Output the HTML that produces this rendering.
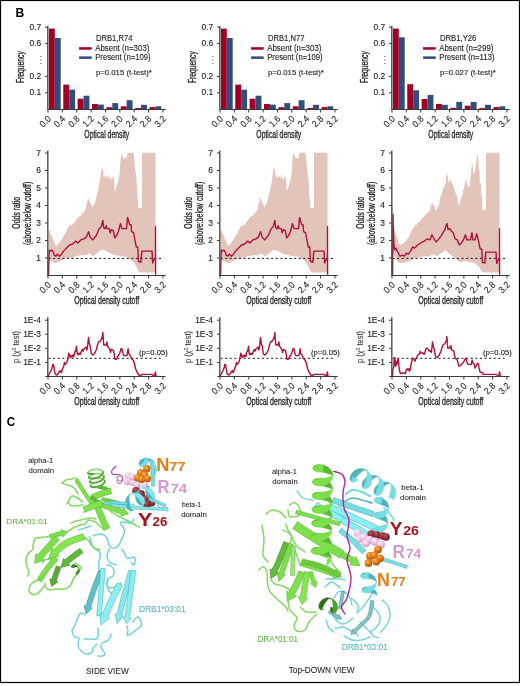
<!DOCTYPE html>
<html><head><meta charset="utf-8"><style>
html,body{margin:0;padding:0;background:#fff;}
svg{display:block;font-family:"Liberation Sans",sans-serif;will-change:transform;}
</style></head><body>
<svg width="520" height="686" viewBox="0 0 520 686">
<rect x="0.5" y="0.5" width="519" height="682" fill="#fff" stroke="#000" stroke-width="1.2"/>
<text transform="translate(15.60,16.60) scale(0.97,1)" font-size="12.5" fill="#000" font-weight="bold">B</text>
<rect x="48.90" y="28.6" width="5.9" height="80.90" fill="#a30026"/>
<rect x="54.80" y="38.0" width="5.9" height="71.50" fill="#304d7d"/>
<rect x="63.27" y="84.6" width="5.9" height="24.90" fill="#a30026"/>
<rect x="69.17" y="89.7" width="5.9" height="19.80" fill="#304d7d"/>
<rect x="77.64" y="98.7" width="5.9" height="10.80" fill="#a30026"/>
<rect x="83.54" y="95.7" width="5.9" height="13.80" fill="#304d7d"/>
<rect x="92.01" y="104.0" width="5.9" height="5.50" fill="#a30026"/>
<rect x="97.91" y="104.6" width="5.9" height="4.90" fill="#304d7d"/>
<rect x="106.38" y="107.2" width="5.9" height="2.30" fill="#a30026"/>
<rect x="112.28" y="103.1" width="5.9" height="6.40" fill="#304d7d"/>
<rect x="120.75" y="106.3" width="5.9" height="3.20" fill="#a30026"/>
<rect x="126.65" y="100.2" width="5.9" height="9.30" fill="#304d7d"/>
<rect x="135.12" y="108.0" width="5.9" height="1.50" fill="#a30026"/>
<rect x="141.02" y="104.8" width="5.9" height="4.70" fill="#304d7d"/>
<rect x="149.49" y="107.1" width="5.9" height="2.40" fill="#a30026"/>
<rect x="155.39" y="106.3" width="5.9" height="3.20" fill="#304d7d"/>
<line x1="47.80" y1="25.8" x2="47.80" y2="109.5" stroke="#4a524e" stroke-width="1.4"/>
<line x1="45.00" y1="27.20" x2="47.80" y2="27.20" stroke="#3a3a3a" stroke-width="1"/>
<text transform="translate(41.20,29.80) scale(0.92,1)" font-size="9.2" fill="#222" stroke="#222" stroke-width="0.12" text-anchor="end">0.7</text>
<line x1="45.00" y1="43.60" x2="47.80" y2="43.60" stroke="#3a3a3a" stroke-width="1"/>
<text transform="translate(41.20,46.20) scale(0.92,1)" font-size="9.2" fill="#222" stroke="#222" stroke-width="0.12" text-anchor="end">0.6</text>
<line x1="45.00" y1="76.40" x2="47.80" y2="76.40" stroke="#3a3a3a" stroke-width="1"/>
<text transform="translate(41.20,79.00) scale(0.92,1)" font-size="9.2" fill="#222" stroke="#222" stroke-width="0.12" text-anchor="end">0.2</text>
<line x1="45.00" y1="92.80" x2="47.80" y2="92.80" stroke="#3a3a3a" stroke-width="1"/>
<text transform="translate(41.20,95.40) scale(0.92,1)" font-size="9.2" fill="#222" stroke="#222" stroke-width="0.12" text-anchor="end">0.1</text>
<circle cx="40.90" cy="56.5" r="0.55" fill="#222"/>
<circle cx="40.90" cy="60.0" r="0.55" fill="#222"/>
<circle cx="40.90" cy="63.5" r="0.55" fill="#222"/>
<line x1="47.10" y1="109.5" x2="165.70" y2="109.5" stroke="#3a3a3a" stroke-width="1.1"/>
<line x1="48.00" y1="109.5" x2="48.00" y2="112.5" stroke="#3a3a3a" stroke-width="1"/>
<text transform="translate(51.50,119.50) rotate(-45) scale(0.92,1)" font-size="9.2" fill="#222" stroke="#222" stroke-width="0.12" text-anchor="end">0.0</text>
<line x1="62.37" y1="109.5" x2="62.37" y2="112.5" stroke="#3a3a3a" stroke-width="1"/>
<text transform="translate(65.87,119.50) rotate(-45) scale(0.92,1)" font-size="9.2" fill="#222" stroke="#222" stroke-width="0.12" text-anchor="end">0.4</text>
<line x1="76.74" y1="109.5" x2="76.74" y2="112.5" stroke="#3a3a3a" stroke-width="1"/>
<text transform="translate(80.24,119.50) rotate(-45) scale(0.92,1)" font-size="9.2" fill="#222" stroke="#222" stroke-width="0.12" text-anchor="end">0.8</text>
<line x1="91.11" y1="109.5" x2="91.11" y2="112.5" stroke="#3a3a3a" stroke-width="1"/>
<text transform="translate(94.61,119.50) rotate(-45) scale(0.92,1)" font-size="9.2" fill="#222" stroke="#222" stroke-width="0.12" text-anchor="end">1.2</text>
<line x1="105.48" y1="109.5" x2="105.48" y2="112.5" stroke="#3a3a3a" stroke-width="1"/>
<text transform="translate(108.98,119.50) rotate(-45) scale(0.92,1)" font-size="9.2" fill="#222" stroke="#222" stroke-width="0.12" text-anchor="end">1.6</text>
<line x1="119.85" y1="109.5" x2="119.85" y2="112.5" stroke="#3a3a3a" stroke-width="1"/>
<text transform="translate(123.35,119.50) rotate(-45) scale(0.92,1)" font-size="9.2" fill="#222" stroke="#222" stroke-width="0.12" text-anchor="end">2.0</text>
<line x1="134.22" y1="109.5" x2="134.22" y2="112.5" stroke="#3a3a3a" stroke-width="1"/>
<text transform="translate(137.72,119.50) rotate(-45) scale(0.92,1)" font-size="9.2" fill="#222" stroke="#222" stroke-width="0.12" text-anchor="end">2.4</text>
<line x1="148.59" y1="109.5" x2="148.59" y2="112.5" stroke="#3a3a3a" stroke-width="1"/>
<text transform="translate(152.09,119.50) rotate(-45) scale(0.92,1)" font-size="9.2" fill="#222" stroke="#222" stroke-width="0.12" text-anchor="end">2.8</text>
<line x1="162.96" y1="109.5" x2="162.96" y2="112.5" stroke="#3a3a3a" stroke-width="1"/>
<text transform="translate(166.46,119.50) rotate(-45) scale(0.92,1)" font-size="9.2" fill="#222" stroke="#222" stroke-width="0.12" text-anchor="end">3.2</text>
<text transform="translate(106.80,137.90)" font-size="10.4" fill="#222" stroke="#222" stroke-width="0.3" text-anchor="middle" textLength="45" lengthAdjust="spacingAndGlyphs">Optical density</text>
<text transform="translate(23.60,67.10) rotate(-90)" font-size="10.4" fill="#222" stroke="#222" stroke-width="0.3" text-anchor="middle" textLength="31.8" lengthAdjust="spacingAndGlyphs">Frequency</text>
<text transform="translate(96.00,41.10)" font-size="8.5" fill="#222" stroke="#222" stroke-width="0.12" textLength="36.4" lengthAdjust="spacingAndGlyphs">DRB1,R74</text>
<rect x="79.10" y="47.2" width="12.6" height="2.5" fill="#a30026"/>
<rect x="79.10" y="56.4" width="12.6" height="2.5" fill="#304d7d"/>
<text transform="translate(95.20,50.60)" font-size="8.3" fill="#222" stroke="#222" stroke-width="0.12" textLength="54.2" lengthAdjust="spacingAndGlyphs">Absent (n=303)</text>
<text transform="translate(95.20,59.60)" font-size="8.3" fill="#222" stroke="#222" stroke-width="0.12" textLength="55.4" lengthAdjust="spacingAndGlyphs">Present (n=109)</text>
<text transform="translate(95.90,74.60)" font-size="8.1" fill="#222" stroke="#222" stroke-width="0.12" textLength="56.0" lengthAdjust="spacingAndGlyphs">p=0.015 (t-test)*</text>
<rect x="220.90" y="28.6" width="5.9" height="80.90" fill="#a30026"/>
<rect x="226.80" y="38.0" width="5.9" height="71.50" fill="#304d7d"/>
<rect x="235.27" y="84.6" width="5.9" height="24.90" fill="#a30026"/>
<rect x="241.17" y="89.7" width="5.9" height="19.80" fill="#304d7d"/>
<rect x="249.64" y="98.7" width="5.9" height="10.80" fill="#a30026"/>
<rect x="255.54" y="95.7" width="5.9" height="13.80" fill="#304d7d"/>
<rect x="264.01" y="104.0" width="5.9" height="5.50" fill="#a30026"/>
<rect x="269.91" y="104.6" width="5.9" height="4.90" fill="#304d7d"/>
<rect x="278.38" y="107.2" width="5.9" height="2.30" fill="#a30026"/>
<rect x="284.28" y="103.1" width="5.9" height="6.40" fill="#304d7d"/>
<rect x="292.75" y="106.3" width="5.9" height="3.20" fill="#a30026"/>
<rect x="298.65" y="100.2" width="5.9" height="9.30" fill="#304d7d"/>
<rect x="307.12" y="108.0" width="5.9" height="1.50" fill="#a30026"/>
<rect x="313.02" y="104.8" width="5.9" height="4.70" fill="#304d7d"/>
<rect x="321.49" y="107.1" width="5.9" height="2.40" fill="#a30026"/>
<rect x="327.39" y="106.3" width="5.9" height="3.20" fill="#304d7d"/>
<line x1="219.80" y1="25.8" x2="219.80" y2="109.5" stroke="#4a524e" stroke-width="1.4"/>
<line x1="217.00" y1="27.20" x2="219.80" y2="27.20" stroke="#3a3a3a" stroke-width="1"/>
<text transform="translate(213.20,29.80) scale(0.92,1)" font-size="9.2" fill="#222" stroke="#222" stroke-width="0.12" text-anchor="end">0.7</text>
<line x1="217.00" y1="43.60" x2="219.80" y2="43.60" stroke="#3a3a3a" stroke-width="1"/>
<text transform="translate(213.20,46.20) scale(0.92,1)" font-size="9.2" fill="#222" stroke="#222" stroke-width="0.12" text-anchor="end">0.6</text>
<line x1="217.00" y1="76.40" x2="219.80" y2="76.40" stroke="#3a3a3a" stroke-width="1"/>
<text transform="translate(213.20,79.00) scale(0.92,1)" font-size="9.2" fill="#222" stroke="#222" stroke-width="0.12" text-anchor="end">0.2</text>
<line x1="217.00" y1="92.80" x2="219.80" y2="92.80" stroke="#3a3a3a" stroke-width="1"/>
<text transform="translate(213.20,95.40) scale(0.92,1)" font-size="9.2" fill="#222" stroke="#222" stroke-width="0.12" text-anchor="end">0.1</text>
<circle cx="212.90" cy="56.5" r="0.55" fill="#222"/>
<circle cx="212.90" cy="60.0" r="0.55" fill="#222"/>
<circle cx="212.90" cy="63.5" r="0.55" fill="#222"/>
<line x1="219.10" y1="109.5" x2="337.70" y2="109.5" stroke="#3a3a3a" stroke-width="1.1"/>
<line x1="220.00" y1="109.5" x2="220.00" y2="112.5" stroke="#3a3a3a" stroke-width="1"/>
<text transform="translate(223.50,119.50) rotate(-45) scale(0.92,1)" font-size="9.2" fill="#222" stroke="#222" stroke-width="0.12" text-anchor="end">0.0</text>
<line x1="234.37" y1="109.5" x2="234.37" y2="112.5" stroke="#3a3a3a" stroke-width="1"/>
<text transform="translate(237.87,119.50) rotate(-45) scale(0.92,1)" font-size="9.2" fill="#222" stroke="#222" stroke-width="0.12" text-anchor="end">0.4</text>
<line x1="248.74" y1="109.5" x2="248.74" y2="112.5" stroke="#3a3a3a" stroke-width="1"/>
<text transform="translate(252.24,119.50) rotate(-45) scale(0.92,1)" font-size="9.2" fill="#222" stroke="#222" stroke-width="0.12" text-anchor="end">0.8</text>
<line x1="263.11" y1="109.5" x2="263.11" y2="112.5" stroke="#3a3a3a" stroke-width="1"/>
<text transform="translate(266.61,119.50) rotate(-45) scale(0.92,1)" font-size="9.2" fill="#222" stroke="#222" stroke-width="0.12" text-anchor="end">1.2</text>
<line x1="277.48" y1="109.5" x2="277.48" y2="112.5" stroke="#3a3a3a" stroke-width="1"/>
<text transform="translate(280.98,119.50) rotate(-45) scale(0.92,1)" font-size="9.2" fill="#222" stroke="#222" stroke-width="0.12" text-anchor="end">1.6</text>
<line x1="291.85" y1="109.5" x2="291.85" y2="112.5" stroke="#3a3a3a" stroke-width="1"/>
<text transform="translate(295.35,119.50) rotate(-45) scale(0.92,1)" font-size="9.2" fill="#222" stroke="#222" stroke-width="0.12" text-anchor="end">2.0</text>
<line x1="306.22" y1="109.5" x2="306.22" y2="112.5" stroke="#3a3a3a" stroke-width="1"/>
<text transform="translate(309.72,119.50) rotate(-45) scale(0.92,1)" font-size="9.2" fill="#222" stroke="#222" stroke-width="0.12" text-anchor="end">2.4</text>
<line x1="320.59" y1="109.5" x2="320.59" y2="112.5" stroke="#3a3a3a" stroke-width="1"/>
<text transform="translate(324.09,119.50) rotate(-45) scale(0.92,1)" font-size="9.2" fill="#222" stroke="#222" stroke-width="0.12" text-anchor="end">2.8</text>
<line x1="334.96" y1="109.5" x2="334.96" y2="112.5" stroke="#3a3a3a" stroke-width="1"/>
<text transform="translate(338.46,119.50) rotate(-45) scale(0.92,1)" font-size="9.2" fill="#222" stroke="#222" stroke-width="0.12" text-anchor="end">3.2</text>
<text transform="translate(278.80,137.90)" font-size="10.4" fill="#222" stroke="#222" stroke-width="0.3" text-anchor="middle" textLength="45" lengthAdjust="spacingAndGlyphs">Optical density</text>
<text transform="translate(195.60,67.10) rotate(-90)" font-size="10.4" fill="#222" stroke="#222" stroke-width="0.3" text-anchor="middle" textLength="31.8" lengthAdjust="spacingAndGlyphs">Frequency</text>
<text transform="translate(268.00,41.10)" font-size="8.5" fill="#222" stroke="#222" stroke-width="0.12" textLength="36.4" lengthAdjust="spacingAndGlyphs">DRB1,N77</text>
<rect x="251.10" y="47.2" width="12.6" height="2.5" fill="#a30026"/>
<rect x="251.10" y="56.4" width="12.6" height="2.5" fill="#304d7d"/>
<text transform="translate(267.20,50.60)" font-size="8.3" fill="#222" stroke="#222" stroke-width="0.12" textLength="54.2" lengthAdjust="spacingAndGlyphs">Absent (n=303)</text>
<text transform="translate(267.20,59.60)" font-size="8.3" fill="#222" stroke="#222" stroke-width="0.12" textLength="55.4" lengthAdjust="spacingAndGlyphs">Present (n=109)</text>
<text transform="translate(267.90,74.60)" font-size="8.1" fill="#222" stroke="#222" stroke-width="0.12" textLength="56.0" lengthAdjust="spacingAndGlyphs">p=0.015 (t-test)*</text>
<rect x="392.90" y="28.6" width="5.9" height="80.90" fill="#a30026"/>
<rect x="398.80" y="37.3" width="5.9" height="72.20" fill="#304d7d"/>
<rect x="407.27" y="84.2" width="5.9" height="25.30" fill="#a30026"/>
<rect x="413.17" y="90.3" width="5.9" height="19.20" fill="#304d7d"/>
<rect x="421.64" y="99.0" width="5.9" height="10.50" fill="#a30026"/>
<rect x="427.54" y="94.9" width="5.9" height="14.60" fill="#304d7d"/>
<rect x="436.01" y="103.9" width="5.9" height="5.60" fill="#a30026"/>
<rect x="441.91" y="104.8" width="5.9" height="4.70" fill="#304d7d"/>
<rect x="450.38" y="107.8" width="5.9" height="1.70" fill="#a30026"/>
<rect x="456.28" y="101.9" width="5.9" height="7.60" fill="#304d7d"/>
<rect x="464.75" y="105.7" width="5.9" height="3.80" fill="#a30026"/>
<rect x="470.65" y="101.9" width="5.9" height="7.60" fill="#304d7d"/>
<rect x="479.12" y="108.1" width="5.9" height="1.40" fill="#a30026"/>
<rect x="485.02" y="104.8" width="5.9" height="4.70" fill="#304d7d"/>
<rect x="493.49" y="107.1" width="5.9" height="2.40" fill="#a30026"/>
<rect x="499.39" y="106.3" width="5.9" height="3.20" fill="#304d7d"/>
<line x1="391.80" y1="25.8" x2="391.80" y2="109.5" stroke="#4a524e" stroke-width="1.4"/>
<line x1="389.00" y1="27.20" x2="391.80" y2="27.20" stroke="#3a3a3a" stroke-width="1"/>
<text transform="translate(385.20,29.80) scale(0.92,1)" font-size="9.2" fill="#222" stroke="#222" stroke-width="0.12" text-anchor="end">0.7</text>
<line x1="389.00" y1="43.60" x2="391.80" y2="43.60" stroke="#3a3a3a" stroke-width="1"/>
<text transform="translate(385.20,46.20) scale(0.92,1)" font-size="9.2" fill="#222" stroke="#222" stroke-width="0.12" text-anchor="end">0.6</text>
<line x1="389.00" y1="76.40" x2="391.80" y2="76.40" stroke="#3a3a3a" stroke-width="1"/>
<text transform="translate(385.20,79.00) scale(0.92,1)" font-size="9.2" fill="#222" stroke="#222" stroke-width="0.12" text-anchor="end">0.2</text>
<line x1="389.00" y1="92.80" x2="391.80" y2="92.80" stroke="#3a3a3a" stroke-width="1"/>
<text transform="translate(385.20,95.40) scale(0.92,1)" font-size="9.2" fill="#222" stroke="#222" stroke-width="0.12" text-anchor="end">0.1</text>
<circle cx="384.90" cy="56.5" r="0.55" fill="#222"/>
<circle cx="384.90" cy="60.0" r="0.55" fill="#222"/>
<circle cx="384.90" cy="63.5" r="0.55" fill="#222"/>
<line x1="391.10" y1="109.5" x2="509.70" y2="109.5" stroke="#3a3a3a" stroke-width="1.1"/>
<line x1="392.00" y1="109.5" x2="392.00" y2="112.5" stroke="#3a3a3a" stroke-width="1"/>
<text transform="translate(395.50,119.50) rotate(-45) scale(0.92,1)" font-size="9.2" fill="#222" stroke="#222" stroke-width="0.12" text-anchor="end">0.0</text>
<line x1="406.37" y1="109.5" x2="406.37" y2="112.5" stroke="#3a3a3a" stroke-width="1"/>
<text transform="translate(409.87,119.50) rotate(-45) scale(0.92,1)" font-size="9.2" fill="#222" stroke="#222" stroke-width="0.12" text-anchor="end">0.4</text>
<line x1="420.74" y1="109.5" x2="420.74" y2="112.5" stroke="#3a3a3a" stroke-width="1"/>
<text transform="translate(424.24,119.50) rotate(-45) scale(0.92,1)" font-size="9.2" fill="#222" stroke="#222" stroke-width="0.12" text-anchor="end">0.8</text>
<line x1="435.11" y1="109.5" x2="435.11" y2="112.5" stroke="#3a3a3a" stroke-width="1"/>
<text transform="translate(438.61,119.50) rotate(-45) scale(0.92,1)" font-size="9.2" fill="#222" stroke="#222" stroke-width="0.12" text-anchor="end">1.2</text>
<line x1="449.48" y1="109.5" x2="449.48" y2="112.5" stroke="#3a3a3a" stroke-width="1"/>
<text transform="translate(452.98,119.50) rotate(-45) scale(0.92,1)" font-size="9.2" fill="#222" stroke="#222" stroke-width="0.12" text-anchor="end">1.6</text>
<line x1="463.85" y1="109.5" x2="463.85" y2="112.5" stroke="#3a3a3a" stroke-width="1"/>
<text transform="translate(467.35,119.50) rotate(-45) scale(0.92,1)" font-size="9.2" fill="#222" stroke="#222" stroke-width="0.12" text-anchor="end">2.0</text>
<line x1="478.22" y1="109.5" x2="478.22" y2="112.5" stroke="#3a3a3a" stroke-width="1"/>
<text transform="translate(481.72,119.50) rotate(-45) scale(0.92,1)" font-size="9.2" fill="#222" stroke="#222" stroke-width="0.12" text-anchor="end">2.4</text>
<line x1="492.59" y1="109.5" x2="492.59" y2="112.5" stroke="#3a3a3a" stroke-width="1"/>
<text transform="translate(496.09,119.50) rotate(-45) scale(0.92,1)" font-size="9.2" fill="#222" stroke="#222" stroke-width="0.12" text-anchor="end">2.8</text>
<line x1="506.96" y1="109.5" x2="506.96" y2="112.5" stroke="#3a3a3a" stroke-width="1"/>
<text transform="translate(510.46,119.50) rotate(-45) scale(0.92,1)" font-size="9.2" fill="#222" stroke="#222" stroke-width="0.12" text-anchor="end">3.2</text>
<text transform="translate(450.80,137.90)" font-size="10.4" fill="#222" stroke="#222" stroke-width="0.3" text-anchor="middle" textLength="45" lengthAdjust="spacingAndGlyphs">Optical density</text>
<text transform="translate(367.60,67.10) rotate(-90)" font-size="10.4" fill="#222" stroke="#222" stroke-width="0.3" text-anchor="middle" textLength="31.8" lengthAdjust="spacingAndGlyphs">Frequency</text>
<text transform="translate(440.00,41.10)" font-size="8.5" fill="#222" stroke="#222" stroke-width="0.12" textLength="36.4" lengthAdjust="spacingAndGlyphs">DRB1,Y26</text>
<rect x="423.10" y="47.2" width="12.6" height="2.5" fill="#a30026"/>
<rect x="423.10" y="56.4" width="12.6" height="2.5" fill="#304d7d"/>
<text transform="translate(439.20,50.60)" font-size="8.3" fill="#222" stroke="#222" stroke-width="0.12" textLength="54.2" lengthAdjust="spacingAndGlyphs">Absent (n=299)</text>
<text transform="translate(439.20,59.60)" font-size="8.3" fill="#222" stroke="#222" stroke-width="0.12" textLength="55.4" lengthAdjust="spacingAndGlyphs">Present (n=113)</text>
<text transform="translate(439.90,74.60)" font-size="8.1" fill="#222" stroke="#222" stroke-width="0.12" textLength="56.0" lengthAdjust="spacingAndGlyphs">p=0.027 (t-test)*</text>
<path d="M48.57,232.76 L48.73,232.24 L48.98,230.29 L49.38,230.29 L49.63,232.24 L49.80,231.73 L49.55,232.24 L49.80,230.07 L50.20,230.07 L50.45,232.24 L50.20,232.76 L51.22,234.80 L52.24,236.84 L53.33,240.92 L53.58,240.87 L53.98,240.87 L54.23,240.92 L55.31,245.00 L55.82,245.51 L56.33,246.02 L56.90,245.00 L57.15,244.16 L57.55,244.16 L57.80,245.00 L58.37,243.98 L59.39,242.45 L60.41,240.92 L61.77,238.88 L63.13,236.84 L64.49,234.80 L65.85,232.07 L67.21,229.35 L68.57,226.63 L69.48,225.95 L69.73,223.67 L70.13,223.67 L70.38,225.95 L71.29,225.27 L72.65,224.59 L74.18,222.55 L75.71,220.51 L76.73,218.98 L77.76,217.45 L79.29,216.43 L80.82,215.41 L81.90,213.88 L82.15,211.15 L82.55,211.15 L82.80,213.88 L83.88,212.35 L84.90,210.31 L85.92,208.27 L86.49,202.65 L86.74,202.54 L87.14,202.54 L87.39,202.65 L87.96,197.04 L88.98,199.59 L90.00,202.14 L91.33,204.69 L92.65,207.24 L93.88,204.69 L95.10,202.14 L96.63,196.02 L98.16,189.90 L99.18,184.29 L100.20,178.67 L101.12,172.04 L102.04,165.41 L102.41,171.53 L102.66,168.65 L103.06,168.65 L103.31,171.53 L103.67,177.65 L103.94,178.16 L104.19,174.80 L104.59,174.80 L104.84,178.16 L105.10,178.67 L105.61,177.14 L106.12,175.61 L106.69,176.63 L106.94,176.14 L107.34,176.14 L107.59,176.63 L108.16,177.65 L108.73,177.65 L108.98,174.18 L109.38,174.18 L109.63,177.65 L110.20,177.65 L110.26,180.20 L110.51,177.95 L110.91,177.95 L111.16,180.20 L111.22,182.76 L111.28,180.20 L111.53,178.38 L111.93,178.38 L112.18,180.20 L112.24,177.65 L112.61,177.14 L112.86,175.88 L113.26,175.88 L113.51,177.14 L113.88,176.63 L114.29,183.78 L114.69,190.92 L115.31,189.90 L115.92,188.88 L116.63,186.33 L117.35,183.78 L118.37,179.69 L119.39,175.61 L119.90,168.47 L120.41,161.33 L121.43,152.76 L123.47,158.27 L125.00,158.27 L126.53,158.27 L127.55,152.76 L133.67,152.76 L134.69,165.41 L135.51,171.53 L136.33,177.65 L136.84,185.82 L137.35,193.98 L137.41,201.12 L137.66,198.02 L138.06,198.02 L138.31,201.12 L138.37,208.27 L139.52,208.27 L140.68,208.27 L141.84,208.27 L142.04,152.76 L155.51,152.76 L155.51,273.57 L155.10,272.55 L140.82,272.55 L138.37,271.53 L136.33,266.43 L133.67,262.35 L130.61,259.29 L126.53,256.84 L120.41,256.22 L116.33,255.20 L112.24,254.18 L108.16,252.14 L104.08,250.10 L101.22,250.10 L97.14,253.16 L93.06,256.22 L88.98,253.16 L85.92,255.20 L80.82,255.20 L75.71,256.22 L70.61,258.27 L66.53,258.27 L62.45,260.31 L58.37,262.35 L55.31,263.37 L52.24,261.33 L50.20,261.33 L48.57,259.29 Z" fill="#e2c4ba"/>
<line x1="48.50" y1="258.4" x2="161.20" y2="258.4" stroke="#1a1a1a" stroke-width="1" stroke-dasharray="2.1,2.5"/>
<path d="M48.57,275.20 L49.18,250.10 L50.20,251.12 L51.84,250.10 L53.27,252.14 L54.29,255.20 L55.92,256.22 L57.35,254.18 L59.39,256.22 L61.43,254.18 L63.47,251.12 L66.53,248.06 L69.59,245.00 L72.65,243.98 L75.71,240.92 L77.76,242.96 L80.82,239.90 L83.88,238.88 L86.53,236.84 L88.57,231.73 L90.00,236.84 L92.65,239.90 L96.12,235.82 L99.18,228.67 L101.22,226.63 L102.86,220.51 L103.67,227.65 L105.10,228.67 L106.12,225.61 L107.14,228.67 L109.18,228.67 L110.20,232.76 L111.22,229.69 L113.27,230.71 L114.69,237.86 L116.33,235.82 L118.37,231.73 L120.41,223.57 L122.04,228.67 L126.53,228.67 L127.55,217.45 L129.59,224.59 L131.02,224.59 L131.63,231.73 L133.67,232.76 L134.69,238.88 L136.33,247.04 L137.76,247.04 L138.37,261.33 L140.82,262.35 L141.84,251.12 L152.04,251.12 L152.65,262.96 L154.08,259.29 L155.10,258.27 L155.51,258.27 L155.51,226.63 L155.59,274.80" fill="none" stroke="#b0113a" stroke-width="1.4" stroke-linejoin="round"/>
<line x1="47.80" y1="150.6" x2="47.80" y2="275.5" stroke="#4a524e" stroke-width="1.4"/>
<line x1="45.00" y1="258.00" x2="47.80" y2="258.00" stroke="#3a3a3a" stroke-width="1"/>
<text transform="translate(41.00,260.60) scale(0.92,1)" font-size="9.2" fill="#222" stroke="#222" stroke-width="0.12" text-anchor="end">1</text>
<line x1="45.00" y1="240.50" x2="47.80" y2="240.50" stroke="#3a3a3a" stroke-width="1"/>
<text transform="translate(41.00,243.10) scale(0.92,1)" font-size="9.2" fill="#222" stroke="#222" stroke-width="0.12" text-anchor="end">2</text>
<line x1="45.00" y1="223.00" x2="47.80" y2="223.00" stroke="#3a3a3a" stroke-width="1"/>
<text transform="translate(41.00,225.60) scale(0.92,1)" font-size="9.2" fill="#222" stroke="#222" stroke-width="0.12" text-anchor="end">3</text>
<line x1="45.00" y1="205.50" x2="47.80" y2="205.50" stroke="#3a3a3a" stroke-width="1"/>
<text transform="translate(41.00,208.10) scale(0.92,1)" font-size="9.2" fill="#222" stroke="#222" stroke-width="0.12" text-anchor="end">4</text>
<line x1="45.00" y1="188.00" x2="47.80" y2="188.00" stroke="#3a3a3a" stroke-width="1"/>
<text transform="translate(41.00,190.60) scale(0.92,1)" font-size="9.2" fill="#222" stroke="#222" stroke-width="0.12" text-anchor="end">5</text>
<line x1="45.00" y1="170.50" x2="47.80" y2="170.50" stroke="#3a3a3a" stroke-width="1"/>
<text transform="translate(41.00,173.10) scale(0.92,1)" font-size="9.2" fill="#222" stroke="#222" stroke-width="0.12" text-anchor="end">6</text>
<line x1="45.00" y1="153.00" x2="47.80" y2="153.00" stroke="#3a3a3a" stroke-width="1"/>
<text transform="translate(41.00,155.60) scale(0.92,1)" font-size="9.2" fill="#222" stroke="#222" stroke-width="0.12" text-anchor="end">7</text>
<line x1="47.10" y1="275.5" x2="165.70" y2="275.5" stroke="#3a3a3a" stroke-width="1.1"/>
<line x1="48.00" y1="275.5" x2="48.00" y2="278.5" stroke="#3a3a3a" stroke-width="1"/>
<text transform="translate(51.50,285.50) rotate(-45) scale(0.92,1)" font-size="9.2" fill="#222" stroke="#222" stroke-width="0.12" text-anchor="end">0.0</text>
<line x1="62.37" y1="275.5" x2="62.37" y2="278.5" stroke="#3a3a3a" stroke-width="1"/>
<text transform="translate(65.87,285.50) rotate(-45) scale(0.92,1)" font-size="9.2" fill="#222" stroke="#222" stroke-width="0.12" text-anchor="end">0.4</text>
<line x1="76.74" y1="275.5" x2="76.74" y2="278.5" stroke="#3a3a3a" stroke-width="1"/>
<text transform="translate(80.24,285.50) rotate(-45) scale(0.92,1)" font-size="9.2" fill="#222" stroke="#222" stroke-width="0.12" text-anchor="end">0.8</text>
<line x1="91.11" y1="275.5" x2="91.11" y2="278.5" stroke="#3a3a3a" stroke-width="1"/>
<text transform="translate(94.61,285.50) rotate(-45) scale(0.92,1)" font-size="9.2" fill="#222" stroke="#222" stroke-width="0.12" text-anchor="end">1.2</text>
<line x1="105.48" y1="275.5" x2="105.48" y2="278.5" stroke="#3a3a3a" stroke-width="1"/>
<text transform="translate(108.98,285.50) rotate(-45) scale(0.92,1)" font-size="9.2" fill="#222" stroke="#222" stroke-width="0.12" text-anchor="end">1.6</text>
<line x1="119.85" y1="275.5" x2="119.85" y2="278.5" stroke="#3a3a3a" stroke-width="1"/>
<text transform="translate(123.35,285.50) rotate(-45) scale(0.92,1)" font-size="9.2" fill="#222" stroke="#222" stroke-width="0.12" text-anchor="end">2.0</text>
<line x1="134.22" y1="275.5" x2="134.22" y2="278.5" stroke="#3a3a3a" stroke-width="1"/>
<text transform="translate(137.72,285.50) rotate(-45) scale(0.92,1)" font-size="9.2" fill="#222" stroke="#222" stroke-width="0.12" text-anchor="end">2.4</text>
<line x1="148.59" y1="275.5" x2="148.59" y2="278.5" stroke="#3a3a3a" stroke-width="1"/>
<text transform="translate(152.09,285.50) rotate(-45) scale(0.92,1)" font-size="9.2" fill="#222" stroke="#222" stroke-width="0.12" text-anchor="end">2.8</text>
<line x1="162.96" y1="275.5" x2="162.96" y2="278.5" stroke="#3a3a3a" stroke-width="1"/>
<text transform="translate(166.46,285.50) rotate(-45) scale(0.92,1)" font-size="9.2" fill="#222" stroke="#222" stroke-width="0.12" text-anchor="end">3.2</text>
<text transform="translate(106.80,304.40)" font-size="10.4" fill="#222" stroke="#222" stroke-width="0.3" text-anchor="middle" textLength="65" lengthAdjust="spacingAndGlyphs">Optical density cutoff</text>
<text transform="translate(20.00,212.80) rotate(-90)" font-size="10.6" fill="#222" stroke="#222" stroke-width="0.3" text-anchor="middle" textLength="31.8" lengthAdjust="spacingAndGlyphs">Odds ratio</text>
<text transform="translate(30.60,213.30) rotate(-90)" font-size="10.6" fill="#222" stroke="#222" stroke-width="0.3" text-anchor="middle" textLength="63.4" lengthAdjust="spacingAndGlyphs">(above:below cutoff)</text>
<path d="M220.57,232.76 L220.73,232.24 L220.98,230.29 L221.38,230.29 L221.63,232.24 L221.80,231.73 L221.55,232.24 L221.80,230.07 L222.20,230.07 L222.45,232.24 L222.20,232.76 L223.22,234.80 L224.24,236.84 L225.33,240.92 L225.58,240.87 L225.98,240.87 L226.23,240.92 L227.31,245.00 L227.82,245.51 L228.33,246.02 L228.90,245.00 L229.15,244.16 L229.55,244.16 L229.80,245.00 L230.37,243.98 L231.39,242.45 L232.41,240.92 L233.77,238.88 L235.13,236.84 L236.49,234.80 L237.85,232.07 L239.21,229.35 L240.57,226.63 L241.48,225.95 L241.73,223.67 L242.13,223.67 L242.38,225.95 L243.29,225.27 L244.65,224.59 L246.18,222.55 L247.71,220.51 L248.73,218.98 L249.76,217.45 L251.29,216.43 L252.82,215.41 L253.90,213.88 L254.15,211.15 L254.55,211.15 L254.80,213.88 L255.88,212.35 L256.90,210.31 L257.92,208.27 L258.49,202.65 L258.74,202.54 L259.14,202.54 L259.39,202.65 L259.96,197.04 L260.98,199.59 L262.00,202.14 L263.33,204.69 L264.65,207.24 L265.88,204.69 L267.10,202.14 L268.63,196.02 L270.16,189.90 L271.18,184.29 L272.20,178.67 L273.12,172.04 L274.04,165.41 L274.41,171.53 L274.66,168.65 L275.06,168.65 L275.31,171.53 L275.67,177.65 L275.94,178.16 L276.19,174.80 L276.59,174.80 L276.84,178.16 L277.10,178.67 L277.61,177.14 L278.12,175.61 L278.69,176.63 L278.94,176.14 L279.34,176.14 L279.59,176.63 L280.16,177.65 L280.73,177.65 L280.98,174.18 L281.38,174.18 L281.63,177.65 L282.20,177.65 L282.26,180.20 L282.51,177.95 L282.91,177.95 L283.16,180.20 L283.22,182.76 L283.28,180.20 L283.53,178.38 L283.93,178.38 L284.18,180.20 L284.24,177.65 L284.61,177.14 L284.86,175.88 L285.26,175.88 L285.51,177.14 L285.88,176.63 L286.29,183.78 L286.69,190.92 L287.31,189.90 L287.92,188.88 L288.63,186.33 L289.35,183.78 L290.37,179.69 L291.39,175.61 L291.90,168.47 L292.41,161.33 L293.43,152.76 L295.47,158.27 L297.00,158.27 L298.53,158.27 L299.55,152.76 L305.67,152.76 L306.69,165.41 L307.51,171.53 L308.33,177.65 L308.84,185.82 L309.35,193.98 L309.41,201.12 L309.66,198.02 L310.06,198.02 L310.31,201.12 L310.37,208.27 L311.52,208.27 L312.68,208.27 L313.84,208.27 L314.04,152.76 L327.51,152.76 L327.51,273.57 L327.10,272.55 L312.82,272.55 L310.37,271.53 L308.33,266.43 L305.67,262.35 L302.61,259.29 L298.53,256.84 L292.41,256.22 L288.33,255.20 L284.24,254.18 L280.16,252.14 L276.08,250.10 L273.22,250.10 L269.14,253.16 L265.06,256.22 L260.98,253.16 L257.92,255.20 L252.82,255.20 L247.71,256.22 L242.61,258.27 L238.53,258.27 L234.45,260.31 L230.37,262.35 L227.31,263.37 L224.24,261.33 L222.20,261.33 L220.57,259.29 Z" fill="#e2c4ba"/>
<line x1="220.50" y1="258.4" x2="333.20" y2="258.4" stroke="#1a1a1a" stroke-width="1" stroke-dasharray="2.1,2.5"/>
<path d="M220.57,275.20 L221.18,250.10 L222.20,251.12 L223.84,250.10 L225.27,252.14 L226.29,255.20 L227.92,256.22 L229.35,254.18 L231.39,256.22 L233.43,254.18 L235.47,251.12 L238.53,248.06 L241.59,245.00 L244.65,243.98 L247.71,240.92 L249.76,242.96 L252.82,239.90 L255.88,238.88 L258.53,236.84 L260.57,231.73 L262.00,236.84 L264.65,239.90 L268.12,235.82 L271.18,228.67 L273.22,226.63 L274.86,220.51 L275.67,227.65 L277.10,228.67 L278.12,225.61 L279.14,228.67 L281.18,228.67 L282.20,232.76 L283.22,229.69 L285.27,230.71 L286.69,237.86 L288.33,235.82 L290.37,231.73 L292.41,223.57 L294.04,228.67 L298.53,228.67 L299.55,217.45 L301.59,224.59 L303.02,224.59 L303.63,231.73 L305.67,232.76 L306.69,238.88 L308.33,247.04 L309.76,247.04 L310.37,261.33 L312.82,262.35 L313.84,251.12 L324.04,251.12 L324.65,262.96 L326.08,259.29 L327.10,258.27 L327.51,258.27 L327.51,226.63 L327.59,274.80" fill="none" stroke="#b0113a" stroke-width="1.4" stroke-linejoin="round"/>
<line x1="219.80" y1="150.6" x2="219.80" y2="275.5" stroke="#4a524e" stroke-width="1.4"/>
<line x1="217.00" y1="258.00" x2="219.80" y2="258.00" stroke="#3a3a3a" stroke-width="1"/>
<text transform="translate(213.00,260.60) scale(0.92,1)" font-size="9.2" fill="#222" stroke="#222" stroke-width="0.12" text-anchor="end">1</text>
<line x1="217.00" y1="240.50" x2="219.80" y2="240.50" stroke="#3a3a3a" stroke-width="1"/>
<text transform="translate(213.00,243.10) scale(0.92,1)" font-size="9.2" fill="#222" stroke="#222" stroke-width="0.12" text-anchor="end">2</text>
<line x1="217.00" y1="223.00" x2="219.80" y2="223.00" stroke="#3a3a3a" stroke-width="1"/>
<text transform="translate(213.00,225.60) scale(0.92,1)" font-size="9.2" fill="#222" stroke="#222" stroke-width="0.12" text-anchor="end">3</text>
<line x1="217.00" y1="205.50" x2="219.80" y2="205.50" stroke="#3a3a3a" stroke-width="1"/>
<text transform="translate(213.00,208.10) scale(0.92,1)" font-size="9.2" fill="#222" stroke="#222" stroke-width="0.12" text-anchor="end">4</text>
<line x1="217.00" y1="188.00" x2="219.80" y2="188.00" stroke="#3a3a3a" stroke-width="1"/>
<text transform="translate(213.00,190.60) scale(0.92,1)" font-size="9.2" fill="#222" stroke="#222" stroke-width="0.12" text-anchor="end">5</text>
<line x1="217.00" y1="170.50" x2="219.80" y2="170.50" stroke="#3a3a3a" stroke-width="1"/>
<text transform="translate(213.00,173.10) scale(0.92,1)" font-size="9.2" fill="#222" stroke="#222" stroke-width="0.12" text-anchor="end">6</text>
<line x1="217.00" y1="153.00" x2="219.80" y2="153.00" stroke="#3a3a3a" stroke-width="1"/>
<text transform="translate(213.00,155.60) scale(0.92,1)" font-size="9.2" fill="#222" stroke="#222" stroke-width="0.12" text-anchor="end">7</text>
<line x1="219.10" y1="275.5" x2="337.70" y2="275.5" stroke="#3a3a3a" stroke-width="1.1"/>
<line x1="220.00" y1="275.5" x2="220.00" y2="278.5" stroke="#3a3a3a" stroke-width="1"/>
<text transform="translate(223.50,285.50) rotate(-45) scale(0.92,1)" font-size="9.2" fill="#222" stroke="#222" stroke-width="0.12" text-anchor="end">0.0</text>
<line x1="234.37" y1="275.5" x2="234.37" y2="278.5" stroke="#3a3a3a" stroke-width="1"/>
<text transform="translate(237.87,285.50) rotate(-45) scale(0.92,1)" font-size="9.2" fill="#222" stroke="#222" stroke-width="0.12" text-anchor="end">0.4</text>
<line x1="248.74" y1="275.5" x2="248.74" y2="278.5" stroke="#3a3a3a" stroke-width="1"/>
<text transform="translate(252.24,285.50) rotate(-45) scale(0.92,1)" font-size="9.2" fill="#222" stroke="#222" stroke-width="0.12" text-anchor="end">0.8</text>
<line x1="263.11" y1="275.5" x2="263.11" y2="278.5" stroke="#3a3a3a" stroke-width="1"/>
<text transform="translate(266.61,285.50) rotate(-45) scale(0.92,1)" font-size="9.2" fill="#222" stroke="#222" stroke-width="0.12" text-anchor="end">1.2</text>
<line x1="277.48" y1="275.5" x2="277.48" y2="278.5" stroke="#3a3a3a" stroke-width="1"/>
<text transform="translate(280.98,285.50) rotate(-45) scale(0.92,1)" font-size="9.2" fill="#222" stroke="#222" stroke-width="0.12" text-anchor="end">1.6</text>
<line x1="291.85" y1="275.5" x2="291.85" y2="278.5" stroke="#3a3a3a" stroke-width="1"/>
<text transform="translate(295.35,285.50) rotate(-45) scale(0.92,1)" font-size="9.2" fill="#222" stroke="#222" stroke-width="0.12" text-anchor="end">2.0</text>
<line x1="306.22" y1="275.5" x2="306.22" y2="278.5" stroke="#3a3a3a" stroke-width="1"/>
<text transform="translate(309.72,285.50) rotate(-45) scale(0.92,1)" font-size="9.2" fill="#222" stroke="#222" stroke-width="0.12" text-anchor="end">2.4</text>
<line x1="320.59" y1="275.5" x2="320.59" y2="278.5" stroke="#3a3a3a" stroke-width="1"/>
<text transform="translate(324.09,285.50) rotate(-45) scale(0.92,1)" font-size="9.2" fill="#222" stroke="#222" stroke-width="0.12" text-anchor="end">2.8</text>
<line x1="334.96" y1="275.5" x2="334.96" y2="278.5" stroke="#3a3a3a" stroke-width="1"/>
<text transform="translate(338.46,285.50) rotate(-45) scale(0.92,1)" font-size="9.2" fill="#222" stroke="#222" stroke-width="0.12" text-anchor="end">3.2</text>
<text transform="translate(278.80,304.40)" font-size="10.4" fill="#222" stroke="#222" stroke-width="0.3" text-anchor="middle" textLength="65" lengthAdjust="spacingAndGlyphs">Optical density cutoff</text>
<text transform="translate(192.00,212.80) rotate(-90)" font-size="10.6" fill="#222" stroke="#222" stroke-width="0.3" text-anchor="middle" textLength="31.8" lengthAdjust="spacingAndGlyphs">Odds ratio</text>
<text transform="translate(202.60,213.30) rotate(-90)" font-size="10.6" fill="#222" stroke="#222" stroke-width="0.3" text-anchor="middle" textLength="63.4" lengthAdjust="spacingAndGlyphs">(above:below cutoff)</text>
<path d="M392.37,206.22 L392.33,206.22 L392.58,204.53 L392.98,204.53 L393.23,206.22 L393.18,206.22 L393.49,214.39 L393.80,222.55 L394.00,225.61 L394.20,228.67 L394.71,230.71 L395.22,232.76 L395.94,234.80 L396.65,236.84 L397.02,239.90 L397.27,238.34 L397.67,238.34 L397.92,239.90 L398.29,242.96 L398.86,243.98 L399.11,243.93 L399.51,243.93 L399.76,243.98 L400.33,245.00 L401.69,244.32 L403.05,243.64 L404.41,242.96 L405.32,241.26 L405.57,240.45 L405.97,240.45 L406.22,241.26 L406.68,239.56 L406.93,237.70 L407.33,237.70 L407.58,239.56 L408.49,237.86 L409.51,235.31 L410.53,232.76 L411.55,230.71 L412.57,228.67 L413.93,227.31 L414.84,225.95 L415.09,224.00 L415.49,224.00 L415.74,225.95 L416.65,224.59 L417.56,223.23 L417.81,220.57 L418.21,220.57 L418.46,223.23 L419.37,221.87 L420.73,220.51 L421.65,218.81 L421.90,217.09 L422.30,217.09 L422.55,218.81 L423.46,217.11 L424.82,215.41 L426.35,213.88 L427.88,212.35 L428.45,211.84 L428.70,210.97 L429.10,210.97 L429.35,211.84 L429.92,211.33 L430.49,206.73 L430.74,204.32 L431.14,204.32 L431.39,206.73 L431.96,202.14 L432.98,204.18 L434.00,206.22 L434.57,208.78 L434.82,205.27 L435.22,205.27 L435.47,208.78 L436.04,211.33 L437.57,207.76 L439.10,204.18 L440.18,198.06 L440.43,196.02 L440.83,196.02 L441.08,198.06 L442.16,191.94 L443.24,187.86 L443.49,187.22 L443.89,187.22 L444.14,187.86 L445.22,183.78 L445.63,182.76 L446.04,181.73 L446.10,176.63 L446.35,174.76 L446.75,174.76 L447.00,176.63 L447.06,171.53 L447.78,177.14 L448.49,182.76 L449.31,180.71 L450.12,178.67 L450.49,181.22 L450.74,178.54 L451.14,178.54 L451.39,181.22 L451.76,183.78 L452.02,184.80 L452.27,184.53 L452.67,184.53 L452.92,184.80 L453.18,185.82 L454.20,188.88 L455.22,191.94 L456.24,194.49 L457.27,197.04 L457.98,201.63 L458.69,206.22 L459.51,204.18 L460.33,202.14 L460.90,199.08 L461.15,196.11 L461.55,196.11 L461.80,199.08 L462.37,196.02 L462.94,190.92 L463.19,189.61 L463.59,189.61 L463.84,190.92 L464.41,185.82 L465.22,182.24 L466.04,178.67 L466.76,182.24 L467.47,185.82 L468.49,186.33 L469.51,186.84 L470.22,180.20 L470.94,173.57 L471.55,167.96 L472.16,162.35 L472.88,167.96 L473.59,173.57 L474.31,172.55 L475.02,171.53 L475.63,166.43 L476.24,161.33 L477.67,152.76 L478.69,163.37 L478.75,172.55 L479.00,169.72 L479.40,169.72 L479.65,172.55 L479.71,181.73 L480.43,182.76 L481.14,183.78 L481.31,197.04 L481.56,195.02 L481.96,195.02 L482.21,197.04 L482.37,210.31 L483.52,210.31 L484.68,210.31 L485.84,210.31 L486.04,152.76 L499.51,152.76 L499.51,273.57 L499.10,272.55 L484.82,272.55 L481.76,271.53 L478.69,266.43 L474.61,263.37 L470.53,262.35 L464.41,261.33 L459.31,262.35 L456.24,259.29 L450.12,254.18 L446.04,251.12 L445.22,250.10 L441.14,253.16 L437.06,256.22 L432.98,254.18 L428.90,256.22 L424.82,256.22 L419.71,257.24 L414.61,258.27 L410.53,260.31 L406.45,262.35 L402.37,262.96 L399.31,262.96 L396.24,260.31 L394.20,255.20 L392.37,251.12 Z" fill="#e2c4ba"/>
<line x1="392.50" y1="258.4" x2="505.20" y2="258.4" stroke="#1a1a1a" stroke-width="1" stroke-dasharray="2.1,2.5"/>
<path d="M392.57,275.20 L392.98,214.39 L393.39,230.71 L393.80,242.96 L394.61,250.10 L395.84,248.06 L397.27,251.12 L399.92,256.22 L402.37,255.20 L404.41,256.22 L406.45,253.16 L408.49,254.18 L410.53,251.12 L412.57,247.04 L414.61,248.06 L417.67,245.00 L420.73,242.96 L422.78,241.94 L424.82,240.92 L426.86,238.88 L429.92,239.90 L431.96,234.80 L434.00,238.88 L436.04,241.94 L438.08,239.90 L441.14,235.82 L444.20,230.71 L445.22,228.67 L446.04,225.61 L447.06,223.57 L448.08,229.69 L449.71,228.67 L451.14,230.71 L453.18,232.76 L455.22,238.88 L457.27,239.90 L459.31,245.00 L461.35,242.96 L463.39,239.90 L465.43,234.80 L466.86,239.90 L470.53,239.90 L471.96,232.76 L472.98,239.90 L475.02,239.90 L476.65,233.78 L478.29,239.90 L479.10,243.98 L480.33,249.08 L481.76,249.08 L482.37,262.35 L484.82,262.96 L485.84,252.14 L496.04,252.14 L496.65,263.37 L498.08,260.31 L499.10,259.29 L499.51,259.29 L499.51,228.67 L499.59,274.80" fill="none" stroke="#b0113a" stroke-width="1.4" stroke-linejoin="round"/>
<line x1="391.80" y1="150.6" x2="391.80" y2="275.5" stroke="#4a524e" stroke-width="1.4"/>
<line x1="389.00" y1="258.00" x2="391.80" y2="258.00" stroke="#3a3a3a" stroke-width="1"/>
<text transform="translate(385.00,260.60) scale(0.92,1)" font-size="9.2" fill="#222" stroke="#222" stroke-width="0.12" text-anchor="end">1</text>
<line x1="389.00" y1="240.50" x2="391.80" y2="240.50" stroke="#3a3a3a" stroke-width="1"/>
<text transform="translate(385.00,243.10) scale(0.92,1)" font-size="9.2" fill="#222" stroke="#222" stroke-width="0.12" text-anchor="end">2</text>
<line x1="389.00" y1="223.00" x2="391.80" y2="223.00" stroke="#3a3a3a" stroke-width="1"/>
<text transform="translate(385.00,225.60) scale(0.92,1)" font-size="9.2" fill="#222" stroke="#222" stroke-width="0.12" text-anchor="end">3</text>
<line x1="389.00" y1="205.50" x2="391.80" y2="205.50" stroke="#3a3a3a" stroke-width="1"/>
<text transform="translate(385.00,208.10) scale(0.92,1)" font-size="9.2" fill="#222" stroke="#222" stroke-width="0.12" text-anchor="end">4</text>
<line x1="389.00" y1="188.00" x2="391.80" y2="188.00" stroke="#3a3a3a" stroke-width="1"/>
<text transform="translate(385.00,190.60) scale(0.92,1)" font-size="9.2" fill="#222" stroke="#222" stroke-width="0.12" text-anchor="end">5</text>
<line x1="389.00" y1="170.50" x2="391.80" y2="170.50" stroke="#3a3a3a" stroke-width="1"/>
<text transform="translate(385.00,173.10) scale(0.92,1)" font-size="9.2" fill="#222" stroke="#222" stroke-width="0.12" text-anchor="end">6</text>
<line x1="389.00" y1="153.00" x2="391.80" y2="153.00" stroke="#3a3a3a" stroke-width="1"/>
<text transform="translate(385.00,155.60) scale(0.92,1)" font-size="9.2" fill="#222" stroke="#222" stroke-width="0.12" text-anchor="end">7</text>
<line x1="391.10" y1="275.5" x2="509.70" y2="275.5" stroke="#3a3a3a" stroke-width="1.1"/>
<line x1="392.00" y1="275.5" x2="392.00" y2="278.5" stroke="#3a3a3a" stroke-width="1"/>
<text transform="translate(395.50,285.50) rotate(-45) scale(0.92,1)" font-size="9.2" fill="#222" stroke="#222" stroke-width="0.12" text-anchor="end">0.0</text>
<line x1="406.37" y1="275.5" x2="406.37" y2="278.5" stroke="#3a3a3a" stroke-width="1"/>
<text transform="translate(409.87,285.50) rotate(-45) scale(0.92,1)" font-size="9.2" fill="#222" stroke="#222" stroke-width="0.12" text-anchor="end">0.4</text>
<line x1="420.74" y1="275.5" x2="420.74" y2="278.5" stroke="#3a3a3a" stroke-width="1"/>
<text transform="translate(424.24,285.50) rotate(-45) scale(0.92,1)" font-size="9.2" fill="#222" stroke="#222" stroke-width="0.12" text-anchor="end">0.8</text>
<line x1="435.11" y1="275.5" x2="435.11" y2="278.5" stroke="#3a3a3a" stroke-width="1"/>
<text transform="translate(438.61,285.50) rotate(-45) scale(0.92,1)" font-size="9.2" fill="#222" stroke="#222" stroke-width="0.12" text-anchor="end">1.2</text>
<line x1="449.48" y1="275.5" x2="449.48" y2="278.5" stroke="#3a3a3a" stroke-width="1"/>
<text transform="translate(452.98,285.50) rotate(-45) scale(0.92,1)" font-size="9.2" fill="#222" stroke="#222" stroke-width="0.12" text-anchor="end">1.6</text>
<line x1="463.85" y1="275.5" x2="463.85" y2="278.5" stroke="#3a3a3a" stroke-width="1"/>
<text transform="translate(467.35,285.50) rotate(-45) scale(0.92,1)" font-size="9.2" fill="#222" stroke="#222" stroke-width="0.12" text-anchor="end">2.0</text>
<line x1="478.22" y1="275.5" x2="478.22" y2="278.5" stroke="#3a3a3a" stroke-width="1"/>
<text transform="translate(481.72,285.50) rotate(-45) scale(0.92,1)" font-size="9.2" fill="#222" stroke="#222" stroke-width="0.12" text-anchor="end">2.4</text>
<line x1="492.59" y1="275.5" x2="492.59" y2="278.5" stroke="#3a3a3a" stroke-width="1"/>
<text transform="translate(496.09,285.50) rotate(-45) scale(0.92,1)" font-size="9.2" fill="#222" stroke="#222" stroke-width="0.12" text-anchor="end">2.8</text>
<line x1="506.96" y1="275.5" x2="506.96" y2="278.5" stroke="#3a3a3a" stroke-width="1"/>
<text transform="translate(510.46,285.50) rotate(-45) scale(0.92,1)" font-size="9.2" fill="#222" stroke="#222" stroke-width="0.12" text-anchor="end">3.2</text>
<text transform="translate(450.80,304.40)" font-size="10.4" fill="#222" stroke="#222" stroke-width="0.3" text-anchor="middle" textLength="65" lengthAdjust="spacingAndGlyphs">Optical density cutoff</text>
<text transform="translate(364.00,212.80) rotate(-90)" font-size="10.6" fill="#222" stroke="#222" stroke-width="0.3" text-anchor="middle" textLength="31.8" lengthAdjust="spacingAndGlyphs">Odds ratio</text>
<text transform="translate(374.60,213.30) rotate(-90)" font-size="10.6" fill="#222" stroke="#222" stroke-width="0.3" text-anchor="middle" textLength="63.4" lengthAdjust="spacingAndGlyphs">(above:below cutoff)</text>
<line x1="48.50" y1="358.3" x2="160.80" y2="358.3" stroke="#1a1a1a" stroke-width="1" stroke-dasharray="2.1,2.5"/>
<path d="M48.12,376.25 L50.00,372.50 L51.25,370.00 L52.25,367.50 L52.75,364.38 L53.50,365.00 L54.00,367.50 L54.75,372.50 L55.62,374.38 L56.88,375.00 L58.12,373.75 L59.38,371.88 L60.25,370.62 L61.00,372.50 L61.88,371.25 L62.50,368.75 L63.75,366.25 L64.38,362.50 L65.25,364.38 L66.25,363.12 L67.25,361.25 L68.12,357.50 L68.75,353.12 L69.50,354.75 L70.25,357.50 L71.00,355.62 L71.88,356.88 L72.75,355.00 L73.75,356.88 L74.75,351.88 L75.62,351.25 L76.50,346.25 L77.25,353.75 L78.12,354.75 L79.00,353.12 L80.00,354.75 L81.25,351.88 L82.12,349.38 L83.12,351.25 L84.00,348.75 L85.00,348.12 L86.00,346.88 L86.88,350.00 L87.50,346.88 L88.50,337.50 L89.38,343.75 L90.25,346.25 L91.25,353.12 L92.25,355.00 L93.75,354.38 L95.00,352.50 L96.25,350.00 L97.50,345.00 L98.50,341.88 L100.00,341.25 L101.25,339.38 L102.25,336.88 L102.88,332.50 L103.75,345.00 L104.75,345.00 L106.00,345.00 L106.88,341.88 L107.50,346.25 L108.75,347.50 L108.12,346.88 L109.38,348.75 L110.00,350.00 L110.62,352.50 L111.25,349.38 L112.50,350.00 L113.50,350.62 L114.38,355.00 L115.00,359.38 L116.25,359.38 L117.50,356.88 L118.75,355.00 L120.00,352.50 L121.00,348.75 L121.88,348.75 L122.75,352.50 L123.75,355.62 L125.00,355.62 L126.88,355.62 L127.50,352.50 L128.12,348.75 L128.75,353.75 L130.00,355.00 L131.00,357.50 L131.50,358.75 L132.50,359.38 L133.75,361.25 L134.75,365.00 L135.62,368.75 L136.88,371.88 L138.12,373.75 L139.38,375.62 L141.25,375.00 L142.50,374.38 L152.50,374.38 L153.12,375.62 L154.38,376.25 L155.38,371.88 L156.00,376.25" fill="none" stroke="#b0113a" stroke-width="1.4" stroke-linejoin="round"/>
<line x1="47.80" y1="317.2" x2="47.80" y2="376.5" stroke="#4a524e" stroke-width="1.4"/>
<line x1="45.00" y1="320.20" x2="47.80" y2="320.20" stroke="#3a3a3a" stroke-width="1"/>
<text transform="translate(41.00,322.80) scale(0.92,1)" font-size="9.2" fill="#222" stroke="#222" stroke-width="0.12" text-anchor="end">1E-4</text>
<line x1="45.00" y1="334.20" x2="47.80" y2="334.20" stroke="#3a3a3a" stroke-width="1"/>
<text transform="translate(41.00,336.80) scale(0.92,1)" font-size="9.2" fill="#222" stroke="#222" stroke-width="0.12" text-anchor="end">1E-3</text>
<line x1="45.00" y1="348.30" x2="47.80" y2="348.30" stroke="#3a3a3a" stroke-width="1"/>
<text transform="translate(41.00,350.90) scale(0.92,1)" font-size="9.2" fill="#222" stroke="#222" stroke-width="0.12" text-anchor="end">1E-2</text>
<line x1="45.00" y1="362.50" x2="47.80" y2="362.50" stroke="#3a3a3a" stroke-width="1"/>
<text transform="translate(41.00,365.10) scale(0.92,1)" font-size="9.2" fill="#222" stroke="#222" stroke-width="0.12" text-anchor="end">1E-1</text>
<line x1="45.20" y1="376.5" x2="165.70" y2="376.5" stroke="#3a3a3a" stroke-width="1.1"/>
<line x1="48.00" y1="376.5" x2="48.00" y2="379.5" stroke="#3a3a3a" stroke-width="1"/>
<text transform="translate(51.50,386.50) rotate(-45) scale(0.92,1)" font-size="9.2" fill="#222" stroke="#222" stroke-width="0.12" text-anchor="end">0.0</text>
<line x1="62.37" y1="376.5" x2="62.37" y2="379.5" stroke="#3a3a3a" stroke-width="1"/>
<text transform="translate(65.87,386.50) rotate(-45) scale(0.92,1)" font-size="9.2" fill="#222" stroke="#222" stroke-width="0.12" text-anchor="end">0.4</text>
<line x1="76.74" y1="376.5" x2="76.74" y2="379.5" stroke="#3a3a3a" stroke-width="1"/>
<text transform="translate(80.24,386.50) rotate(-45) scale(0.92,1)" font-size="9.2" fill="#222" stroke="#222" stroke-width="0.12" text-anchor="end">0.8</text>
<line x1="91.11" y1="376.5" x2="91.11" y2="379.5" stroke="#3a3a3a" stroke-width="1"/>
<text transform="translate(94.61,386.50) rotate(-45) scale(0.92,1)" font-size="9.2" fill="#222" stroke="#222" stroke-width="0.12" text-anchor="end">1.2</text>
<line x1="105.48" y1="376.5" x2="105.48" y2="379.5" stroke="#3a3a3a" stroke-width="1"/>
<text transform="translate(108.98,386.50) rotate(-45) scale(0.92,1)" font-size="9.2" fill="#222" stroke="#222" stroke-width="0.12" text-anchor="end">1.6</text>
<line x1="119.85" y1="376.5" x2="119.85" y2="379.5" stroke="#3a3a3a" stroke-width="1"/>
<text transform="translate(123.35,386.50) rotate(-45) scale(0.92,1)" font-size="9.2" fill="#222" stroke="#222" stroke-width="0.12" text-anchor="end">2.0</text>
<line x1="134.22" y1="376.5" x2="134.22" y2="379.5" stroke="#3a3a3a" stroke-width="1"/>
<text transform="translate(137.72,386.50) rotate(-45) scale(0.92,1)" font-size="9.2" fill="#222" stroke="#222" stroke-width="0.12" text-anchor="end">2.4</text>
<line x1="148.59" y1="376.5" x2="148.59" y2="379.5" stroke="#3a3a3a" stroke-width="1"/>
<text transform="translate(152.09,386.50) rotate(-45) scale(0.92,1)" font-size="9.2" fill="#222" stroke="#222" stroke-width="0.12" text-anchor="end">2.8</text>
<line x1="162.96" y1="376.5" x2="162.96" y2="379.5" stroke="#3a3a3a" stroke-width="1"/>
<text transform="translate(166.46,386.50) rotate(-45) scale(0.92,1)" font-size="9.2" fill="#222" stroke="#222" stroke-width="0.12" text-anchor="end">3.2</text>
<text transform="translate(106.80,405.00)" font-size="10.4" fill="#222" stroke="#222" stroke-width="0.3" text-anchor="middle" textLength="65" lengthAdjust="spacingAndGlyphs">Optical density cutoff</text>
<text transform="translate(19.40,347) rotate(-90)" font-size="8.6" text-anchor="middle" fill="#222" textLength="32" lengthAdjust="spacingAndGlyphs">p (χ<tspan font-size="5.5" dy="-3">2</tspan><tspan dy="3"> test)</tspan></text>
<text transform="translate(139.00,355.20)" font-size="7.6" fill="#222" stroke="#222" stroke-width="0.12" textLength="28.7" lengthAdjust="spacingAndGlyphs">(p=0.05)</text>
<line x1="220.50" y1="358.3" x2="332.80" y2="358.3" stroke="#1a1a1a" stroke-width="1" stroke-dasharray="2.1,2.5"/>
<path d="M220.12,376.25 L222.00,372.50 L223.25,370.00 L224.25,367.50 L224.75,364.38 L225.50,365.00 L226.00,367.50 L226.75,372.50 L227.62,374.38 L228.88,375.00 L230.12,373.75 L231.38,371.88 L232.25,370.62 L233.00,372.50 L233.88,371.25 L234.50,368.75 L235.75,366.25 L236.38,362.50 L237.25,364.38 L238.25,363.12 L239.25,361.25 L240.12,357.50 L240.75,353.12 L241.50,354.75 L242.25,357.50 L243.00,355.62 L243.88,356.88 L244.75,355.00 L245.75,356.88 L246.75,351.88 L247.62,351.25 L248.50,346.25 L249.25,353.75 L250.12,354.75 L251.00,353.12 L252.00,354.75 L253.25,351.88 L254.12,349.38 L255.12,351.25 L256.00,348.75 L257.00,348.12 L258.00,346.88 L258.88,350.00 L259.50,346.88 L260.50,337.50 L261.38,343.75 L262.25,346.25 L263.25,353.12 L264.25,355.00 L265.75,354.38 L267.00,352.50 L268.25,350.00 L269.50,345.00 L270.50,341.88 L272.00,341.25 L273.25,339.38 L274.25,336.88 L274.88,332.50 L275.75,345.00 L276.75,345.00 L278.00,345.00 L278.88,341.88 L279.50,346.25 L280.75,347.50 L280.12,346.88 L281.38,348.75 L282.00,350.00 L282.62,352.50 L283.25,349.38 L284.50,350.00 L285.50,350.62 L286.38,355.00 L287.00,359.38 L288.25,359.38 L289.50,356.88 L290.75,355.00 L292.00,352.50 L293.00,348.75 L293.88,348.75 L294.75,352.50 L295.75,355.62 L297.00,355.62 L298.88,355.62 L299.50,352.50 L300.12,348.75 L300.75,353.75 L302.00,355.00 L303.00,357.50 L303.50,358.75 L304.50,359.38 L305.75,361.25 L306.75,365.00 L307.62,368.75 L308.88,371.88 L310.12,373.75 L311.38,375.62 L313.25,375.00 L314.50,374.38 L324.50,374.38 L325.12,375.62 L326.38,376.25 L327.38,371.88 L328.00,376.25" fill="none" stroke="#b0113a" stroke-width="1.4" stroke-linejoin="round"/>
<line x1="219.80" y1="317.2" x2="219.80" y2="376.5" stroke="#4a524e" stroke-width="1.4"/>
<line x1="217.00" y1="320.20" x2="219.80" y2="320.20" stroke="#3a3a3a" stroke-width="1"/>
<text transform="translate(213.00,322.80) scale(0.92,1)" font-size="9.2" fill="#222" stroke="#222" stroke-width="0.12" text-anchor="end">1E-4</text>
<line x1="217.00" y1="334.20" x2="219.80" y2="334.20" stroke="#3a3a3a" stroke-width="1"/>
<text transform="translate(213.00,336.80) scale(0.92,1)" font-size="9.2" fill="#222" stroke="#222" stroke-width="0.12" text-anchor="end">1E-3</text>
<line x1="217.00" y1="348.30" x2="219.80" y2="348.30" stroke="#3a3a3a" stroke-width="1"/>
<text transform="translate(213.00,350.90) scale(0.92,1)" font-size="9.2" fill="#222" stroke="#222" stroke-width="0.12" text-anchor="end">1E-2</text>
<line x1="217.00" y1="362.50" x2="219.80" y2="362.50" stroke="#3a3a3a" stroke-width="1"/>
<text transform="translate(213.00,365.10) scale(0.92,1)" font-size="9.2" fill="#222" stroke="#222" stroke-width="0.12" text-anchor="end">1E-1</text>
<line x1="217.20" y1="376.5" x2="337.70" y2="376.5" stroke="#3a3a3a" stroke-width="1.1"/>
<line x1="220.00" y1="376.5" x2="220.00" y2="379.5" stroke="#3a3a3a" stroke-width="1"/>
<text transform="translate(223.50,386.50) rotate(-45) scale(0.92,1)" font-size="9.2" fill="#222" stroke="#222" stroke-width="0.12" text-anchor="end">0.0</text>
<line x1="234.37" y1="376.5" x2="234.37" y2="379.5" stroke="#3a3a3a" stroke-width="1"/>
<text transform="translate(237.87,386.50) rotate(-45) scale(0.92,1)" font-size="9.2" fill="#222" stroke="#222" stroke-width="0.12" text-anchor="end">0.4</text>
<line x1="248.74" y1="376.5" x2="248.74" y2="379.5" stroke="#3a3a3a" stroke-width="1"/>
<text transform="translate(252.24,386.50) rotate(-45) scale(0.92,1)" font-size="9.2" fill="#222" stroke="#222" stroke-width="0.12" text-anchor="end">0.8</text>
<line x1="263.11" y1="376.5" x2="263.11" y2="379.5" stroke="#3a3a3a" stroke-width="1"/>
<text transform="translate(266.61,386.50) rotate(-45) scale(0.92,1)" font-size="9.2" fill="#222" stroke="#222" stroke-width="0.12" text-anchor="end">1.2</text>
<line x1="277.48" y1="376.5" x2="277.48" y2="379.5" stroke="#3a3a3a" stroke-width="1"/>
<text transform="translate(280.98,386.50) rotate(-45) scale(0.92,1)" font-size="9.2" fill="#222" stroke="#222" stroke-width="0.12" text-anchor="end">1.6</text>
<line x1="291.85" y1="376.5" x2="291.85" y2="379.5" stroke="#3a3a3a" stroke-width="1"/>
<text transform="translate(295.35,386.50) rotate(-45) scale(0.92,1)" font-size="9.2" fill="#222" stroke="#222" stroke-width="0.12" text-anchor="end">2.0</text>
<line x1="306.22" y1="376.5" x2="306.22" y2="379.5" stroke="#3a3a3a" stroke-width="1"/>
<text transform="translate(309.72,386.50) rotate(-45) scale(0.92,1)" font-size="9.2" fill="#222" stroke="#222" stroke-width="0.12" text-anchor="end">2.4</text>
<line x1="320.59" y1="376.5" x2="320.59" y2="379.5" stroke="#3a3a3a" stroke-width="1"/>
<text transform="translate(324.09,386.50) rotate(-45) scale(0.92,1)" font-size="9.2" fill="#222" stroke="#222" stroke-width="0.12" text-anchor="end">2.8</text>
<line x1="334.96" y1="376.5" x2="334.96" y2="379.5" stroke="#3a3a3a" stroke-width="1"/>
<text transform="translate(338.46,386.50) rotate(-45) scale(0.92,1)" font-size="9.2" fill="#222" stroke="#222" stroke-width="0.12" text-anchor="end">3.2</text>
<text transform="translate(278.80,405.00)" font-size="10.4" fill="#222" stroke="#222" stroke-width="0.3" text-anchor="middle" textLength="65" lengthAdjust="spacingAndGlyphs">Optical density cutoff</text>
<text transform="translate(191.40,347) rotate(-90)" font-size="8.6" text-anchor="middle" fill="#222" textLength="32" lengthAdjust="spacingAndGlyphs">p (χ<tspan font-size="5.5" dy="-3">2</tspan><tspan dy="3"> test)</tspan></text>
<text transform="translate(311.00,355.20)" font-size="7.6" fill="#222" stroke="#222" stroke-width="0.12" textLength="28.7" lengthAdjust="spacingAndGlyphs">(p=0.05)</text>
<line x1="392.50" y1="358.3" x2="504.80" y2="358.3" stroke="#1a1a1a" stroke-width="1" stroke-dasharray="2.1,2.5"/>
<path d="M392.50,376.25 L393.00,368.75 L393.75,367.50 L394.25,358.12 L394.88,357.50 L395.50,366.25 L395.88,361.25 L396.50,365.00 L397.12,363.75 L397.75,360.00 L398.38,358.75 L399.00,367.50 L400.00,372.50 L400.88,373.75 L402.12,373.12 L403.38,372.50 L404.25,373.12 L405.25,373.75 L406.25,370.00 L407.12,368.75 L408.00,370.00 L408.75,368.75 L409.62,371.25 L410.50,367.50 L411.50,362.50 L412.50,358.75 L413.38,358.12 L414.38,360.00 L415.00,361.25 L415.88,358.75 L416.75,357.50 L417.75,355.00 L418.75,354.38 L419.62,353.75 L420.25,351.25 L420.88,353.12 L421.75,353.12 L422.75,352.50 L423.38,353.75 L424.25,354.38 L425.00,352.50 L425.88,348.75 L426.75,348.12 L427.75,348.75 L428.75,350.62 L429.62,351.25 L430.50,350.62 L431.25,352.50 L431.75,349.38 L432.50,341.88 L433.38,346.25 L434.25,349.38 L435.25,355.00 L436.25,357.50 L437.12,357.50 L438.38,356.25 L439.62,354.38 L440.88,351.25 L442.12,347.50 L443.00,345.00 L444.62,343.75 L445.88,341.88 L446.50,339.38 L446.88,336.50 L447.75,348.12 L448.75,348.12 L450.00,348.12 L450.88,345.62 L449.00,348.12 L450.25,348.12 L450.88,345.62 L451.50,350.00 L452.75,350.62 L453.75,350.62 L454.62,356.25 L455.50,358.75 L456.50,358.75 L457.50,360.62 L458.38,364.38 L459.00,366.25 L460.25,365.62 L461.50,364.38 L462.75,363.12 L464.00,361.25 L465.00,359.38 L465.88,358.12 L466.75,361.25 L467.75,364.38 L469.00,364.38 L471.25,364.38 L472.12,360.00 L473.00,363.12 L474.00,363.75 L475.00,368.12 L475.88,366.25 L476.75,364.38 L477.75,363.12 L478.38,364.38 L479.00,367.50 L480.00,371.88 L481.25,372.50 L482.50,372.50 L483.38,374.38 L486.50,374.38 L496.50,374.38 L497.50,375.62 L498.75,376.00 L499.62,371.88 L500.25,376.25" fill="none" stroke="#b0113a" stroke-width="1.4" stroke-linejoin="round"/>
<line x1="391.80" y1="317.2" x2="391.80" y2="376.5" stroke="#4a524e" stroke-width="1.4"/>
<line x1="389.00" y1="320.20" x2="391.80" y2="320.20" stroke="#3a3a3a" stroke-width="1"/>
<text transform="translate(385.00,322.80) scale(0.92,1)" font-size="9.2" fill="#222" stroke="#222" stroke-width="0.12" text-anchor="end">1E-4</text>
<line x1="389.00" y1="334.20" x2="391.80" y2="334.20" stroke="#3a3a3a" stroke-width="1"/>
<text transform="translate(385.00,336.80) scale(0.92,1)" font-size="9.2" fill="#222" stroke="#222" stroke-width="0.12" text-anchor="end">1E-3</text>
<line x1="389.00" y1="348.30" x2="391.80" y2="348.30" stroke="#3a3a3a" stroke-width="1"/>
<text transform="translate(385.00,350.90) scale(0.92,1)" font-size="9.2" fill="#222" stroke="#222" stroke-width="0.12" text-anchor="end">1E-2</text>
<line x1="389.00" y1="362.50" x2="391.80" y2="362.50" stroke="#3a3a3a" stroke-width="1"/>
<text transform="translate(385.00,365.10) scale(0.92,1)" font-size="9.2" fill="#222" stroke="#222" stroke-width="0.12" text-anchor="end">1E-1</text>
<line x1="389.20" y1="376.5" x2="509.70" y2="376.5" stroke="#3a3a3a" stroke-width="1.1"/>
<line x1="392.00" y1="376.5" x2="392.00" y2="379.5" stroke="#3a3a3a" stroke-width="1"/>
<text transform="translate(395.50,386.50) rotate(-45) scale(0.92,1)" font-size="9.2" fill="#222" stroke="#222" stroke-width="0.12" text-anchor="end">0.0</text>
<line x1="406.37" y1="376.5" x2="406.37" y2="379.5" stroke="#3a3a3a" stroke-width="1"/>
<text transform="translate(409.87,386.50) rotate(-45) scale(0.92,1)" font-size="9.2" fill="#222" stroke="#222" stroke-width="0.12" text-anchor="end">0.4</text>
<line x1="420.74" y1="376.5" x2="420.74" y2="379.5" stroke="#3a3a3a" stroke-width="1"/>
<text transform="translate(424.24,386.50) rotate(-45) scale(0.92,1)" font-size="9.2" fill="#222" stroke="#222" stroke-width="0.12" text-anchor="end">0.8</text>
<line x1="435.11" y1="376.5" x2="435.11" y2="379.5" stroke="#3a3a3a" stroke-width="1"/>
<text transform="translate(438.61,386.50) rotate(-45) scale(0.92,1)" font-size="9.2" fill="#222" stroke="#222" stroke-width="0.12" text-anchor="end">1.2</text>
<line x1="449.48" y1="376.5" x2="449.48" y2="379.5" stroke="#3a3a3a" stroke-width="1"/>
<text transform="translate(452.98,386.50) rotate(-45) scale(0.92,1)" font-size="9.2" fill="#222" stroke="#222" stroke-width="0.12" text-anchor="end">1.6</text>
<line x1="463.85" y1="376.5" x2="463.85" y2="379.5" stroke="#3a3a3a" stroke-width="1"/>
<text transform="translate(467.35,386.50) rotate(-45) scale(0.92,1)" font-size="9.2" fill="#222" stroke="#222" stroke-width="0.12" text-anchor="end">2.0</text>
<line x1="478.22" y1="376.5" x2="478.22" y2="379.5" stroke="#3a3a3a" stroke-width="1"/>
<text transform="translate(481.72,386.50) rotate(-45) scale(0.92,1)" font-size="9.2" fill="#222" stroke="#222" stroke-width="0.12" text-anchor="end">2.4</text>
<line x1="492.59" y1="376.5" x2="492.59" y2="379.5" stroke="#3a3a3a" stroke-width="1"/>
<text transform="translate(496.09,386.50) rotate(-45) scale(0.92,1)" font-size="9.2" fill="#222" stroke="#222" stroke-width="0.12" text-anchor="end">2.8</text>
<line x1="506.96" y1="376.5" x2="506.96" y2="379.5" stroke="#3a3a3a" stroke-width="1"/>
<text transform="translate(510.46,386.50) rotate(-45) scale(0.92,1)" font-size="9.2" fill="#222" stroke="#222" stroke-width="0.12" text-anchor="end">3.2</text>
<text transform="translate(450.80,405.00)" font-size="10.4" fill="#222" stroke="#222" stroke-width="0.3" text-anchor="middle" textLength="65" lengthAdjust="spacingAndGlyphs">Optical density cutoff</text>
<text transform="translate(363.40,347) rotate(-90)" font-size="8.6" text-anchor="middle" fill="#222" textLength="32" lengthAdjust="spacingAndGlyphs">p (χ<tspan font-size="5.5" dy="-3">2</tspan><tspan dy="3"> test)</tspan></text>
<text transform="translate(483.00,355.20)" font-size="7.6" fill="#222" stroke="#222" stroke-width="0.12" textLength="28.7" lengthAdjust="spacingAndGlyphs">(p=0.05)</text>
<text transform="translate(6.80,426.30) scale(0.93,1)" font-size="12.5" fill="#000" font-weight="bold">C</text>
<defs>
<radialGradient id="gO" cx="0.38" cy="0.32" r="0.7"><stop offset="0" stop-color="#f8b45a"/><stop offset="0.5" stop-color="#e07d12"/><stop offset="1" stop-color="#a9560c"/></radialGradient>
<radialGradient id="gP" cx="0.38" cy="0.32" r="0.7"><stop offset="0" stop-color="#fdf0fa"/><stop offset="0.55" stop-color="#ecc2e2"/><stop offset="1" stop-color="#c59abb"/></radialGradient>
<radialGradient id="gR" cx="0.38" cy="0.32" r="0.7"><stop offset="0" stop-color="#b85a64"/><stop offset="0.55" stop-color="#8c2d39"/><stop offset="1" stop-color="#641a24"/></radialGradient>
</defs>
<path d="M89.40,536.70 C89.67,537.58 90.32,540.20 91.00,542.00 C91.68,543.80 91.97,545.68 93.50,547.50 C95.03,549.32 99.32,550.43 100.20,552.90 C101.08,555.37 99.00,559.62 98.80,562.30 C98.60,564.98 98.97,567.88 99.00,569.00" fill="none" stroke="#74d3d8" stroke-width="1.5" stroke-linecap="round" stroke-linejoin="round" opacity="1"/>
<path d="M93.50,535.40 C94.83,535.17 99.25,533.57 101.50,534.00 C103.75,534.43 105.65,536.00 107.00,538.00 C108.35,540.00 108.05,544.42 109.60,546.00 C111.15,547.58 114.28,548.60 116.30,547.50 C118.32,546.40 120.35,542.32 121.70,539.40 C123.05,536.48 124.62,532.68 124.40,530.00 C124.18,527.32 120.63,524.65 120.40,523.30 C120.17,521.95 121.23,521.90 123.00,521.90 C124.77,521.90 129.20,523.75 131.00,523.30 C132.80,522.85 133.33,519.88 133.80,519.20" fill="none" stroke="#74d3d8" stroke-width="1.5" stroke-linecap="round" stroke-linejoin="round" opacity="1"/>
<path d="M121.70,548.80 C122.15,549.48 123.50,551.32 124.40,552.90 C125.30,554.48 125.53,557.63 127.10,558.30 C128.67,558.97 132.45,556.68 133.80,556.90 C135.15,557.12 135.20,558.25 135.20,559.60 C135.20,560.95 134.50,564.55 133.80,565.00 C133.10,565.45 131.47,562.75 131.00,562.30" fill="none" stroke="#74d3d8" stroke-width="1.5" stroke-linecap="round" stroke-linejoin="round" opacity="1"/>
<path d="M109.60,548.80 C109.15,549.93 106.90,553.35 106.90,555.60 C106.90,557.85 108.03,560.73 109.60,562.30 C111.17,563.87 115.18,564.55 116.30,565.00" fill="none" stroke="#74d3d8" stroke-width="1.5" stroke-linecap="round" stroke-linejoin="round" opacity="1"/>
<path d="M107.00,565.00 C107.67,565.17 109.83,565.00 111.00,566.00 C112.17,567.00 113.67,569.33 114.00,571.00 C114.33,572.67 114.00,574.67 113.00,576.00 C112.00,577.33 109.00,577.50 108.00,579.00 C107.00,580.50 106.50,583.50 107.00,585.00 C107.50,586.50 109.50,587.83 111.00,588.00 C112.50,588.17 114.33,586.83 116.00,586.00 C117.67,585.17 120.17,583.50 121.00,583.00" fill="none" stroke="#74d3d8" stroke-width="1.5" stroke-linecap="round" stroke-linejoin="round" opacity="1"/>
<path d="M85.00,615.00 C84.50,614.67 83.00,613.00 82.00,613.00 C81.00,613.00 80.17,613.00 79.00,615.00 C77.83,617.00 76.17,622.33 75.00,625.00 C73.83,627.67 72.00,629.00 72.00,631.00 C72.00,633.00 73.83,635.83 75.00,637.00 C76.17,638.17 78.50,636.67 79.00,638.00 C79.50,639.33 77.67,642.83 78.00,645.00 C78.33,647.17 79.50,649.50 81.00,651.00 C82.50,652.50 85.17,653.83 87.00,654.00 C88.83,654.17 91.00,653.00 92.00,652.00 C93.00,651.00 92.17,649.33 93.00,648.00 C93.83,646.67 96.33,644.67 97.00,644.00" fill="none" stroke="#74d3d8" stroke-width="1.5" stroke-linecap="round" stroke-linejoin="round" opacity="1"/>
<path d="M84.00,639.00 C84.83,639.00 87.00,639.00 89.00,639.00 C91.00,639.00 94.50,639.50 96.00,639.00 C97.50,638.50 97.67,637.83 98.00,636.00 C98.33,634.17 98.00,629.33 98.00,628.00" fill="none" stroke="#74d3d8" stroke-width="1.5" stroke-linecap="round" stroke-linejoin="round" opacity="1"/>
<path d="M101.00,645.00 C101.17,645.67 101.33,647.50 102.00,649.00 C102.67,650.50 105.00,652.83 105.00,654.00 C105.00,655.17 103.17,655.67 102.00,656.00 C100.83,656.33 98.67,656.00 98.00,656.00" fill="none" stroke="#74d3d8" stroke-width="1.5" stroke-linecap="round" stroke-linejoin="round" opacity="1"/>
<path d="M111.00,634.00 C110.83,634.67 110.67,636.83 110.00,638.00 C109.33,639.17 108.33,640.17 107.00,641.00 C105.67,641.83 102.83,642.67 102.00,643.00" fill="none" stroke="#74d3d8" stroke-width="1.5" stroke-linecap="round" stroke-linejoin="round" opacity="1"/>
<path d="M127.00,626.00 C127.17,626.83 128.00,629.50 128.00,631.00 C128.00,632.50 126.50,634.50 127.00,635.00 C127.50,635.50 129.33,635.00 131.00,634.00 C132.67,633.00 135.33,630.33 137.00,629.00 C138.67,627.67 140.33,627.33 141.00,626.00 C141.67,624.67 141.50,622.50 141.00,621.00 C140.50,619.50 139.00,617.33 138.00,617.00 C137.00,616.67 135.83,618.17 135.00,619.00 C134.17,619.83 133.33,621.50 133.00,622.00" fill="none" stroke="#74d3d8" stroke-width="1.5" stroke-linecap="round" stroke-linejoin="round" opacity="1"/>
<path d="M108.00,580.00 C107.83,580.83 106.83,583.17 107.00,585.00 C107.17,586.83 108.00,589.50 109.00,591.00 C110.00,592.50 112.33,593.50 113.00,594.00" fill="none" stroke="#74d3d8" stroke-width="1.5" stroke-linecap="round" stroke-linejoin="round" opacity="1"/>
<path d="M116.30,515.20 C117.92,516.00 122.85,518.43 126.00,520.00 C129.15,521.57 133.67,523.83 135.20,524.60" fill="none" stroke="#74d3d8" stroke-width="1.5" stroke-linecap="round" stroke-linejoin="round" opacity="1"/>
<path d="M79.00,530.00 C80.00,529.67 83.00,528.67 85.00,528.00 C87.00,527.33 90.00,526.33 91.00,526.00" fill="none" stroke="#74d3d8" stroke-width="1.5" stroke-linecap="round" stroke-linejoin="round" opacity="1"/>
<path d="M98.67,570.10 L98.19,571.34 L97.57,572.93 L96.83,574.81 L96.00,576.93 L95.11,579.22 L94.18,581.62 L93.24,584.08 L92.32,586.53 L91.44,588.91 L90.64,591.18 L89.86,593.46 L89.05,595.91 L88.23,598.46 L87.41,601.03 L86.61,603.57 L85.86,606.00 L84.07,605.44 L86.00,614.00 L92.43,608.03 L90.64,607.48 L91.39,605.06 L92.18,602.54 L92.99,599.98 L93.80,597.46 L94.60,595.06 L95.36,592.82 L96.15,590.62 L97.01,588.27 L97.92,585.85 L98.85,583.42 L99.77,581.03 L100.66,578.75 L101.48,576.64 L102.22,574.75 L102.85,573.15 L103.33,571.90 Z" fill="#5fc2c8" stroke="#3a8f98" stroke-width="0.6" stroke-linejoin="round"/>
<path d="M100.71,568.30 L100.59,569.70 L100.44,571.49 L100.26,573.61 L100.05,575.99 L99.83,578.55 L99.60,581.24 L99.37,583.98 L99.14,586.70 L98.92,589.33 L98.71,591.81 L98.50,594.30 L98.28,596.96 L98.04,599.73 L97.81,602.53 L97.58,605.28 L97.36,607.91 L97.16,610.36 L96.98,612.54 L96.83,614.38 L96.71,615.81 L101.29,616.19 L101.41,614.76 L101.56,612.92 L101.75,610.74 L101.95,608.29 L102.17,605.66 L102.40,602.91 L102.63,600.11 L102.86,597.34 L103.08,594.68 L103.29,592.19 L103.50,589.72 L103.72,587.09 L103.95,584.37 L104.19,581.63 L104.42,578.95 L104.64,576.38 L104.84,574.00 L105.02,571.88 L105.17,570.09 L105.29,568.70 Z" fill="#8cf0f2" stroke="#4fb3bb" stroke-width="0.6" stroke-linejoin="round"/>
<path d="M128.59,570.35 L128.17,571.89 L127.63,573.88 L127.00,576.22 L126.29,578.85 L125.52,581.69 L124.72,584.67 L123.91,587.69 L123.10,590.70 L122.32,593.62 L121.58,596.36 L120.85,599.11 L120.07,602.05 L119.26,605.11 L118.45,608.20 L117.65,611.24 L116.88,614.15 L115.07,613.67 L117.00,623.50 L123.53,615.90 L121.71,615.42 L122.48,612.51 L123.28,609.47 L124.10,606.39 L124.90,603.33 L125.68,600.39 L126.42,597.64 L127.15,594.91 L127.93,592.00 L128.73,588.99 L129.55,585.97 L130.35,582.99 L131.12,580.16 L131.83,577.53 L132.46,575.18 L133.00,573.20 L133.41,571.65 Z" fill="#84e8ec" stroke="#4fb3bb" stroke-width="0.6" stroke-linejoin="round"/>
<path d="M117.11,582.67 L116.53,583.85 L115.77,585.36 L114.87,587.16 L113.86,589.17 L112.78,591.35 L111.64,593.64 L110.49,595.98 L109.36,598.32 L108.28,600.59 L107.27,602.75 L106.29,604.93 L105.26,607.27 L104.20,609.70 L103.15,612.16 L102.12,614.58 L100.05,613.72 L101.00,625.00 L109.73,617.78 L107.65,616.92 L108.67,614.51 L109.71,612.07 L110.75,609.67 L111.77,607.38 L112.73,605.25 L113.71,603.15 L114.77,600.92 L115.89,598.61 L117.02,596.29 L118.15,594.02 L119.23,591.85 L120.24,589.84 L121.14,588.05 L121.90,586.52 L122.49,585.33 Z" fill="#8cf0f2" stroke="#4fb3bb" stroke-width="0.6" stroke-linejoin="round"/>
<path d="M131.22,570.20 L131.01,571.78 L130.74,573.80 L130.43,576.20 L130.07,578.89 L129.69,581.79 L129.29,584.83 L128.88,587.91 L128.48,590.97 L128.09,593.93 L127.72,596.70 L127.35,599.47 L126.96,602.42 L126.56,605.48 L126.15,608.57 L125.75,611.61 L125.37,614.51 L125.01,617.20 L123.30,616.97 L126.50,623.50 L131.28,618.02 L129.57,617.80 L129.93,615.11 L130.31,612.21 L130.71,609.17 L131.12,606.09 L131.52,603.03 L131.91,600.07 L132.28,597.30 L132.65,594.53 L133.04,591.58 L133.44,588.52 L133.85,585.43 L134.25,582.39 L134.63,579.49 L134.99,576.80 L135.30,574.41 L135.57,572.38 L135.78,570.80 Z" fill="#8cf0f2" stroke="#4fb3bb" stroke-width="0.6" stroke-linejoin="round"/>
<path d="M62.00,483.00 C62.67,482.50 64.33,480.67 66.00,480.00 C67.67,479.33 70.33,479.33 72.00,479.00 C73.67,478.67 75.17,477.67 76.00,478.00 C76.83,478.33 76.83,480.50 77.00,481.00" fill="none" stroke="#84d862" stroke-width="1.5" stroke-linecap="round" stroke-linejoin="round" opacity="1"/>
<path d="M62.00,483.00 C62.83,483.33 65.50,484.50 67.00,485.00 C68.50,485.50 69.67,485.33 71.00,486.00 C72.33,486.67 73.83,487.67 75.00,489.00 C76.17,490.33 77.50,493.17 78.00,494.00" fill="none" stroke="#84d862" stroke-width="1.5" stroke-linecap="round" stroke-linejoin="round" opacity="1"/>
<path d="M67.00,504.00 C67.50,503.00 69.17,499.33 70.00,498.00 C70.83,496.67 71.00,496.17 72.00,496.00 C73.00,495.83 74.17,496.00 76.00,497.00 C77.83,498.00 81.83,501.17 83.00,502.00" fill="none" stroke="#84d862" stroke-width="1.5" stroke-linecap="round" stroke-linejoin="round" opacity="1"/>
<path d="M68.00,502.00 C68.67,502.67 69.50,505.50 72.00,506.00 C74.50,506.50 81.17,505.17 83.00,505.00" fill="none" stroke="#84d862" stroke-width="1.5" stroke-linecap="round" stroke-linejoin="round" opacity="1"/>
<path d="M71.00,523.00 C71.83,522.67 74.33,521.50 76.00,521.00 C77.67,520.50 78.67,520.50 81.00,520.00 C83.33,519.50 87.50,518.17 90.00,518.00 C92.50,517.83 95.00,518.83 96.00,519.00" fill="none" stroke="#84d862" stroke-width="1.5" stroke-linecap="round" stroke-linejoin="round" opacity="1"/>
<path d="M35.00,538.00 C35.83,537.92 38.17,537.67 40.00,537.50 C41.83,537.33 44.33,537.25 46.00,537.00 C47.67,536.75 49.33,536.17 50.00,536.00" fill="none" stroke="#84d862" stroke-width="1.5" stroke-linecap="round" stroke-linejoin="round" opacity="1"/>
<path d="M35.00,539.00 C34.67,540.00 33.33,543.33 33.00,545.00 C32.67,546.67 33.83,547.50 33.00,549.00 C32.17,550.50 29.17,552.17 28.00,554.00 C26.83,555.83 26.17,557.83 26.00,560.00 C25.83,562.17 26.50,565.00 27.00,567.00 C27.50,569.00 28.83,570.50 29.00,572.00 C29.17,573.50 28.17,575.33 28.00,576.00" fill="none" stroke="#84d862" stroke-width="1.5" stroke-linecap="round" stroke-linejoin="round" opacity="1"/>
<path d="M39.00,580.00 C37.83,580.50 33.67,581.33 32.00,583.00 C30.33,584.67 29.00,588.17 29.00,590.00 C29.00,591.83 30.67,593.33 32.00,594.00 C33.33,594.67 35.50,594.67 37.00,594.00 C38.50,593.33 39.83,591.33 41.00,590.00 C42.17,588.67 43.50,586.67 44.00,586.00" fill="none" stroke="#84d862" stroke-width="1.5" stroke-linecap="round" stroke-linejoin="round" opacity="1"/>
<path d="M45.00,583.00 C45.17,583.83 45.00,586.83 46.00,588.00 C47.00,589.17 49.50,589.83 51.00,590.00 C52.50,590.17 52.83,589.17 55.00,589.00 C57.17,588.83 61.50,589.50 64.00,589.00 C66.50,588.50 68.33,587.83 70.00,586.00 C71.67,584.17 72.33,580.67 74.00,578.00 C75.67,575.33 79.00,572.00 80.00,570.00 C81.00,568.00 80.83,567.17 80.00,566.00 C79.17,564.83 75.83,563.50 75.00,563.00" fill="none" stroke="#84d862" stroke-width="1.5" stroke-linecap="round" stroke-linejoin="round" opacity="1"/>
<path d="M43.00,563.00 C43.17,562.50 42.83,560.67 44.00,560.00 C45.17,559.33 48.00,559.17 50.00,559.00 C52.00,558.83 55.00,559.00 56.00,559.00" fill="none" stroke="#84d862" stroke-width="1.5" stroke-linecap="round" stroke-linejoin="round" opacity="1"/>
<path d="M67.00,532.00 C68.00,531.33 70.83,529.17 73.00,528.00 C75.17,526.83 78.00,525.67 80.00,525.00 C82.00,524.33 83.67,524.83 85.00,524.00 C86.33,523.17 87.50,520.67 88.00,520.00" fill="none" stroke="#84d862" stroke-width="1.5" stroke-linecap="round" stroke-linejoin="round" opacity="1"/>
<path d="M84.00,537.00 C84.67,537.50 86.67,538.50 88.00,540.00 C89.33,541.50 90.67,544.50 92.00,546.00 C93.33,547.50 94.67,548.50 96.00,549.00 C97.33,549.50 99.33,549.00 100.00,549.00" fill="none" stroke="#84d862" stroke-width="1.5" stroke-linecap="round" stroke-linejoin="round" opacity="1"/>
<path d="M88.00,520.00 C89.17,520.33 92.83,520.83 95.00,522.00 C97.17,523.17 99.50,525.67 101.00,527.00 C102.50,528.33 103.50,529.50 104.00,530.00" fill="none" stroke="#84d862" stroke-width="1.5" stroke-linecap="round" stroke-linejoin="round" opacity="1"/>
<path d="M50.62,538.71 L51.16,538.55 L51.86,538.35 L52.68,538.10 L53.59,537.83 L54.58,537.54 L55.61,537.23 L56.65,536.93 L57.67,536.64 L58.65,536.37 L59.55,536.13 L60.45,535.90 L61.41,535.67 L62.40,535.44 L62.74,537.05 L67.70,532.00 L61.07,529.54 L61.41,531.15 L60.39,531.39 L59.39,531.63 L58.45,531.87 L57.49,532.12 L56.48,532.40 L55.43,532.70 L54.37,533.01 L53.33,533.31 L52.34,533.61 L51.42,533.88 L50.60,534.13 L49.91,534.33 L49.38,534.49 Z" fill="#7ddf4b" stroke="#5cb834" stroke-width="0.6" stroke-linejoin="round"/>
<path d="M54.73,535.89 L54.01,536.66 L53.08,537.66 L51.97,538.84 L50.72,540.17 L49.38,541.60 L47.99,543.10 L46.58,544.63 L45.20,546.14 L43.88,547.59 L42.67,548.95 L41.50,550.31 L40.28,551.73 L39.06,553.19 L37.84,554.66 L36.03,553.20 L34.60,563.50 L44.42,560.07 L42.61,558.61 L43.81,557.17 L45.02,555.73 L46.20,554.35 L47.33,553.05 L48.50,551.73 L49.78,550.31 L51.14,548.83 L52.53,547.32 L53.92,545.83 L55.25,544.41 L56.49,543.08 L57.60,541.90 L58.55,540.89 L59.27,540.11 Z" fill="#7ddf4b" stroke="#5cb834" stroke-width="0.6" stroke-linejoin="round"/>
<path d="M82.75,533.68 L81.67,534.07 L80.26,534.53 L78.53,535.08 L76.56,535.72 L74.42,536.43 L72.18,537.23 L69.89,538.12 L67.62,539.10 L65.41,540.18 L63.34,541.38 L61.34,542.77 L59.32,544.36 L57.30,546.10 L55.32,547.91 L53.41,549.74 L51.75,548.12 L48.50,559.00 L59.40,555.81 L57.74,554.18 L59.56,552.43 L61.42,550.73 L63.26,549.14 L65.03,547.75 L66.66,546.62 L68.33,545.65 L70.21,544.73 L72.24,543.86 L74.34,543.04 L76.44,542.29 L78.49,541.61 L80.41,540.99 L82.16,540.44 L83.67,539.94 L84.85,539.52 Z" fill="#86e652" stroke="#5cb834" stroke-width="0.6" stroke-linejoin="round"/>
<path d="M79.91,548.32 L79.22,548.82 L78.33,549.46 L77.25,550.23 L76.04,551.10 L74.74,552.04 L73.39,553.02 L72.03,554.02 L70.70,555.02 L69.44,555.99 L68.29,556.91 L67.19,557.83 L66.08,558.80 L64.97,559.79 L63.55,558.35 L60.80,567.40 L70.01,565.24 L68.59,563.79 L69.65,562.85 L70.70,561.94 L71.71,561.09 L72.77,560.24 L73.97,559.32 L75.25,558.36 L76.58,557.38 L77.91,556.41 L79.19,555.48 L80.40,554.62 L81.47,553.85 L82.39,553.19 L83.09,552.68 Z" fill="#62b83c" stroke="#3f8f25" stroke-width="0.6" stroke-linejoin="round"/>
<path d="M54.22,556.32 L53.67,556.96 L52.96,557.79 L52.10,558.78 L51.14,559.89 L50.11,561.09 L49.03,562.36 L47.95,563.66 L46.88,564.95 L45.86,566.22 L44.93,567.43 L44.02,568.66 L43.10,569.96 L42.16,571.31 L41.25,572.67 L40.36,574.00 L39.52,575.28 L38.75,576.46 L38.06,577.50 L37.49,578.38 L37.04,579.06 L41.36,581.94 L41.83,581.25 L42.41,580.35 L43.10,579.30 L43.86,578.13 L44.69,576.87 L45.56,575.56 L46.46,574.24 L47.36,572.94 L48.23,571.71 L49.07,570.57 L49.95,569.44 L50.92,568.23 L51.95,566.98 L53.01,565.71 L54.06,564.47 L55.09,563.28 L56.04,562.18 L56.89,561.19 L57.62,560.34 L58.18,559.68 Z" fill="#7ddf4b" stroke="#5cb834" stroke-width="0.6" stroke-linejoin="round"/>
<path d="M56.13,565.81 L55.92,566.43 L55.65,567.24 L55.33,568.19 L54.98,569.26 L54.60,570.41 L54.20,571.60 L53.79,572.81 L53.39,574.00 L53.00,575.13 L52.64,576.17 L52.28,577.20 L51.89,578.28 L51.49,579.39 L49.73,578.73 L51.50,586.60 L57.95,581.75 L56.19,581.10 L56.60,579.97 L56.99,578.87 L57.36,577.83 L57.73,576.76 L58.12,575.61 L58.53,574.41 L58.94,573.19 L59.34,571.99 L59.72,570.84 L60.08,569.77 L60.40,568.82 L60.66,568.01 L60.87,567.39 Z" fill="#5aaa35" stroke="#3f8f25" stroke-width="0.6" stroke-linejoin="round"/>
<path d="M71.84,567.43 L71.89,567.46 L71.94,567.49 L72.02,567.51 L72.10,567.52 L72.20,567.52 L72.31,567.52 L72.44,567.51 L72.57,567.49 L72.73,567.47 L72.89,567.45 L73.06,567.42 L73.24,567.38 L73.44,567.35 L73.64,567.31 L73.85,567.27 L74.06,567.24 L74.28,567.20 L74.51,567.16 L74.74,567.12 L74.97,567.09 L75.21,567.06 L75.44,567.03 L75.68,567.01 L75.91,566.99 L76.14,566.98 L76.37,566.98 L76.59,566.98 L76.81,566.98 L77.02,567.00 L77.22,567.02 L77.41,567.05 L77.59,567.09 L77.77,567.14 L77.93,567.20 L78.08,567.27 L78.22,567.34 L78.34,567.43 L78.46,567.52 L78.55,567.63 L78.64,567.74 L78.78,567.97 L78.39,567.35 L78.30,567.20 L78.12,566.94 L77.94,566.69 L77.74,566.46 L77.52,566.24 L77.30,566.03 L77.07,565.83 L76.83,565.65 L76.58,565.48 L76.33,565.33 L76.07,565.19 L75.81,565.07 L75.54,564.97 L75.28,564.88 L75.01,564.81 L74.75,564.75 L74.49,564.71 L74.23,564.69 L73.98,564.68 L73.73,564.69 L73.49,564.72 L73.26,564.75 L73.04,564.80 L72.83,564.87 L72.63,564.94 L72.44,565.03 L72.27,565.12 L72.11,565.23 L71.96,565.34 L71.84,565.46 L71.72,565.58 L71.62,565.71 L71.54,565.84 L71.48,565.97 L71.43,566.10 L71.40,566.24 L71.38,566.36 L71.38,566.49 L71.40,566.61 L71.43,566.73 L71.47,566.84 Z" fill="#2f6e1a" stroke="#2f6e1a" stroke-width="0.5" stroke-linejoin="round"/>
<path d="M74.63,566.61 L74.50,566.80 L74.35,566.97 L74.20,567.13 L74.05,567.28 L73.89,567.40 L73.73,567.52 L73.56,567.61 L73.40,567.69 L73.24,567.75 L73.08,567.80 L72.92,567.83 L72.77,567.84 L72.62,567.84 L72.48,567.82 L72.35,567.79 L72.23,567.75 L72.12,567.69 L72.02,567.62 L71.93,567.54 L71.85,567.45 L71.84,567.43 L71.47,566.84 L71.50,566.88 L71.48,566.83 L71.48,566.76 L71.50,566.69 L71.52,566.61 L71.56,566.53 L71.61,566.43 L71.67,566.32 L71.74,566.21 L71.83,566.08 L71.92,565.95 L72.02,565.81 L72.13,565.66 L72.24,565.50 L72.36,565.34 L72.49,565.17 L72.62,564.99 L72.75,564.81 L72.88,564.62 L73.02,564.43 L73.15,564.24 Z" fill="#3f8f25" stroke="#3f8f25" stroke-width="0.5" stroke-linejoin="round"/>
<path d="M78.78,567.97 L78.92,568.24 L79.06,568.52 L79.17,568.81 L79.27,569.10 L79.35,569.39 L79.42,569.69 L79.47,569.98 L79.51,570.28 L79.52,570.57 L79.52,570.86 L79.51,571.15 L79.48,571.43 L79.43,571.70 L79.37,571.97 L79.30,572.23 L79.21,572.47 L79.12,572.71 L79.01,572.93 L78.88,573.14 L78.75,573.34 L78.62,573.53 L78.47,573.70 L78.32,573.85 L78.16,573.99 L78.00,574.11 L77.84,574.22 L77.68,574.31 L77.51,574.38 L77.35,574.43 L77.19,574.47 L77.03,574.50 L76.88,574.51 L76.74,574.50 L76.60,574.48 L76.47,574.44 L76.36,574.39 L75.68,573.31 L75.71,573.22 L75.76,573.13 L75.82,573.02 L75.89,572.91 L75.97,572.79 L76.06,572.66 L76.15,572.52 L76.26,572.37 L76.37,572.22 L76.49,572.06 L76.61,571.89 L76.74,571.72 L76.87,571.54 L77.01,571.35 L77.14,571.16 L77.27,570.97 L77.40,570.77 L77.53,570.57 L77.66,570.37 L77.78,570.17 L77.89,569.97 L78.00,569.77 L78.10,569.57 L78.19,569.37 L78.28,569.17 L78.35,568.98 L78.41,568.79 L78.46,568.61 L78.50,568.43 L78.52,568.25 L78.54,568.08 L78.54,567.92 L78.52,567.77 L78.49,567.62 L78.45,567.48 L78.39,567.35 Z" fill="#3f8f25" stroke="#3f8f25" stroke-width="0.5" stroke-linejoin="round"/>
<path d="M83.00,513.00 C83.83,512.17 86.33,509.17 88.00,508.00 C89.67,506.83 92.17,506.33 93.00,506.00" fill="none" stroke="#8fdfe0" stroke-width="1.3" stroke-linecap="round" stroke-linejoin="round" opacity="1"/>
<path d="M74.97,480.95 L75.41,481.66 L75.97,482.57 L76.64,483.66 L77.39,484.87 L78.20,486.18 L79.05,487.56 L79.93,488.96 L80.81,490.36 L81.67,491.71 L82.49,492.98 L83.34,494.26 L84.25,495.63 L85.20,497.04 L86.17,498.47 L87.13,499.87 L88.06,501.21 L88.91,502.45 L89.68,503.56 L90.32,504.49 L90.81,505.22 L93.79,503.18 L93.29,502.45 L92.64,501.52 L91.88,500.41 L91.02,499.17 L90.10,497.83 L89.15,496.44 L88.18,495.02 L87.24,493.62 L86.33,492.27 L85.51,491.02 L84.70,489.77 L83.85,488.43 L82.98,487.05 L82.11,485.66 L81.26,484.29 L80.45,482.98 L79.71,481.77 L79.04,480.68 L78.47,479.77 L78.03,479.05 Z" fill="#7ddf4b" stroke="#5cb834" stroke-width="0.6" stroke-linejoin="round"/>
<path d="M94.72,508.13 L94.98,508.78 L95.32,509.61 L95.72,510.61 L96.17,511.73 L96.66,512.94 L97.17,514.20 L97.70,515.49 L98.23,516.78 L98.75,518.02 L99.25,519.19 L99.76,520.36 L100.31,521.60 L100.89,522.88 L101.48,524.17 L102.06,525.44 L102.61,526.65 L103.13,527.77 L103.59,528.76 L103.97,529.60 L104.27,530.25 L109.73,527.75 L109.43,527.09 L109.04,526.25 L108.58,525.25 L108.06,524.14 L107.51,522.94 L106.93,521.68 L106.35,520.41 L105.79,519.15 L105.25,517.94 L104.75,516.81 L104.27,515.68 L103.77,514.47 L103.25,513.21 L102.73,511.94 L102.22,510.69 L101.74,509.49 L101.29,508.37 L100.89,507.38 L100.55,506.53 L100.28,505.87 Z" fill="#7ddf4b" stroke="#5cb834" stroke-width="0.6" stroke-linejoin="round"/>
<path d="M99.22,506.78 L100.05,507.05 L101.12,507.40 L102.38,507.81 L103.79,508.27 L105.32,508.76 L106.91,509.29 L108.54,509.82 L110.16,510.35 L111.73,510.87 L113.20,511.37 L114.69,511.87 L116.29,512.42 L117.96,512.99 L119.64,513.57 L121.31,514.15 L120.69,515.92 L128.50,514.00 L123.56,507.65 L122.94,509.43 L121.28,508.85 L119.58,508.26 L117.91,507.69 L116.30,507.14 L114.80,506.63 L113.31,506.13 L111.73,505.61 L110.10,505.07 L108.47,504.53 L106.87,504.01 L105.34,503.51 L103.93,503.05 L102.67,502.64 L101.61,502.30 L100.78,502.02 Z" fill="#7ddf4b" stroke="#5cb834" stroke-width="0.6" stroke-linejoin="round"/>
<path d="M109.60,511.00 C112.00,512.33 119.07,516.28 124.00,519.00 C128.93,521.72 136.67,525.92 139.20,527.30" fill="none" stroke="#8fe070" stroke-width="1.6" stroke-linecap="round" stroke-linejoin="round" opacity="1"/>
<path d="M103.66,504.29 L104.16,504.35 L104.80,504.41 L105.55,504.47 L106.38,504.55 L107.27,504.64 L108.19,504.74 L109.13,504.85 L110.05,504.97 L110.92,505.11 L111.73,505.27 L112.52,505.46 L113.39,505.69 L114.29,505.96 L115.20,506.25 L116.10,506.55 L116.97,506.84 L117.77,507.12 L118.49,507.37 L119.11,507.58 L119.60,507.74 L120.40,505.26 L119.94,505.11 L119.34,504.91 L118.62,504.66 L117.81,504.38 L116.92,504.08 L116.00,503.77 L115.05,503.48 L114.10,503.19 L113.17,502.94 L112.27,502.73 L111.38,502.55 L110.43,502.40 L109.46,502.27 L108.49,502.15 L107.53,502.05 L106.62,501.96 L105.78,501.88 L105.04,501.82 L104.42,501.76 L103.94,501.71 Z" fill="#76dde2" stroke="#4fb3bb" stroke-width="0.6" stroke-linejoin="round"/>
<path d="M101.68,500.47 L102.46,500.64 L103.47,500.85 L104.64,501.09 L105.96,501.36 L107.37,501.65 L108.85,501.98 L110.35,502.32 L111.82,502.68 L113.24,503.05 L114.56,503.43 L115.88,503.86 L117.30,504.36 L118.78,504.91 L120.28,505.49 L121.75,506.08 L123.17,506.65 L124.49,507.19 L125.66,507.68 L126.67,508.08 L127.45,508.39 L128.55,505.61 L127.79,505.30 L126.80,504.90 L125.62,504.42 L124.30,503.87 L122.87,503.30 L121.37,502.70 L119.84,502.11 L118.32,501.54 L116.84,501.02 L115.44,500.57 L114.04,500.16 L112.56,499.77 L111.04,499.40 L109.50,499.05 L108.00,498.72 L106.57,498.42 L105.25,498.15 L104.07,497.91 L103.09,497.70 L102.32,497.53 Z" fill="#6cc83e" stroke="#5cb834" stroke-width="0.6" stroke-linejoin="round"/>
<path d="M87.95,472.95 L87.92,472.70 L87.97,472.44 L88.09,472.17 L88.29,471.90 L88.57,471.62 L88.92,471.34 L89.33,471.07 L89.81,470.80 L90.35,470.55 L90.94,470.32 L91.58,470.10 L92.26,469.90 L92.97,469.73 L93.71,469.59 L94.47,469.48 L95.23,469.40 L96.00,469.35 L96.77,469.34 L97.51,469.37 L98.24,469.43 L98.94,469.52 L99.60,469.66 L100.21,469.83 L100.78,470.03 L101.29,470.27 L101.73,470.53 L102.12,470.83 L102.43,471.15 L102.67,471.50 L102.83,471.87 L102.91,472.26" fill="none" stroke="#9cd488" stroke-width="1.9" stroke-linecap="round" stroke-linejoin="round"/>
<path d="M88.84,477.25 L88.84,477.00 L88.92,476.73 L89.07,476.46 L89.30,476.18 L89.61,475.90 L89.98,475.63 L90.42,475.36 L90.93,475.10 L91.49,474.85 L92.10,474.62 L92.75,474.41 L93.45,474.23 L94.17,474.07 L94.92,473.94 L95.68,473.84 L96.45,473.77 L97.21,473.74 L97.97,473.74 L98.71,473.78 L99.43,473.86 L100.11,473.97 L100.75,474.11 L101.35,474.30 L101.89,474.51 L102.38,474.76 L102.80,475.04 L103.16,475.35 L103.44,475.68 L103.65,476.04 L103.78,476.42" fill="none" stroke="#9cd488" stroke-width="1.9" stroke-linecap="round" stroke-linejoin="round"/>
<path d="M89.79,481.79 L89.74,481.54 L89.77,481.29 L89.88,481.02 L90.06,480.74 L90.32,480.46 L90.66,480.19 L91.06,479.91 L91.52,479.65 L92.05,479.39 L92.63,479.15 L93.26,478.93 L93.93,478.73 L94.64,478.56 L95.37,478.41 L96.13,478.29 L96.89,478.20 L97.66,478.15 L98.42,478.13 L99.18,478.15 L99.91,478.20 L100.61,478.29 L101.28,478.41 L101.90,478.58 L102.48,478.77 L103.00,479.00 L103.46,479.26 L103.86,479.55 L104.19,479.87 L104.44,480.21 L104.62,480.58 L104.72,480.96" fill="none" stroke="#9cd488" stroke-width="1.9" stroke-linecap="round" stroke-linejoin="round"/>
<path d="M90.67,486.09 L90.65,485.84 L90.71,485.58 L90.85,485.30 L91.07,485.03 L91.35,484.75 L91.71,484.47" fill="none" stroke="#9cd488" stroke-width="1.9" stroke-linecap="round" stroke-linejoin="round"/>
<path d="M93.46,473.85 L92.75,473.96 L92.06,474.03 L91.40,474.07 L90.79,474.07 L90.22,474.04 L89.70,473.97 L89.24,473.87 L88.84,473.74 L88.51,473.58 L88.25,473.39 L88.06,473.18 L87.95,472.95" fill="none" stroke="#52a834" stroke-width="1.9" stroke-linecap="round" stroke-linejoin="round"/>
<path d="M102.91,472.26 L102.92,472.66 L102.85,473.07 L102.70,473.49 L102.48,473.92 L102.18,474.34 L101.82,474.76 L101.39,475.17 L100.89,475.57 L100.35,475.96 L99.75,476.33 L99.11,476.67 L98.44,477.00 L97.74,477.29 L97.02,477.56 L96.28,477.79 L95.54,477.99 L94.81,478.16 L94.09,478.29 L93.38,478.39 L92.71,478.45 L92.06,478.47 L91.46,478.46 L90.91,478.41 L90.42,478.33 L89.98,478.21 L89.61,478.07 L89.30,477.90 L89.07,477.70 L88.92,477.49 L88.84,477.25" fill="none" stroke="#52a834" stroke-width="1.9" stroke-linecap="round" stroke-linejoin="round"/>
<path d="M103.78,476.42 L103.83,476.81 L103.81,477.22 L103.71,477.63 L103.53,478.05 L103.28,478.48 L102.95,478.90 L102.56,479.32 L102.11,479.72 L101.59,480.12 L101.03,480.50 L100.41,480.86 L99.76,481.20 L99.08,481.51 L98.37,481.79 L97.64,482.05 L96.90,482.27 L96.16,482.46 L95.43,482.61 L94.72,482.73 L94.02,482.81 L93.36,482.85 L92.73,482.86 L92.15,482.84 L91.62,482.77 L91.15,482.68 L90.73,482.55 L90.39,482.40 L90.11,482.22 L89.91,482.01 L89.79,481.79" fill="none" stroke="#52a834" stroke-width="1.9" stroke-linecap="round" stroke-linejoin="round"/>
<path d="M104.72,480.96 L104.74,481.36 L104.69,481.77 L104.56,482.19 L104.35,482.61 L104.07,483.04 L103.72,483.46 L103.30,483.87 L102.82,484.28 L102.29,484.67 L101.70,485.04 L101.07,485.39 L100.40,485.72 L99.71,486.02 L98.99,486.29 L98.26,486.53 L97.52,486.74 L96.78,486.92 L96.06,487.06 L95.35,487.16 L94.66,487.22 L94.02,487.26 L93.41,487.25 L92.84,487.21 L92.34,487.13 L91.89,487.03 L91.50,486.89 L91.18,486.73 L90.94,486.53 L90.76,486.32 L90.67,486.09" fill="none" stroke="#52a834" stroke-width="1.9" stroke-linecap="round" stroke-linejoin="round"/>
<path d="M98.50,487.00 C99.42,487.17 102.25,487.50 104.00,488.00 C105.75,488.50 108.17,489.67 109.00,490.00" fill="none" stroke="#5cb834" stroke-width="3.6" stroke-linecap="round" stroke-linejoin="round" opacity="1"/>
<path d="M110.28,488.30 L109.76,488.43 L109.10,488.60 L108.30,488.81 L107.40,489.04 L106.41,489.29 L105.37,489.57 L104.30,489.87 L103.21,490.18 L102.14,490.51 L101.09,490.85 L100.03,491.23 L98.90,491.65 L97.73,492.11 L96.54,492.59 L95.37,493.07 L94.25,493.53 L93.22,493.96 L92.30,494.35 L91.53,494.67 L90.94,494.91 L93.06,500.09 L93.67,499.84 L94.45,499.52 L95.38,499.13 L96.40,498.70 L97.50,498.25 L98.64,497.78 L99.79,497.32 L100.91,496.88 L101.96,496.49 L102.91,496.15 L103.83,495.85 L104.81,495.55 L105.82,495.26 L106.84,494.97 L107.84,494.71 L108.79,494.46 L109.68,494.23 L110.48,494.03 L111.18,493.85 L111.72,493.70 Z" fill="#7ddf4b" stroke="#5cb834" stroke-width="0.6" stroke-linejoin="round"/>
<path d="M92.00,497.50 C92.67,498.08 94.50,500.00 96.00,501.00 C97.50,502.00 100.17,503.08 101.00,503.50" fill="none" stroke="#5cb834" stroke-width="4.0" stroke-linecap="round" stroke-linejoin="round" opacity="1"/>
<path d="M101.09,500.25 L100.56,500.42 L99.88,500.64 L99.07,500.91 L98.15,501.20 L97.16,501.53 L96.12,501.87 L95.06,502.22 L94.01,502.58 L92.98,502.93 L92.02,503.27 L91.05,503.63 L90.02,504.01 L88.97,504.42 L87.91,504.83 L86.87,505.24 L85.88,505.63 L84.97,506.00 L84.15,506.32 L83.47,506.59 L82.94,506.80 L85.06,512.20 L85.60,511.99 L86.30,511.71 L87.11,511.39 L88.02,511.02 L89.00,510.63 L90.03,510.23 L91.06,509.83 L92.09,509.43 L93.07,509.06 L93.98,508.73 L94.90,508.40 L95.88,508.06 L96.91,507.72 L97.94,507.37 L98.96,507.04 L99.94,506.72 L100.86,506.42 L101.67,506.16 L102.37,505.93 L102.91,505.75 Z" fill="#84e450" stroke="#5cb834" stroke-width="0.6" stroke-linejoin="round"/>
<path d="M140.18,465.96 L140.19,465.88 L140.22,465.78 L140.28,465.66 L140.37,465.52 L140.50,465.36 L140.65,465.19 L140.84,464.99 L141.06,464.79 L141.31,464.58 L141.58,464.35 L141.89,464.12 L142.22,463.89 L142.57,463.65 L142.96,463.41 L143.36,463.17 L143.78,462.94 L144.22,462.71 L144.68,462.49 L145.15,462.28 L145.64,462.08 L146.13,461.89 L146.63,461.72 L147.14,461.57 L147.65,461.43 L148.16,461.32 L148.67,461.23 L149.18,461.16 L149.67,461.11 L150.16,461.10 L150.64,461.10 L151.10,461.13 L151.55,461.19 L151.98,461.28 L152.39,461.40 L152.78,461.54 L153.15,461.71 L153.49,461.91 L153.80,462.13 L154.09,462.39 L154.35,462.66 L154.74,463.16 L153.94,462.20 L153.70,461.89 L153.27,461.41 L152.82,460.96 L152.34,460.53 L151.84,460.14 L151.32,459.78 L150.78,459.46 L150.22,459.17 L149.65,458.91 L149.07,458.69 L148.48,458.51 L147.89,458.36 L147.29,458.26 L146.70,458.19 L146.11,458.16 L145.53,458.16 L144.96,458.20 L144.40,458.28 L143.85,458.38 L143.33,458.53 L142.82,458.70 L142.34,458.90 L141.88,459.13 L141.45,459.38 L141.05,459.66 L140.68,459.96 L140.34,460.27 L140.04,460.60 L139.77,460.94 L139.53,461.30 L139.34,461.66 L139.18,462.02 L139.06,462.39 L138.97,462.75 L138.93,463.11 L138.92,463.47 L138.95,463.81 L139.01,464.14 L139.11,464.46 L139.25,464.75 L139.41,465.03 Z" fill="#4fb3bb" stroke="#4fb3bb" stroke-width="0.5" stroke-linejoin="round"/>
<path d="M148.44,460.00 L148.38,460.59 L148.29,461.17 L148.16,461.73 L148.00,462.27 L147.81,462.80 L147.58,463.30 L147.33,463.78 L147.06,464.23 L146.76,464.65 L146.44,465.04 L146.11,465.40 L145.75,465.73 L145.39,466.02 L145.01,466.27 L144.63,466.49 L144.24,466.68 L143.85,466.82 L143.46,466.93 L143.07,467.00 L142.70,467.03 L142.33,467.02 L141.97,466.98 L141.63,466.91 L141.31,466.80 L141.01,466.66 L140.73,466.48 L140.48,466.28 L140.25,466.05 L140.18,465.96 L139.41,465.03 L139.57,465.24 L139.63,465.27 L139.72,465.27 L139.84,465.25 L139.98,465.20 L140.14,465.12 L140.33,465.01 L140.54,464.88 L140.77,464.72 L141.02,464.53 L141.28,464.31 L141.55,464.07 L141.84,463.80 L142.13,463.50 L142.44,463.19 L142.74,462.85 L143.05,462.48 L143.35,462.10 L143.66,461.70 L143.95,461.28 L144.24,460.85 L144.52,460.40 L144.79,459.95 L145.04,459.48 L145.27,459.00 L145.49,458.52 L145.68,458.04 L145.86,457.56 L146.01,457.07 Z" fill="#76dde2" stroke="#76dde2" stroke-width="0.5" stroke-linejoin="round"/>
<path d="M154.74,463.16 L155.10,463.68 L155.43,464.23 L155.73,464.79 L155.99,465.37 L156.22,465.96 L156.41,466.56 L156.56,467.16 L156.68,467.77 L156.75,468.38 L156.79,468.99 L156.79,469.60 L156.76,470.20 L156.69,470.78 L156.58,471.35 L156.44,471.91 L156.27,472.45 L156.07,472.97 L155.84,473.46 L155.58,473.93 L155.30,474.37 L154.99,474.79 L154.67,475.17 L154.32,475.51 L153.96,475.83 L153.60,476.11 L153.22,476.35 L152.83,476.56 L152.44,476.73 L150.08,473.89 L150.37,473.60 L150.67,473.29 L150.97,472.96 L151.28,472.61 L151.59,472.23 L151.89,471.84 L152.19,471.42 L152.48,471.00 L152.76,470.55 L153.03,470.10 L153.29,469.63 L153.53,469.16 L153.75,468.68 L153.96,468.20 L154.14,467.72 L154.29,467.23 L154.42,466.75 L154.53,466.28 L154.61,465.81 L154.65,465.35 L154.67,464.90 L154.66,464.46 L154.62,464.03 L154.54,463.63 L154.44,463.24 L154.30,462.87 L154.13,462.52 L153.94,462.20 Z" fill="#76dde2" stroke="#76dde2" stroke-width="0.5" stroke-linejoin="round"/>
<path d="M149.52,460.27 L149.65,460.98 L149.83,461.89 L150.05,462.95 L150.28,464.13 L150.53,465.40 L150.77,466.74 L151.00,468.11 L151.21,469.49 L151.38,470.83 L151.50,472.12 L151.58,473.45 L151.63,474.93 L151.65,476.50 L151.64,478.12 L151.63,479.73 L151.60,481.28 L151.56,482.73 L151.53,484.03 L151.51,485.13 L151.50,485.98 L154.50,486.02 L154.51,485.18 L154.53,484.10 L154.56,482.80 L154.60,481.34 L154.62,479.77 L154.64,478.14 L154.65,476.49 L154.63,474.86 L154.58,473.32 L154.50,471.88 L154.36,470.50 L154.18,469.07 L153.97,467.64 L153.73,466.22 L153.47,464.85 L153.22,463.55 L152.99,462.36 L152.78,461.31 L152.60,460.43 L152.48,459.73 Z" fill="#76dde2" stroke="#4fb3bb" stroke-width="0.6" stroke-linejoin="round"/>
<path d="M116.00,466.50 C115.50,466.92 113.75,468.08 113.00,469.00 C112.25,469.92 111.42,471.08 111.50,472.00 C111.58,472.92 112.58,474.08 113.50,474.50 C114.42,474.92 116.42,474.50 117.00,474.50" fill="none" stroke="#b0279f" stroke-width="1.1" stroke-linecap="round" stroke-linejoin="round" opacity="1"/>
<path d="M117.00,474.50 C117.67,474.58 120.00,474.42 121.00,475.00 C122.00,475.58 123.00,477.00 123.00,478.00 C123.00,479.00 121.83,480.67 121.00,481.00 C120.17,481.33 118.67,480.67 118.00,480.00 C117.33,479.33 116.67,477.67 117.00,477.00 C117.33,476.33 119.08,475.67 120.00,476.00 C120.92,476.33 122.33,477.83 122.50,479.00 C122.67,480.17 121.75,482.33 121.00,483.00 C120.25,483.67 118.67,483.50 118.00,483.00 C117.33,482.50 117.17,480.50 117.00,480.00" fill="none" stroke="#b24fa8" stroke-width="1.0" stroke-linecap="round" stroke-linejoin="round" opacity="1"/>
<circle cx="128.50" cy="475.70" r="3.5" fill="url(#gP)"/>
<circle cx="127.30" cy="481.50" r="3.5" fill="url(#gP)"/>
<circle cx="130.20" cy="480.30" r="3.5" fill="url(#gP)"/>
<circle cx="133.00" cy="482.60" r="3.5" fill="url(#gP)"/>
<circle cx="137.00" cy="485.00" r="3.5" fill="url(#gP)"/>
<circle cx="132.00" cy="477.00" r="3.5" fill="url(#gP)"/>
<circle cx="144.60" cy="485.00" r="3.5" fill="url(#gP)"/>
<circle cx="136.00" cy="491.00" r="3.9" fill="url(#gR)"/>
<circle cx="141.00" cy="494.00" r="3.9" fill="url(#gR)"/>
<circle cx="146.00" cy="499.00" r="3.9" fill="url(#gR)"/>
<circle cx="151.50" cy="502.50" r="3.9" fill="url(#gR)"/>
<circle cx="147.00" cy="504.50" r="3.9" fill="url(#gR)"/>
<circle cx="150.50" cy="497.50" r="3.9" fill="url(#gR)"/>
<path d="M111.84,506.39 L113.51,506.58 L115.64,506.83 L118.18,507.13 L121.02,507.47 L124.09,507.83 L127.30,508.19 L130.57,508.54 L133.82,508.87 L136.95,509.16 L139.90,509.40 L142.85,509.58 L145.98,509.74 L149.23,509.88 L152.50,509.99 L155.71,510.09 L158.78,510.17 L161.62,510.24 L164.16,510.30 L166.30,510.35 L167.96,510.40 L168.04,507.60 L166.37,507.55 L164.23,507.50 L161.69,507.44 L158.85,507.37 L155.79,507.29 L152.59,507.19 L149.34,507.08 L146.11,506.95 L143.01,506.79 L140.10,506.60 L137.19,506.37 L134.09,506.09 L130.86,505.76 L127.61,505.41 L124.41,505.05 L121.35,504.69 L118.51,504.35 L115.97,504.05 L113.83,503.80 L112.16,503.61 Z" fill="#8ee6ea" stroke="#4fb3bb" stroke-width="0.6" stroke-linejoin="round"/>
<path d="M133.49,510.25 L133.43,510.24 L133.34,510.19 L133.24,510.10 L133.11,509.96 L132.97,509.79 L132.81,509.57 L132.63,509.31 L132.44,509.02 L132.24,508.69 L132.04,508.32 L131.82,507.92 L131.60,507.49 L131.38,507.03 L131.16,506.54 L130.94,506.02 L130.72,505.49 L130.51,504.93 L130.30,504.36 L130.11,503.78 L129.92,503.18 L129.75,502.58 L129.60,501.98 L129.46,501.37 L129.34,500.77 L129.24,500.17 L129.16,499.58 L129.11,499.01 L129.08,498.45 L129.07,497.91 L129.09,497.38 L129.13,496.89 L129.20,496.42 L129.30,495.97 L129.42,495.56 L129.57,495.19 L129.75,494.84 L129.95,494.54 L130.18,494.27 L130.44,494.04 L130.72,493.85 L131.26,493.56 L130.15,494.20 L129.85,494.35 L129.33,494.68 L128.83,495.05 L128.36,495.45 L127.93,495.89 L127.52,496.37 L127.15,496.87 L126.81,497.41 L126.51,497.97 L126.25,498.55 L126.03,499.15 L125.85,499.76 L125.70,500.39 L125.60,501.03 L125.53,501.68 L125.51,502.32 L125.52,502.97 L125.57,503.61 L125.66,504.25 L125.78,504.87 L125.94,505.48 L126.13,506.07 L126.35,506.64 L126.60,507.19 L126.87,507.71 L127.17,508.20 L127.49,508.65 L127.82,509.08 L128.18,509.46 L128.54,509.81 L128.92,510.12 L129.30,510.39 L129.68,510.61 L130.07,510.79 L130.45,510.93 L130.83,511.02 L131.20,511.06 L131.56,511.06 L131.90,511.02 L132.23,510.94 L132.54,510.81 Z" fill="#4fb3bb" stroke="#4fb3bb" stroke-width="0.5" stroke-linejoin="round"/>
<path d="M143.48,504.49 L143.41,504.47 L143.32,504.40 L143.21,504.30 L143.08,504.16 L142.93,503.97 L142.77,503.74 L142.59,503.48 L142.40,503.18 L142.20,502.84 L141.99,502.46 L141.77,502.05 L141.55,501.61 L141.33,501.15 L141.11,500.65 L140.89,500.13 L140.67,499.59 L140.46,499.03 L140.26,498.46 L140.06,497.87 L139.88,497.27 L139.72,496.67 L139.57,496.07 L139.43,495.46 L139.32,494.86 L139.22,494.26 L139.15,493.68 L139.10,493.11 L139.07,492.55 L139.07,492.01 L139.09,491.50 L139.14,491.01 L139.22,490.54 L139.32,490.11 L139.45,489.70 L139.61,489.33 L139.79,489.00 L140.00,488.70 L140.24,488.44 L140.50,488.22 L140.84,488.01 L139.92,488.54 L139.44,488.83 L138.94,489.19 L138.47,489.59 L138.02,490.02 L137.61,490.49 L137.23,490.99 L136.89,491.51 L136.58,492.07 L136.31,492.64 L136.08,493.24 L135.89,493.85 L135.73,494.48 L135.62,495.11 L135.55,495.76 L135.51,496.41 L135.52,497.05 L135.56,497.70 L135.64,498.33 L135.75,498.96 L135.90,499.57 L136.08,500.17 L136.30,500.74 L136.54,501.29 L136.81,501.82 L137.10,502.32 L137.41,502.78 L137.75,503.21 L138.09,503.61 L138.46,503.97 L138.83,504.28 L139.21,504.56 L139.60,504.79 L139.98,504.98 L140.37,505.13 L140.75,505.23 L141.12,505.29 L141.48,505.30 L141.83,505.27 L142.16,505.19 L142.47,505.07 Z" fill="#4fb3bb" stroke="#4fb3bb" stroke-width="0.5" stroke-linejoin="round"/>
<path d="M153.47,498.72 L153.39,498.69 L153.30,498.61 L153.18,498.50 L153.05,498.35 L152.89,498.15 L152.73,497.92 L152.55,497.64 L152.35,497.33 L152.15,496.98 L151.94,496.60 L151.72,496.19 L151.50,495.74 L151.28,495.26 L151.06,494.76 L150.84,494.24 L150.62,493.69 L150.41,493.13 L150.21,492.55 L150.02,491.96 L149.84,491.37 L149.68,490.76 L149.53,490.16 L149.40,489.55 L149.29,488.95 L149.20,488.36 L149.14,487.78 L149.09,487.21 L149.07,486.66 L149.07,486.12 L149.10,485.61 L146.13,487.33 L145.93,487.94 L145.76,488.56 L145.64,489.20 L145.56,489.84 L145.52,490.49 L145.51,491.14 L145.54,491.78 L145.62,492.42 L145.72,493.05 L145.86,493.66 L146.04,494.26 L146.24,494.84 L146.48,495.40 L146.74,495.93 L147.03,496.44 L147.34,496.91 L147.67,497.35 L148.01,497.75 L148.37,498.12 L148.74,498.44 L149.12,498.73 L149.51,498.97 L149.89,499.17 L150.28,499.33 L150.66,499.44 L151.03,499.51 L151.40,499.53 L151.75,499.51 L152.08,499.44 L152.40,499.33 Z" fill="#4fb3bb" stroke="#4fb3bb" stroke-width="0.5" stroke-linejoin="round"/>
<path d="M133.38,503.11 L133.70,503.60 L133.98,504.11 L134.23,504.61 L134.44,505.12 L134.60,505.62 L134.73,506.11 L134.82,506.59 L134.87,507.06 L134.88,507.51 L134.85,507.94 L134.79,508.34 L134.68,508.72 L134.55,509.08 L134.38,509.39 L134.18,509.68 L133.94,509.93 L133.69,510.14 L133.49,510.25 L132.54,510.81 L132.67,510.72 L132.69,510.65 L132.68,510.54 L132.64,510.39 L132.58,510.21 L132.50,509.99 L132.38,509.73 L132.24,509.44 L132.08,509.13 L131.88,508.78 L131.66,508.41 L131.42,508.02 L131.14,507.61 L130.85,507.18 L130.53,506.74 L130.19,506.29 L129.83,505.83 L129.46,505.37 Z" fill="#80e4e8" stroke="#80e4e8" stroke-width="0.5" stroke-linejoin="round"/>
<path d="M131.26,493.56 L131.83,493.32 L132.41,493.12 L133.01,492.96 L133.62,492.84 L134.25,492.78 L134.88,492.75 L135.51,492.77 L136.14,492.84 L136.77,492.94 L137.40,493.09 L138.02,493.28 L138.62,493.51 L139.21,493.78 L139.79,494.08 L140.34,494.41 L140.87,494.78 L141.38,495.17 L141.86,495.59 L142.30,496.03 L142.72,496.49 L143.11,496.97 L143.45,497.45 L143.77,497.95 L144.04,498.45 L144.28,498.96 L144.48,499.46 L144.64,499.96 L144.76,500.45 L144.84,500.93 L144.88,501.39 L144.88,501.84 L144.84,502.27 L144.77,502.67 L144.66,503.04 L144.51,503.38 L144.33,503.69 L144.12,503.97 L143.89,504.21 L143.62,504.41 L143.48,504.49 L142.47,505.07 L142.66,504.97 L142.68,504.90 L142.68,504.80 L142.65,504.66 L142.60,504.48 L142.52,504.27 L142.41,504.02 L142.28,503.74 L142.12,503.43 L141.93,503.09 L141.71,502.73 L141.47,502.34 L141.21,501.94 L140.92,501.51 L140.61,501.08 L140.27,500.63 L139.92,500.17 L139.54,499.71 L139.15,499.25 L138.74,498.79 L138.32,498.33 L137.88,497.88 L137.44,497.45 L136.98,497.02 L136.52,496.62 L136.05,496.23 L135.58,495.87 L135.11,495.54 L134.65,495.23 L134.18,494.95 L133.72,494.70 L133.27,494.49 L132.83,494.32 L132.40,494.18 L131.98,494.08 L131.58,494.03 L131.19,494.01 L130.82,494.03 L130.48,494.10 L130.15,494.20 Z" fill="#80e4e8" stroke="#80e4e8" stroke-width="0.5" stroke-linejoin="round"/>
<path d="M140.84,488.01 L141.39,487.74 L141.96,487.50 L142.55,487.31 L143.15,487.16 L143.77,487.06 L144.39,487.00 L145.02,486.98 L145.66,487.01 L146.29,487.09 L146.92,487.20 L147.54,487.36 L148.16,487.56 L148.76,487.80 L149.35,488.08 L149.92,488.38 L150.47,488.73 L150.99,489.10 L151.49,489.50 L151.96,489.92 L152.40,490.37 L152.81,490.83 L153.19,491.31 L153.53,491.80 L153.83,492.30 L154.10,492.80 L154.33,493.31 L154.52,493.81 L154.67,494.31 L154.78,494.79 L154.85,495.27 L154.88,495.73 L154.87,496.17 L154.83,496.59 L154.74,496.99 L154.62,497.35 L154.47,497.69 L154.29,497.99 L154.07,498.26 L153.83,498.49 L153.56,498.68 L153.47,498.72 L152.40,499.33 L152.65,499.20 L152.68,499.15 L152.68,499.06 L152.66,498.93 L152.61,498.76 L152.54,498.55 L152.44,498.31 L152.31,498.04 L152.16,497.74 L151.97,497.41 L151.77,497.05 L151.53,496.67 L151.27,496.26 L150.99,495.84 L150.68,495.41 L150.35,494.96 L150.00,494.51 L149.63,494.05 L149.24,493.58 L148.84,493.12 L148.42,492.67 L147.99,492.22 L147.54,491.78 L147.09,491.35 L146.63,490.94 L146.16,490.55 L145.69,490.18 L145.22,489.84 L144.75,489.53 L144.29,489.24 L143.83,488.99 L143.37,488.77 L142.93,488.59 L142.49,488.44 L142.07,488.33 L141.67,488.27 L141.28,488.24 L140.91,488.25 L140.56,488.31 L140.23,488.41 L139.92,488.54 Z" fill="#80e4e8" stroke="#80e4e8" stroke-width="0.5" stroke-linejoin="round"/>
<path d="M148.51,500.31 L148.99,500.49 L149.60,500.71 L150.32,500.97 L151.12,501.27 L151.99,501.58 L152.90,501.92 L153.82,502.26 L154.74,502.61 L155.63,502.96 L156.47,503.30 L157.32,503.65 L158.23,504.04 L159.19,504.46 L160.17,504.89 L161.13,505.32 L162.05,505.73 L162.91,506.12 L163.68,506.46 L164.33,506.75 L164.83,506.98 L165.97,504.42 L165.47,504.20 L164.83,503.91 L164.06,503.56 L163.20,503.18 L162.27,502.76 L161.30,502.33 L160.32,501.89 L159.34,501.47 L158.41,501.07 L157.53,500.70 L156.66,500.36 L155.75,500.00 L154.81,499.64 L153.87,499.29 L152.96,498.95 L152.08,498.64 L151.28,498.34 L150.56,498.08 L149.96,497.86 L149.49,497.69 Z" fill="#76dde2" stroke="#4fb3bb" stroke-width="0.6" stroke-linejoin="round"/>
<path d="M109.83,503.29 L110.29,503.35 L110.89,503.43 L111.59,503.53 L112.38,503.64 L113.24,503.76 L114.16,503.88 L115.10,504.00 L116.04,504.11 L116.98,504.21 L117.90,504.30 L118.84,504.36 L119.86,504.42 L120.93,504.48 L122.02,504.52 L123.10,504.56 L124.14,504.60 L125.11,504.63 L125.97,504.65 L126.70,504.68 L127.25,504.70 L127.35,502.10 L126.79,502.08 L126.06,502.06 L125.19,502.03 L124.23,502.00 L123.20,501.96 L122.12,501.92 L121.05,501.88 L120.00,501.83 L119.00,501.77 L118.10,501.70 L117.24,501.63 L116.33,501.53 L115.41,501.42 L114.49,501.31 L113.59,501.19 L112.74,501.07 L111.95,500.96 L111.25,500.86 L110.65,500.77 L110.17,500.71 Z" fill="#76dde2" stroke="#4fb3bb" stroke-width="0.6" stroke-linejoin="round"/>
<path d="M157.00,505.00 C157.83,505.67 160.17,508.00 162.00,509.00 C163.83,510.00 167.00,510.67 168.00,511.00" fill="none" stroke="#76dde2" stroke-width="1.4" stroke-linecap="round" stroke-linejoin="round" opacity="1"/>
<circle cx="146.90" cy="468.80" r="3.7" fill="url(#gO)"/>
<circle cx="140.60" cy="472.80" r="3.7" fill="url(#gO)"/>
<circle cx="144.60" cy="475.10" r="3.7" fill="url(#gO)"/>
<circle cx="137.70" cy="478.00" r="3.7" fill="url(#gO)"/>
<circle cx="141.70" cy="479.20" r="3.7" fill="url(#gO)"/>
<circle cx="147.50" cy="478.60" r="3.7" fill="url(#gO)"/>
<path d="M326.00,579.00 C327.00,579.00 329.67,579.00 332.00,579.00 C334.33,579.00 337.83,578.83 340.00,579.00 C342.17,579.17 344.17,579.83 345.00,580.00" fill="none" stroke="#74d3d8" stroke-width="1.4" stroke-linecap="round" stroke-linejoin="round" opacity="1"/>
<path d="M325.00,587.00 C326.17,586.17 329.50,581.83 332.00,582.00 C334.50,582.17 338.67,587.00 340.00,588.00" fill="none" stroke="#74d3d8" stroke-width="1.4" stroke-linecap="round" stroke-linejoin="round" opacity="1"/>
<path d="M351.00,598.00 C352.17,599.17 357.00,602.50 358.00,605.00 C359.00,607.50 357.17,611.67 357.00,613.00" fill="none" stroke="#74d3d8" stroke-width="1.4" stroke-linecap="round" stroke-linejoin="round" opacity="1"/>
<path d="M370.80,605.00 C372.08,606.33 376.97,610.33 378.50,613.00 C380.03,615.67 380.52,618.42 380.00,621.00 C379.48,623.58 376.93,626.75 375.40,628.50 C373.87,630.25 371.07,630.22 370.80,631.50 C370.53,632.78 372.52,635.17 373.80,636.20 C375.08,637.23 377.72,637.45 378.50,637.70" fill="none" stroke="#74d3d8" stroke-width="1.4" stroke-linecap="round" stroke-linejoin="round" opacity="1"/>
<path d="M335.40,628.50 C336.67,628.25 340.70,626.75 343.00,627.00 C345.30,627.25 347.13,629.00 349.20,630.00 C351.27,631.00 353.85,631.97 355.40,633.00 C356.95,634.03 357.98,635.67 358.50,636.20" fill="none" stroke="#74d3d8" stroke-width="1.4" stroke-linecap="round" stroke-linejoin="round" opacity="1"/>
<path d="M334.00,598.00 C334.67,597.00 336.17,593.00 338.00,592.00 C339.83,591.00 343.00,591.00 345.00,592.00 C347.00,593.00 348.83,595.83 350.00,598.00 C351.17,600.17 351.67,603.83 352.00,605.00" fill="none" stroke="#74d3d8" stroke-width="1.4" stroke-linecap="round" stroke-linejoin="round" opacity="1"/>
<path d="M331.00,612.00 C331.83,613.33 334.17,618.00 336.00,620.00 C337.83,622.00 340.00,623.67 342.00,624.00 C344.00,624.33 346.17,623.00 348.00,622.00 C349.83,621.00 352.17,618.67 353.00,618.00" fill="none" stroke="#74d3d8" stroke-width="1.4" stroke-linecap="round" stroke-linejoin="round" opacity="1"/>
<path d="M358.00,612.00 C359.00,611.00 362.33,608.00 364.00,606.00 C365.67,604.00 366.67,602.00 368.00,600.00 C369.33,598.00 371.33,595.00 372.00,594.00" fill="none" stroke="#74d3d8" stroke-width="1.4" stroke-linecap="round" stroke-linejoin="round" opacity="1"/>
<path d="M360.00,622.00 C361.00,623.00 364.00,626.00 366.00,628.00 C368.00,630.00 371.00,633.00 372.00,634.00" fill="none" stroke="#74d3d8" stroke-width="1.4" stroke-linecap="round" stroke-linejoin="round" opacity="1"/>
<path d="M297.00,491.00 C298.00,492.17 300.33,496.50 303.00,498.00 C305.67,499.50 311.33,499.67 313.00,500.00" fill="none" stroke="#74d3d8" stroke-width="1.4" stroke-linecap="round" stroke-linejoin="round" opacity="1"/>
<path d="M329.00,502.00 C330.17,502.17 334.00,502.17 336.00,503.00 C338.00,503.83 340.17,506.33 341.00,507.00" fill="none" stroke="#74d3d8" stroke-width="1.4" stroke-linecap="round" stroke-linejoin="round" opacity="1"/>
<path d="M326.00,620.00 C326.50,621.33 327.67,626.00 329.00,628.00 C330.33,630.00 333.17,631.33 334.00,632.00" fill="none" stroke="#74d3d8" stroke-width="1.4" stroke-linecap="round" stroke-linejoin="round" opacity="1"/>
<path d="M382.00,600.00 C383.00,601.00 386.67,603.33 388.00,606.00 C389.33,608.67 390.33,612.67 390.00,616.00 C389.67,619.33 387.67,623.33 386.00,626.00 C384.33,628.67 381.00,631.00 380.00,632.00" fill="none" stroke="#74d3d8" stroke-width="1.4" stroke-linecap="round" stroke-linejoin="round" opacity="1"/>
<path d="M344.00,636.00 C345.33,636.67 349.00,639.33 352.00,640.00 C355.00,640.67 359.00,640.50 362.00,640.00 C365.00,639.50 368.67,637.50 370.00,637.00" fill="none" stroke="#74d3d8" stroke-width="1.4" stroke-linecap="round" stroke-linejoin="round" opacity="1"/>
<path d="M370.72,600.53 L370.56,601.49 L370.39,602.74 L370.20,604.20 L369.99,605.82 L369.74,607.53 L369.45,609.28 L369.11,611.00 L368.72,612.62 L368.27,614.08 L367.76,615.31 L367.16,616.38 L366.47,617.40 L365.67,618.38 L364.81,619.33 L363.87,620.26 L362.89,621.17 L361.88,622.07 L360.86,622.99 L359.85,623.92 L358.88,624.86 L357.92,625.81 L356.91,626.79 L355.85,627.79 L354.79,628.78 L353.74,629.75 L352.94,628.86 L350.80,634.60 L356.71,632.99 L355.91,632.10 L356.97,631.13 L358.05,630.12 L359.12,629.10 L360.16,628.10 L361.12,627.14 L362.05,626.24 L363.01,625.36 L364.02,624.46 L365.05,623.53 L366.09,622.57 L367.11,621.55 L368.10,620.47 L369.04,619.31 L369.89,618.06 L370.64,616.69 L371.28,615.16 L371.80,613.48 L372.24,611.69 L372.60,609.85 L372.91,608.02 L373.16,606.25 L373.38,604.61 L373.56,603.16 L373.73,601.97 L373.88,601.07 Z" fill="#86c2c8" stroke="#3a8f98" stroke-width="0.6" stroke-linejoin="round"/>
<path d="M341.52,591.24 L341.43,591.75 L341.32,592.40 L341.18,593.16 L341.03,594.03 L340.87,594.96 L340.69,595.93 L340.52,596.92 L340.35,597.90 L340.18,598.85 L340.02,599.74 L339.87,600.63 L339.70,601.58 L339.53,602.56 L339.35,603.55 L339.18,604.52 L339.01,605.45 L338.86,606.31 L338.73,607.08 L338.61,607.73 L338.52,608.24 L341.48,608.76 L341.57,608.25 L341.68,607.60 L341.82,606.84 L341.97,605.97 L342.13,605.04 L342.31,604.07 L342.48,603.08 L342.65,602.10 L342.82,601.15 L342.98,600.26 L343.13,599.37 L343.30,598.42 L343.47,597.44 L343.65,596.45 L343.82,595.48 L343.99,594.55 L344.14,593.69 L344.27,592.92 L344.39,592.27 L344.48,591.76 Z" fill="#86c2c8" stroke="#3a8f98" stroke-width="0.6" stroke-linejoin="round"/>
<path d="M328.43,612.78 L328.77,612.99 L329.20,613.25 L329.72,613.56 L330.30,613.91 L330.92,614.29 L331.58,614.68 L332.25,615.09 L332.93,615.50 L333.59,615.90 L334.22,616.28 L334.87,616.68 L335.57,617.11 L336.32,617.57 L337.07,618.03 L336.48,618.99 L341.50,619.00 L339.24,614.52 L338.65,615.48 L337.89,615.01 L337.14,614.55 L336.43,614.12 L335.78,613.72 L335.14,613.33 L334.48,612.93 L333.80,612.52 L333.13,612.11 L332.47,611.71 L331.84,611.34 L331.26,610.99 L330.75,610.68 L330.32,610.42 L329.97,610.22 Z" fill="#86c2c8" stroke="#3a8f98" stroke-width="0.6" stroke-linejoin="round"/>
<path d="M258.70,570.00 C259.42,569.45 261.62,566.37 263.00,566.70 C264.38,567.03 266.28,569.68 267.00,572.00 C267.72,574.32 266.97,577.60 267.30,580.60 C267.63,583.60 267.55,587.10 269.00,590.00 C270.45,592.90 273.33,595.33 276.00,598.00 C278.67,600.67 283.00,603.83 285.00,606.00 C287.00,608.17 287.50,610.17 288.00,611.00" fill="none" stroke="#84d862" stroke-width="1.5" stroke-linecap="round" stroke-linejoin="round" opacity="1"/>
<path d="M271.00,580.00 C271.67,580.67 273.00,583.00 275.00,584.00 C277.00,585.00 280.50,585.00 283.00,586.00 C285.50,587.00 288.83,589.33 290.00,590.00" fill="none" stroke="#84d862" stroke-width="1.5" stroke-linecap="round" stroke-linejoin="round" opacity="1"/>
<path d="M288.00,600.00 C288.33,601.67 288.50,607.00 290.00,610.00 C291.50,613.00 296.33,615.50 297.00,618.00 C297.67,620.50 294.00,622.83 294.00,625.00 C294.00,627.17 295.17,630.17 297.00,631.00 C298.83,631.83 303.00,631.50 305.00,630.00 C307.00,628.50 307.00,624.67 309.00,622.00 C311.00,619.33 315.67,615.33 317.00,614.00" fill="none" stroke="#84d862" stroke-width="1.5" stroke-linecap="round" stroke-linejoin="round" opacity="1"/>
<path d="M300.00,607.00 C301.00,607.83 303.33,611.17 306.00,612.00 C308.67,612.83 314.33,612.00 316.00,612.00" fill="none" stroke="#84d862" stroke-width="1.5" stroke-linecap="round" stroke-linejoin="round" opacity="1"/>
<path d="M289.60,505.20 C290.47,504.77 293.07,502.03 294.80,502.60 C296.53,503.17 299.42,506.43 300.00,508.60 C300.58,510.77 300.03,514.30 298.30,515.60 C296.57,516.90 291.32,517.33 289.60,516.40 C287.88,515.47 288.27,511.07 288.00,510.00" fill="none" stroke="#84d862" stroke-width="1.5" stroke-linecap="round" stroke-linejoin="round" opacity="1"/>
<path d="M286.00,524.00 C286.33,525.00 287.12,527.95 288.00,530.00 C288.88,532.05 290.97,533.80 291.30,536.30 C291.63,538.80 290.22,543.55 290.00,545.00" fill="none" stroke="#84d862" stroke-width="1.5" stroke-linecap="round" stroke-linejoin="round" opacity="1"/>
<path d="M266.00,514.00 C267.00,513.33 269.67,510.33 272.00,510.00 C274.33,509.67 277.67,510.67 280.00,512.00 C282.33,513.33 285.00,517.00 286.00,518.00" fill="none" stroke="#84d862" stroke-width="1.5" stroke-linecap="round" stroke-linejoin="round" opacity="1"/>
<path d="M262.00,525.00 C262.33,527.50 263.83,535.00 264.00,540.00 C264.17,545.00 262.33,551.33 263.00,555.00 C263.67,558.67 267.17,560.83 268.00,562.00" fill="none" stroke="#84d862" stroke-width="1.5" stroke-linecap="round" stroke-linejoin="round" opacity="1"/>
<path d="M283.00,530.00 C284.17,530.67 287.83,531.50 290.00,534.00 C292.17,536.50 293.50,542.00 296.00,545.00 C298.50,548.00 303.50,550.83 305.00,552.00" fill="none" stroke="#84d862" stroke-width="1.5" stroke-linecap="round" stroke-linejoin="round" opacity="1"/>
<path d="M320.00,555.00 C321.33,555.50 325.67,556.17 328.00,558.00 C330.33,559.83 332.00,563.67 334.00,566.00 C336.00,568.33 339.00,571.00 340.00,572.00" fill="none" stroke="#84d862" stroke-width="1.5" stroke-linecap="round" stroke-linejoin="round" opacity="1"/>
<path d="M293.00,546.00 C293.67,547.67 295.83,552.83 297.00,556.00 C298.17,559.17 299.50,563.50 300.00,565.00" fill="none" stroke="#84d862" stroke-width="1.5" stroke-linecap="round" stroke-linejoin="round" opacity="1"/>
<path d="M283.69,541.48 L283.26,542.59 L282.71,544.02 L282.06,545.71 L281.34,547.59 L280.55,549.63 L279.73,551.74 L278.88,553.89 L278.04,556.00 L277.21,558.02 L276.42,559.90 L275.62,561.76 L274.73,563.74 L273.80,565.79 L272.85,567.85 L271.91,569.87 L270.01,568.97 L270.80,578.80 L278.88,573.14 L276.98,572.24 L277.93,570.20 L278.89,568.12 L279.84,566.04 L280.74,564.02 L281.58,562.10 L282.39,560.17 L283.23,558.10 L284.09,555.95 L284.94,553.78 L285.77,551.65 L286.56,549.61 L287.29,547.72 L287.94,546.03 L288.48,544.61 L288.91,543.52 Z" fill="#66b840" stroke="#3f8f25" stroke-width="0.6" stroke-linejoin="round"/>
<path d="M289.14,543.38 L288.75,544.50 L288.25,545.95 L287.66,547.65 L287.00,549.57 L286.29,551.63 L285.54,553.79 L284.78,555.98 L284.04,558.15 L283.31,560.23 L282.64,562.18 L281.97,564.12 L281.25,566.18 L280.51,568.31 L279.76,570.45 L279.03,572.55 L277.26,571.94 L278.60,581.40 L285.53,574.81 L283.75,574.20 L284.49,572.09 L285.23,569.95 L285.97,567.82 L286.69,565.76 L287.36,563.82 L288.04,561.87 L288.76,559.78 L289.51,557.61 L290.27,555.42 L291.01,553.27 L291.73,551.20 L292.39,549.29 L292.98,547.58 L293.48,546.14 L293.86,545.02 Z" fill="#7ddf4b" stroke="#5cb834" stroke-width="0.6" stroke-linejoin="round"/>
<path d="M291.30,545.96 L291.28,546.86 L291.26,548.02 L291.24,549.38 L291.22,550.91 L291.19,552.56 L291.16,554.29 L291.12,556.03 L291.08,557.75 L291.04,559.40 L291.00,560.94 L290.95,562.46 L290.89,564.07 L290.82,565.74 L290.75,567.41 L290.68,569.05 L290.61,570.62 L290.55,572.07 L290.49,573.36 L290.44,574.46 L290.40,575.31 L294.40,575.49 L294.44,574.63 L294.48,573.54 L294.54,572.25 L294.61,570.80 L294.68,569.23 L294.75,567.58 L294.82,565.90 L294.89,564.23 L294.95,562.60 L295.00,561.06 L295.04,559.51 L295.08,557.84 L295.12,556.11 L295.16,554.36 L295.19,552.64 L295.22,550.98 L295.24,549.45 L295.26,548.08 L295.28,546.93 L295.30,546.04 Z" fill="#9be67a" stroke="#5cb834" stroke-width="0.6" stroke-linejoin="round"/>
<path d="M299.09,570.66 L298.68,571.56 L298.15,572.73 L297.53,574.10 L296.83,575.63 L296.08,577.27 L295.29,578.99 L294.48,580.72 L293.68,582.43 L292.89,584.05 L292.14,585.56 L291.38,587.04 L290.54,588.63 L289.66,590.27 L288.76,591.92 L286.67,590.73 L287.20,601.30 L296.46,596.18 L294.37,595.00 L295.29,593.32 L296.19,591.64 L297.05,590.00 L297.86,588.44 L298.64,586.87 L299.45,585.18 L300.28,583.44 L301.10,581.68 L301.90,579.94 L302.65,578.28 L303.35,576.74 L303.97,575.38 L304.50,574.23 L304.91,573.34 Z" fill="#7ddf4b" stroke="#5cb834" stroke-width="0.6" stroke-linejoin="round"/>
<path d="M304.34,571.55 L304.18,572.49 L303.98,573.71 L303.75,575.14 L303.48,576.75 L303.19,578.50 L302.89,580.32 L302.59,582.19 L302.29,584.05 L302.00,585.86 L301.73,587.57 L301.47,589.30 L301.18,591.16 L300.89,593.10 L300.60,595.06 L300.32,596.99 L298.24,596.69 L302.00,604.80 L307.94,598.11 L305.86,597.81 L306.14,595.88 L306.43,593.92 L306.72,591.99 L307.00,590.15 L307.27,588.43 L307.53,586.73 L307.82,584.94 L308.12,583.08 L308.42,581.23 L308.72,579.40 L309.01,577.66 L309.27,576.05 L309.51,574.62 L309.71,573.40 L309.86,572.45 Z" fill="#86e652" stroke="#5cb834" stroke-width="0.6" stroke-linejoin="round"/>
<path d="M308.68,572.57 L308.82,573.04 L309.00,573.65 L309.21,574.38 L309.45,575.21 L309.71,576.09 L309.98,577.02 L310.26,577.96 L310.55,578.90 L310.83,579.80 L311.10,580.64 L311.39,581.47 L311.70,582.33 L312.02,583.22 L310.63,583.77 L315.80,587.50 L317.17,581.27 L315.77,581.83 L315.46,580.97 L315.16,580.14 L314.90,579.36 L314.64,578.57 L314.37,577.71 L314.09,576.81 L313.81,575.88 L313.54,574.97 L313.29,574.09 L313.05,573.27 L312.84,572.54 L312.66,571.92 L312.52,571.43 Z" fill="#7ddf4b" stroke="#5cb834" stroke-width="0.6" stroke-linejoin="round"/>
<path d="M300.19,565.58 L301.32,565.93 L302.75,566.37 L304.43,566.89 L306.31,567.47 L308.35,568.11 L310.50,568.78 L312.70,569.47 L314.91,570.18 L317.08,570.88 L319.15,571.56 L321.28,572.28 L323.60,573.08 L326.06,573.93 L328.56,574.80 L331.04,575.67 L333.43,576.51 L332.76,578.42 L341.50,576.50 L335.90,569.51 L335.23,571.42 L332.83,570.58 L330.34,569.70 L327.83,568.83 L325.36,567.97 L323.01,567.17 L320.85,566.44 L318.75,565.75 L316.56,565.04 L314.33,564.33 L312.12,563.63 L309.96,562.95 L307.91,562.32 L306.02,561.73 L304.34,561.21 L302.92,560.77 L301.81,560.42 Z" fill="#7ddf4b" stroke="#5cb834" stroke-width="0.6" stroke-linejoin="round"/>
<path d="M321.78,609.97 L321.80,609.93 L321.83,609.85 L321.87,609.73 L321.92,609.58 L321.99,609.39 L322.07,609.17 L322.16,608.91 L322.27,608.62 L322.40,608.31 L322.53,607.96 L322.69,607.60 L322.86,607.20 L323.04,606.79 L323.24,606.37 L323.45,605.93 L323.67,605.47 L323.91,605.01 L324.16,604.54 L324.42,604.08 L324.70,603.61 L324.98,603.14 L325.27,602.68 L325.57,602.23 L325.88,601.79 L326.20,601.37 L326.52,600.97 L326.85,600.58 L327.18,600.22 L327.51,599.88 L327.85,599.58 L328.18,599.30 L328.51,599.05 L328.84,598.84 L329.17,598.66 L329.49,598.51 L329.81,598.41 L330.12,598.34 L330.42,598.31 L330.72,598.32 L331.00,598.36 L331.51,598.51 L330.31,598.19 L329.99,598.09 L329.42,597.97 L328.84,597.89 L328.26,597.84 L327.68,597.84 L327.10,597.87 L326.52,597.95 L325.95,598.06 L325.38,598.22 L324.83,598.40 L324.29,598.63 L323.76,598.88 L323.25,599.17 L322.76,599.49 L322.30,599.84 L321.85,600.21 L321.44,600.61 L321.05,601.02 L320.69,601.46 L320.36,601.91 L320.06,602.37 L319.79,602.84 L319.56,603.32 L319.36,603.80 L319.19,604.28 L319.06,604.76 L318.96,605.23 L318.89,605.69 L318.86,606.14 L318.86,606.57 L318.89,606.99 L318.96,607.39 L319.05,607.76 L319.17,608.11 L319.32,608.43 L319.49,608.72 L319.68,608.98 L319.90,609.21 L320.13,609.40 L320.38,609.55 L320.65,609.67 Z" fill="#2f6e1a" stroke="#2f6e1a" stroke-width="0.5" stroke-linejoin="round"/>
<path d="M333.32,613.06 L333.33,613.04 L333.35,612.98 L333.38,612.88 L333.43,612.74 L333.49,612.57 L333.56,612.37 L333.65,612.13 L333.75,611.86 L333.87,611.56 L334.00,611.23 L334.14,610.87 L334.30,610.49 L334.48,610.09 L334.67,609.68 L334.87,609.24 L335.09,608.80 L335.32,608.34 L330.80,607.13 L330.65,607.61 L330.54,608.09 L330.46,608.55 L330.41,609.01 L330.40,609.45 L330.41,609.88 L330.46,610.29 L330.54,610.67 L330.65,611.03 L330.78,611.37 L330.94,611.67 L331.13,611.94 L331.34,612.19 L331.56,612.39 L331.81,612.56 L332.06,612.70 L332.34,612.79 Z" fill="#2f6e1a" stroke="#2f6e1a" stroke-width="0.5" stroke-linejoin="round"/>
<path d="M323.95,609.44 L323.66,609.64 L323.37,609.80 L323.07,609.92 L322.77,610.00 L322.47,610.04 L322.18,610.04 L321.89,610.01 L321.78,609.97 L320.65,609.67 L320.81,609.72 L320.82,609.68 L320.83,609.60 L320.85,609.49 L320.88,609.34 L320.92,609.15 L320.96,608.92 L321.00,608.66 Z" fill="#4f9f30" stroke="#4f9f30" stroke-width="0.5" stroke-linejoin="round"/>
<path d="M331.51,598.51 L332.06,598.71 L332.59,598.95 L333.10,599.23 L333.59,599.53 L334.07,599.88 L334.52,600.25 L334.94,600.65 L335.34,601.08 L335.71,601.54 L336.05,602.02 L336.35,602.51 L336.63,603.03 L336.87,603.56 L337.08,604.10 L337.26,604.65 L337.40,605.20 L337.51,605.76 L337.58,606.31 L337.63,606.86 L337.63,607.41 L337.61,607.94 L337.56,608.46 L337.47,608.97 L337.36,609.46 L337.22,609.92 L337.05,610.36 L336.87,610.78 L336.66,611.17 L336.43,611.53 L336.18,611.85 L335.92,612.14 L335.64,612.40 L335.36,612.62 L335.07,612.80 L334.77,612.94 L334.47,613.04 L334.17,613.10 L333.88,613.13 L333.59,613.11 L333.32,613.06 L332.34,612.79 L332.35,612.78 L332.36,612.72 L332.38,612.62 L332.41,612.49 L332.44,612.32 L332.48,612.11 L332.52,611.86 L332.57,611.58 L332.62,611.26 L332.67,610.91 L332.72,610.54 L332.77,610.13 L332.82,609.70 L332.86,609.25 L332.90,608.77 L332.93,608.28 L332.96,607.77 L332.98,607.24 L333.00,606.71 L333.00,606.17 L332.99,605.63 L332.97,605.08 L332.94,604.54 L332.90,604.00 L332.85,603.47 L332.78,602.95 L332.69,602.44 L332.60,601.95 L332.49,601.48 L332.36,601.03 L332.22,600.61 L332.06,600.21 L331.89,599.84 L331.71,599.50 L331.51,599.19 L331.30,598.92 L331.07,598.68 L330.83,598.48 L330.58,598.32 L330.31,598.19 Z" fill="#4f9f30" stroke="#4f9f30" stroke-width="0.5" stroke-linejoin="round"/>
<path d="M314.14,507.62 L314.99,508.10 L316.08,508.71 L317.38,509.43 L318.83,510.24 L320.40,511.12 L322.05,512.04 L323.73,512.97 L325.40,513.90 L327.03,514.79 L328.57,515.64 L330.12,516.48 L331.78,517.37 L333.52,518.30 L335.27,519.23 L336.99,520.15 L338.65,521.03 L340.18,521.84 L341.55,522.56 L342.70,523.17 L343.59,523.65 L346.41,518.35 L345.51,517.87 L344.36,517.26 L342.99,516.54 L341.46,515.73 L339.81,514.85 L338.09,513.94 L336.34,513.01 L334.62,512.08 L332.97,511.20 L331.43,510.36 L329.91,509.53 L328.30,508.65 L326.64,507.72 L324.96,506.79 L323.32,505.88 L321.76,505.01 L320.31,504.19 L319.01,503.47 L317.92,502.86 L317.06,502.38 Z" fill="#8cf0f2" stroke="#4fb3bb" stroke-width="0.6" stroke-linejoin="round"/>
<path d="M332.06,502.53 L333.18,502.95 L334.60,503.48 L336.29,504.11 L338.19,504.82 L340.24,505.59 L342.41,506.40 L344.62,507.21 L346.85,508.03 L349.03,508.81 L351.11,509.55 L353.24,510.29 L355.54,511.07 L357.96,511.88 L360.41,512.70 L362.84,513.50 L365.17,514.27 L367.34,514.98 L369.27,515.61 L370.90,516.15 L372.15,516.56 L373.85,511.44 L372.59,511.02 L370.95,510.48 L369.02,509.85 L366.86,509.14 L364.53,508.37 L362.11,507.57 L359.67,506.76 L357.27,505.95 L354.99,505.18 L352.89,504.45 L350.84,503.73 L348.69,502.95 L346.48,502.14 L344.28,501.33 L342.13,500.53 L340.08,499.77 L338.19,499.06 L336.50,498.42 L335.07,497.89 L333.94,497.47 Z" fill="#76dde2" stroke="#4fb3bb" stroke-width="0.6" stroke-linejoin="round"/>
<path d="M327.52,508.71 L328.89,509.36 L330.64,510.19 L332.72,511.17 L335.04,512.27 L337.55,513.46 L340.19,514.71 L342.89,515.99 L345.59,517.27 L348.21,518.52 L350.71,519.71 L353.25,520.92 L355.99,522.23 L358.86,523.61 L361.77,525.01 L364.65,526.39 L367.41,527.72 L369.98,528.95 L372.27,530.06 L374.20,530.99 L375.70,531.70 L378.30,526.30 L376.80,525.58 L374.87,524.65 L372.58,523.55 L370.01,522.31 L367.25,520.98 L364.37,519.60 L361.45,518.20 L358.58,516.82 L355.83,515.51 L353.29,514.29 L350.79,513.10 L348.16,511.85 L345.46,510.57 L342.76,509.29 L340.12,508.04 L337.61,506.85 L335.28,505.75 L333.21,504.77 L331.46,503.94 L330.08,503.29 Z" fill="#8cf0f2" stroke="#4fb3bb" stroke-width="0.6" stroke-linejoin="round"/>
<path d="M340.56,522.63 L341.64,523.22 L343.03,523.97 L344.66,524.84 L346.48,525.82 L348.44,526.89 L350.49,528.00 L352.57,529.16 L354.62,530.32 L356.60,531.46 L358.44,532.56 L360.28,533.71 L362.25,534.98 L364.31,536.33 L366.39,537.72 L368.44,539.11 L370.40,540.45 L372.23,541.69 L373.86,542.81 L375.24,543.76 L376.32,544.49 L379.68,539.51 L378.62,538.80 L377.25,537.86 L375.62,536.74 L373.79,535.49 L371.81,534.14 L369.74,532.74 L367.62,531.33 L365.52,529.95 L363.49,528.64 L361.56,527.44 L359.64,526.29 L357.60,525.11 L355.50,523.92 L353.38,522.75 L351.31,521.61 L349.33,520.54 L347.50,519.56 L345.87,518.69 L344.50,517.95 L343.44,517.37 Z" fill="#8cf0f2" stroke="#4fb3bb" stroke-width="0.6" stroke-linejoin="round"/>
<path d="M338.41,531.93 L339.14,532.53 L340.06,533.27 L341.15,534.15 L342.36,535.13 L343.67,536.19 L345.03,537.30 L346.42,538.45 L347.78,539.61 L349.09,540.75 L350.31,541.84 L351.53,542.98 L352.85,544.25 L354.22,545.60 L355.60,546.99 L356.97,548.38 L358.27,549.71 L359.49,550.96 L360.58,552.08 L361.50,553.03 L362.22,553.76 L365.78,550.24 L365.07,549.53 L364.16,548.59 L363.07,547.48 L361.85,546.22 L360.53,544.87 L359.15,543.47 L357.74,542.06 L356.34,540.67 L354.98,539.36 L353.69,538.16 L352.40,537.00 L351.04,535.81 L349.63,534.62 L348.22,533.45 L346.83,532.31 L345.51,531.24 L344.29,530.26 L343.20,529.38 L342.29,528.65 L341.59,528.07 Z" fill="#76dde2" stroke="#4fb3bb" stroke-width="0.6" stroke-linejoin="round"/>
<path d="M344.00,502.00 C345.33,501.33 349.00,498.33 352.00,498.00 C355.00,497.67 358.67,499.17 362.00,500.00 C365.33,500.83 370.33,502.50 372.00,503.00" fill="none" stroke="#4fb3bb" stroke-width="1.6" stroke-linecap="round" stroke-linejoin="round" opacity="1"/>
<path d="M292.72,528.73 L294.08,529.61 L295.82,530.74 L297.89,532.08 L300.21,533.59 L302.72,535.21 L305.35,536.91 L308.03,538.64 L310.71,540.36 L313.31,542.01 L315.77,543.56 L318.26,545.11 L320.92,546.75 L323.70,548.44 L326.50,550.15 L329.26,551.82 L331.91,553.42 L334.36,554.90 L336.55,556.21 L338.40,557.33 L339.82,558.19 L344.18,551.01 L342.74,550.14 L340.89,549.02 L338.70,547.70 L336.25,546.22 L333.61,544.63 L330.86,542.96 L328.07,541.27 L325.32,539.59 L322.68,537.96 L320.23,536.44 L317.80,534.91 L315.23,533.28 L312.57,531.57 L309.90,529.85 L307.28,528.16 L304.78,526.54 L302.47,525.04 L300.40,523.69 L298.65,522.56 L297.28,521.67 Z" fill="#7ddf4b" stroke="#5cb834" stroke-width="0.6" stroke-linejoin="round"/>
<path d="M301.44,563.94 L302.52,564.19 L303.90,564.48 L305.50,564.81 L307.29,565.19 L309.20,565.60 L311.21,566.06 L313.26,566.57 L315.30,567.12 L317.28,567.71 L319.14,568.35 L321.06,569.10 L323.18,570.00 L325.43,571.02 L327.74,572.11 L330.02,573.23 L332.23,574.32 L334.28,575.35 L336.13,576.28 L337.70,577.06 L338.91,577.65 L341.09,573.15 L339.91,572.58 L338.37,571.81 L336.53,570.88 L334.46,569.84 L332.23,568.74 L329.90,567.60 L327.53,566.49 L325.20,565.43 L322.96,564.47 L320.86,563.65 L318.80,562.95 L316.67,562.31 L314.51,561.73 L312.37,561.20 L310.30,560.72 L308.33,560.30 L306.52,559.92 L304.93,559.59 L303.60,559.30 L302.56,559.06 Z" fill="#6cc83e" stroke="#5cb834" stroke-width="0.6" stroke-linejoin="round"/>
<path d="M295.53,513.74 L296.84,514.09 L298.52,514.55 L300.51,515.10 L302.74,515.70 L305.15,516.36 L307.67,517.05 L310.23,517.75 L312.77,518.44 L315.23,519.11 L317.53,519.74 L319.83,520.36 L322.28,521.03 L324.82,521.73 L327.38,522.42 L329.90,523.11 L332.31,523.77 L334.54,524.38 L336.53,524.92 L338.22,525.38 L339.53,525.74 L340.47,522.26 L339.16,521.91 L337.48,521.45 L335.49,520.90 L333.26,520.30 L330.85,519.64 L328.33,518.95 L325.77,518.25 L323.23,517.56 L320.77,516.89 L318.47,516.26 L316.17,515.64 L313.72,514.97 L311.18,514.27 L308.62,513.58 L306.10,512.89 L303.69,512.23 L301.46,511.62 L299.47,511.08 L297.78,510.62 L296.47,510.26 Z" fill="#7ddf4b" stroke="#5cb834" stroke-width="0.6" stroke-linejoin="round"/>
<path d="M340.60,557.25 L341.22,557.58 L342.02,557.99 L342.96,558.47 L344.00,559.01 L345.11,559.58 L346.25,560.19 L347.39,560.80 L348.49,561.41 L349.51,561.99 L350.39,562.53 L351.23,563.09 L349.74,564.78 L360.00,566.00 L356.10,556.43 L354.60,558.12 L353.61,557.47 L352.57,556.83 L351.44,556.18 L350.27,555.53 L349.07,554.89 L347.89,554.27 L346.75,553.68 L345.70,553.13 L344.76,552.66 L343.99,552.26 L343.40,551.95 Z" fill="#7ddf4b" stroke="#5cb834" stroke-width="0.6" stroke-linejoin="round"/>
<path d="M312.94,468.98 L313.02,469.13 L313.17,469.29 L313.37,469.45 L313.64,469.62 L313.95,469.78 L314.33,469.95 L314.75,470.11 L315.23,470.28 L315.75,470.45 L316.32,470.63 L316.93,470.80 L317.57,470.98 L318.24,471.16 L318.95,471.34 L319.68,471.52 L320.42,471.70 L321.18,471.88 L321.96,472.07 L322.73,472.26 L323.51,472.45 L324.29,472.63 L325.05,472.83 L325.80,473.02 L326.54,473.21 L327.25,473.40 L327.93,473.60 L328.58,473.79 L329.20,473.98 L329.78,474.18 L330.31,474.37 L330.80,474.57 L331.24,474.76 L331.63,474.95 L331.97,475.15 L332.24,475.34 L332.47,475.53 L332.63,475.72 L332.73,475.91 L332.77,476.10 L332.74,476.65 L332.77,475.08 L332.79,474.79 L332.76,474.14 L332.67,473.48 L332.52,472.83 L332.31,472.19 L332.04,471.56 L331.72,470.95 L331.34,470.35 L330.90,469.77 L330.42,469.21 L329.89,468.68 L329.32,468.17 L328.71,467.69 L328.06,467.24 L327.39,466.82 L326.68,466.44 L325.95,466.09 L325.20,465.78 L324.44,465.50 L323.66,465.26 L322.89,465.06 L322.11,464.90 L321.33,464.77 L320.57,464.68 L319.82,464.63 L319.09,464.62 L318.38,464.64 L317.70,464.69 L317.05,464.78 L316.44,464.90 L315.87,465.05 L315.34,465.23 L314.85,465.43 L314.42,465.65 L314.04,465.90 L313.71,466.16 L313.44,466.44 L313.22,466.73 L313.07,467.03 L312.97,467.34 Z" fill="#5cb834" stroke="#5cb834" stroke-width="0.5" stroke-linejoin="round"/>
<path d="M312.64,482.70 L312.70,482.86 L312.83,483.02 L313.02,483.18 L313.26,483.34 L313.57,483.50 L313.92,483.67 L314.34,483.83 L314.80,484.00 L315.31,484.17 L315.86,484.34 L316.46,484.52 L317.09,484.69 L317.76,484.87 L318.45,485.05 L319.17,485.23 L319.91,485.41 L320.67,485.60 L321.44,485.78 L322.22,485.97 L323.00,486.16 L323.77,486.35 L324.54,486.54 L325.30,486.73 L326.04,486.92 L326.75,487.11 L327.45,487.31 L328.11,487.50 L328.74,487.69 L329.33,487.89 L329.87,488.08 L330.38,488.28 L330.83,488.47 L331.23,488.66 L331.59,488.86 L331.88,489.05 L332.12,489.24 L332.30,489.43 L332.41,489.62 L332.47,489.81 L332.46,490.23 L332.49,488.80 L332.50,488.37 L332.45,487.72 L332.35,487.06 L332.18,486.42 L331.95,485.78 L331.66,485.15 L331.32,484.54 L330.93,483.95 L330.48,483.37 L329.98,482.82 L329.44,482.29 L328.86,481.79 L328.24,481.32 L327.58,480.88 L326.89,480.48 L326.18,480.10 L325.44,479.76 L324.69,479.46 L323.92,479.19 L323.15,478.97 L322.37,478.78 L321.59,478.62 L320.82,478.51 L320.06,478.43 L319.32,478.39 L318.59,478.39 L317.89,478.42 L317.22,478.48 L316.58,478.58 L315.98,478.71 L315.42,478.87 L314.90,479.05 L314.43,479.26 L314.01,479.49 L313.65,479.74 L313.33,480.01 L313.08,480.29 L312.88,480.59 L312.75,480.89 L312.67,481.20 Z" fill="#5cb834" stroke="#5cb834" stroke-width="0.5" stroke-linejoin="round"/>
<path d="M312.34,496.42 L312.39,496.58 L312.50,496.74 L312.67,496.90 L312.90,497.06 L313.18,497.22 L313.52,497.39 L313.92,497.55 L314.37,497.72 L314.86,497.89 L315.41,498.06 L315.99,498.24 L316.61,498.41 L317.27,498.59 L317.96,498.77 L318.67,498.95 L319.41,499.13 L320.16,499.31 L320.93,499.50 L321.70,499.68 L322.48,499.87 L323.26,500.06 L324.03,500.25 L324.79,500.44 L325.53,500.63 L326.26,500.83 L326.96,501.02 L327.63,501.21 L328.27,501.41 L328.87,501.60 L329.43,501.80 L329.95,501.99 L330.41,502.18 L330.83,502.38 L331.20,502.57 L331.51,502.76 L331.76,502.95 L331.96,503.14 L332.10,503.33 L332.17,503.52 L332.18,503.81 L332.21,502.51 L332.20,501.95 L332.14,501.29 L332.01,500.64 L331.83,500.00 L331.58,499.36 L331.28,498.74 L330.92,498.13 L330.51,497.55 L330.05,496.98 L329.54,496.43 L328.99,495.91 L328.39,495.42 L327.76,494.96 L327.10,494.53 L326.40,494.13 L325.68,493.77 L324.94,493.44 L324.18,493.15 L323.41,492.89 L322.63,492.67 L321.85,492.50 L321.08,492.35 L320.31,492.25 L319.55,492.18 L318.81,492.15 L318.10,492.16 L317.40,492.20 L316.74,492.28 L316.11,492.38 L315.52,492.52 L314.97,492.68 L314.47,492.88 L314.01,493.09 L313.61,493.33 L313.26,493.58 L312.96,493.86 L312.73,494.14 L312.55,494.44 L312.43,494.75 L312.37,495.06 Z" fill="#5cb834" stroke="#5cb834" stroke-width="0.5" stroke-linejoin="round"/>
<path d="M312.05,510.14 L312.08,510.30 L312.17,510.46 L312.32,510.62 L312.53,510.78 L312.80,510.94 L313.13,511.11 L313.51,511.27 L313.94,511.44 L314.43,511.61 L314.95,511.78 L315.53,511.95 L316.14,512.13 L316.79,512.31 L317.46,512.48 L318.17,512.66 L318.90,512.84 L319.65,513.03 L320.41,513.21 L321.19,513.40 L321.97,513.59 L322.74,513.77 L323.52,513.96 L324.28,514.15 L325.03,514.35 L325.76,514.54 L326.47,514.73 L327.15,514.92 L327.80,515.12 L328.41,515.31 L328.98,515.51 L329.51,515.70 L329.99,515.90 L330.43,516.09 L330.81,516.28 L331.14,516.47 L331.41,516.67 L331.62,516.86 L331.77,517.05 L331.87,517.24 L331.90,517.42 L331.86,518.04 L331.89,516.41 L331.92,516.18 L331.90,515.53 L331.82,514.87 L331.68,514.22 L331.47,513.58 L331.21,512.95 L330.89,512.33 L330.52,511.73 L330.09,511.15 L329.62,510.59 L329.10,510.05 L328.53,509.54 L327.92,509.05 L327.28,508.60 L326.61,508.18 L325.90,507.79 L325.18,507.44 L324.43,507.12 L323.67,506.84 L322.89,506.59 L322.12,506.39 L321.34,506.22 L320.56,506.09 L319.80,506.00 L319.05,505.94 L318.31,505.92 L317.60,505.94 L316.92,505.99 L316.27,506.07 L315.65,506.19 L315.07,506.33 L314.53,506.50 L314.04,506.70 L313.60,506.93 L313.21,507.17 L312.88,507.43 L312.60,507.71 L312.38,508.00 L312.22,508.30 L312.11,508.61 L312.07,508.92 Z" fill="#5cb834" stroke="#5cb834" stroke-width="0.5" stroke-linejoin="round"/>
<path d="M311.77,524.02 L311.85,524.18 L311.98,524.34 L312.18,524.50 L312.43,524.66 L312.74,524.83 L313.11,524.99 L313.52,525.16 L313.99,525.33 L314.51,525.50 L315.07,525.67 L315.67,525.85 L316.30,526.02 L316.97,526.20 L317.67,526.38 L318.40,526.56 L319.14,526.74 L319.90,526.93 L320.67,527.11 L321.45,527.30 L322.23,527.49 L323.00,527.68 L323.77,527.87 L324.53,528.06 L325.26,528.25 L325.98,528.44 L326.66,528.64 L327.32,528.83 L327.95,529.02 L328.53,529.22 L329.07,529.41 L329.57,529.61 L330.02,529.80 L330.41,529.99 L330.76,530.19 L331.04,530.38 L331.27,530.57 L331.45,530.76 L331.56,530.95 L331.61,531.14 L331.59,531.62 L331.62,530.13 L331.63,529.76 L331.59,529.11 L331.49,528.45 L331.33,527.80 L331.11,527.16 L330.83,526.54 L330.50,525.92 L330.11,525.33 L329.67,524.75 L329.18,524.20 L328.65,523.67 L328.07,523.16 L327.45,522.69 L326.80,522.24 L326.12,521.83 L325.40,521.45 L324.67,521.11 L323.92,520.80 L323.15,520.53 L322.38,520.30 L321.60,520.10 L320.82,519.95 L320.05,519.83 L319.29,519.74 L318.54,519.70 L317.81,519.69 L317.11,519.72 L316.44,519.78 L315.79,519.87 L315.19,519.99 L314.62,520.15 L314.10,520.33 L313.62,520.53 L313.19,520.76 L312.82,521.01 L312.50,521.28 L312.24,521.56 L312.03,521.85 L311.89,522.15 L311.81,522.46 Z" fill="#5cb834" stroke="#5cb834" stroke-width="0.5" stroke-linejoin="round"/>
<path d="M311.47,537.75 L311.53,537.90 L311.65,538.06 L311.82,538.22 L312.06,538.38 L312.35,538.55 L312.70,538.71 L313.11,538.88 L313.56,539.05 L314.06,539.22 L314.61,539.39 L315.20,539.56 L315.83,539.74 L316.49,539.92 L317.18,540.09 L317.90,540.28 L318.64,540.46 L319.39,540.64 L320.16,540.83 L320.93,541.01 L321.71,541.20 L322.49,541.39 L323.26,541.58 L324.02,541.77 L324.76,541.96 L325.48,542.16 L326.18,542.35 L326.85,542.54 L327.48,542.74 L328.07,542.93 L328.63,543.12 L329.14,543.32 L329.60,543.51 L330.01,543.71 L330.37,543.90 L330.68,544.09 L330.92,544.28 L331.11,544.47 L331.24,544.66 L331.31,544.85 L331.31,545.20 L331.34,543.84 L331.34,543.34 L331.28,542.68 L331.16,542.03 L330.99,541.39 L330.75,540.75 L330.45,540.13 L330.10,539.52 L329.70,538.93 L329.24,538.36 L328.74,537.81 L328.19,537.29 L327.60,536.79 L326.98,536.32 L326.31,535.89 L325.62,535.49 L324.90,535.12 L324.17,534.78 L323.41,534.49 L322.64,534.23 L321.86,534.01 L321.09,533.82 L320.31,533.67 L319.54,533.57 L318.78,533.49 L318.04,533.46 L317.32,533.46 L316.62,533.50 L315.96,533.57 L315.32,533.67 L314.73,533.80 L314.17,533.97 L313.66,534.15 L313.20,534.37 L312.79,534.60 L312.43,534.85 L312.13,535.12 L311.88,535.41 L311.70,535.71 L311.57,536.01 L311.50,536.32 Z" fill="#5cb834" stroke="#5cb834" stroke-width="0.5" stroke-linejoin="round"/>
<path d="M311.18,551.47 L311.22,551.63 L311.32,551.78 L311.48,551.94 L311.70,552.11 L311.97,552.27 L312.31,552.43 L312.69,552.60 L313.13,552.77 L313.62,552.94 L314.16,553.11 L314.73,553.28 L315.35,553.46 L316.00,553.63 L316.69,553.81 L317.40,553.99 L318.13,554.17 L318.88,554.36 L319.65,554.54 L320.42,554.73 L321.20,554.91 L321.98,555.10 L322.75,555.29 L323.51,555.48 L324.26,555.68 L324.99,555.87 L325.69,556.06 L326.37,556.25 L327.01,556.45 L327.62,556.64 L328.18,556.84 L328.71,557.03 L329.18,557.22 L329.61,557.42 L329.99,557.61 L330.31,557.80 L330.57,558.00 L330.77,558.19 L330.92,558.38 L331.00,558.57 L331.03,558.77 L331.05,557.55 L331.04,556.92 L330.96,556.26 L330.83,555.61 L330.63,554.97 L330.38,554.34 L330.07,553.72 L329.70,553.11 L329.28,552.53 L328.81,551.96 L328.30,551.42 L327.74,550.91 L327.14,550.42 L326.50,549.96 L325.83,549.54 L325.13,549.14 L324.40,548.79 L323.66,548.46 L322.90,548.18 L322.13,547.93 L321.35,547.72 L320.57,547.54 L319.80,547.41 L319.03,547.31 L318.27,547.25 L317.54,547.23 L316.82,547.24 L316.14,547.28 L315.48,547.36 L314.86,547.47 L314.27,547.62 L313.73,547.79 L313.24,547.98 L312.79,548.20 L312.39,548.44 L312.05,548.70 L311.76,548.97 L311.53,549.26 L311.36,549.56 L311.25,549.87 L311.21,550.18 Z" fill="#5cb834" stroke="#5cb834" stroke-width="0.5" stroke-linejoin="round"/>
<path d="M322.86,471.80 L322.07,471.93 L321.29,472.03 L320.52,472.09 L319.77,472.12 L319.04,472.11 L318.33,472.06 L317.64,471.98 L316.99,471.87 L316.38,471.73 L315.81,471.56 L315.28,471.37 L314.80,471.15 L314.37,470.91 L313.99,470.65 L313.66,470.37 L313.39,470.09 L313.18,469.79 L313.03,469.48 L312.95,469.17 L312.92,468.85 L312.94,468.98 L312.97,467.34 L312.94,467.62 L312.98,467.47 L313.08,467.31 L313.24,467.16 L313.46,467.01 L313.74,466.86 L314.07,466.71 L314.46,466.56 L314.90,466.41 L315.39,466.26 L315.92,466.11 L316.50,465.96 L317.12,465.81 L317.78,465.66 L318.46,465.51 L319.18,465.36 L319.92,465.21 L320.67,465.06 L321.44,464.91 L322.22,464.75 L323.01,464.60 Z" fill="#7ddf4b" stroke="#7ddf4b" stroke-width="0.5" stroke-linejoin="round"/>
<path d="M332.74,476.65 L332.65,477.30 L332.49,477.95 L332.28,478.58 L332.01,479.21 L331.68,479.82 L331.30,480.41 L330.87,480.98 L330.38,481.53 L329.85,482.05 L329.28,482.55 L328.66,483.01 L328.01,483.45 L327.33,483.85 L326.62,484.22 L325.88,484.55 L325.13,484.85 L324.36,485.11 L323.58,485.34 L322.79,485.52 L322.01,485.67 L321.23,485.78 L320.46,485.85 L319.70,485.88 L318.96,485.88 L318.24,485.85 L317.55,485.78 L316.89,485.67 L316.27,485.54 L315.68,485.38 L315.14,485.19 L314.64,484.98 L314.20,484.75 L313.80,484.49 L313.46,484.22 L313.18,483.94 L312.95,483.64 L312.78,483.34 L312.68,483.03 L312.63,482.71 L312.64,482.70 L312.67,481.20 L312.66,481.34 L312.71,481.19 L312.83,481.04 L313.01,480.88 L313.24,480.73 L313.54,480.58 L313.89,480.43 L314.29,480.28 L314.75,480.13 L315.25,479.98 L315.80,479.83 L316.39,479.68 L317.02,479.54 L317.68,479.39 L318.38,479.24 L319.10,479.09 L319.84,478.94 L320.60,478.78 L321.38,478.63 L322.16,478.48 L322.95,478.32 L323.73,478.17 L324.51,478.01 L325.28,477.85 L326.03,477.69 L326.76,477.53 L327.47,477.37 L328.14,477.20 L328.79,477.03 L329.40,476.86 L329.97,476.69 L330.49,476.52 L330.96,476.35 L331.39,476.17 L331.76,475.99 L332.08,475.82 L332.34,475.63 L332.55,475.45 L332.69,475.27 L332.77,475.08 Z" fill="#7ddf4b" stroke="#7ddf4b" stroke-width="0.5" stroke-linejoin="round"/>
<path d="M332.46,490.23 L332.39,490.88 L332.25,491.53 L332.06,492.17 L331.81,492.80 L331.49,493.41 L331.13,494.01 L330.71,494.58 L330.24,495.14 L329.72,495.67 L329.16,496.17 L328.56,496.65 L327.92,497.09 L327.24,497.51 L326.54,497.89 L325.81,498.23 L325.06,498.54 L324.29,498.81 L323.52,499.04 L322.73,499.24 L321.95,499.40 L321.16,499.52 L320.39,499.60 L319.63,499.64 L318.88,499.65 L318.15,499.63 L317.46,499.57 L316.79,499.48 L316.15,499.35 L315.56,499.20 L315.00,499.02 L314.49,498.81 L314.03,498.59 L313.62,498.34 L313.26,498.07 L312.96,497.79 L312.72,497.50 L312.53,497.19 L312.41,496.89 L312.35,496.57 L312.34,496.42 L312.37,495.06 L312.38,495.07 L312.45,494.91 L312.59,494.76 L312.78,494.61 L313.03,494.46 L313.34,494.30 L313.71,494.15 L314.13,494.01 L314.60,493.86 L315.11,493.71 L315.68,493.56 L316.28,493.41 L316.92,493.26 L317.59,493.11 L318.29,492.96 L319.02,492.81 L319.77,492.66 L320.54,492.51 L321.31,492.36 L322.10,492.20 L322.88,492.05 L323.67,491.89 L324.44,491.73 L325.21,491.57 L325.95,491.41 L326.68,491.25 L327.38,491.09 L328.05,490.92 L328.68,490.75 L329.28,490.58 L329.83,490.41 L330.34,490.24 L330.80,490.07 L331.21,489.89 L331.57,489.71 L331.87,489.53 L332.12,489.35 L332.30,489.17 L332.43,488.98 L332.49,488.80 Z" fill="#7ddf4b" stroke="#7ddf4b" stroke-width="0.5" stroke-linejoin="round"/>
<path d="M332.18,503.81 L332.13,504.46 L332.01,505.11 L331.83,505.75 L331.59,506.38 L331.30,507.00 L330.95,507.60 L330.55,508.19 L330.09,508.75 L329.59,509.29 L329.04,509.80 L328.45,510.28 L327.81,510.74 L327.15,511.16 L326.45,511.55 L325.73,511.90 L324.99,512.22 L324.23,512.50 L323.45,512.75 L322.67,512.95 L321.88,513.12 L321.10,513.25 L320.32,513.35 L319.56,513.40 L318.80,513.42 L318.07,513.41 L317.37,513.36 L316.69,513.27 L316.04,513.16 L315.44,513.01 L314.87,512.84 L314.35,512.64 L313.87,512.42 L313.44,512.18 L313.07,511.92 L312.75,511.64 L312.49,511.35 L312.29,511.05 L312.15,510.74 L312.07,510.43 L312.05,510.14 L312.07,508.92 L312.10,508.79 L312.19,508.64 L312.35,508.48 L312.56,508.33 L312.83,508.18 L313.15,508.03 L313.54,507.88 L313.97,507.73 L314.45,507.58 L314.98,507.43 L315.56,507.28 L316.17,507.13 L316.82,506.99 L317.50,506.84 L318.21,506.69 L318.95,506.54 L319.70,506.38 L320.47,506.23 L321.25,506.08 L322.04,505.92 L322.82,505.77 L323.60,505.61 L324.38,505.45 L325.13,505.29 L325.88,505.13 L326.59,504.97 L327.28,504.81 L327.94,504.64 L328.57,504.47 L329.15,504.30 L329.69,504.13 L330.19,503.96 L330.64,503.78 L331.03,503.61 L331.38,503.43 L331.66,503.25 L331.89,503.07 L332.06,502.88 L332.16,502.70 L332.21,502.51 Z" fill="#7ddf4b" stroke="#7ddf4b" stroke-width="0.5" stroke-linejoin="round"/>
<path d="M331.86,518.04 L331.76,518.69 L331.60,519.34 L331.38,519.97 L331.10,520.59 L330.77,521.20 L330.38,521.79 L329.94,522.36 L329.45,522.90 L328.91,523.42 L328.33,523.91 L327.71,524.38 L327.06,524.81 L326.37,525.21 L325.65,525.57 L324.92,525.90 L324.16,526.19 L323.39,526.45 L322.61,526.67 L321.82,526.85 L321.04,526.99 L320.26,527.09 L319.49,527.16 L318.73,527.19 L317.99,527.18 L317.28,527.14 L316.59,527.07 L315.94,526.96 L315.32,526.83 L314.74,526.66 L314.20,526.47 L313.71,526.26 L313.27,526.02 L312.88,525.76 L312.55,525.49 L312.27,525.21 L312.05,524.91 L311.90,524.60 L311.80,524.29 L311.76,523.98 L311.77,524.02 L311.81,522.46 L311.79,522.67 L311.83,522.51 L311.94,522.36 L312.11,522.21 L312.34,522.05 L312.63,521.90 L312.97,521.75 L313.37,521.60 L313.81,521.45 L314.31,521.31 L314.85,521.16 L315.44,521.01 L316.06,520.86 L316.72,520.71 L317.42,520.56 L318.13,520.41 L318.88,520.26 L319.63,520.11 L320.41,519.96 L321.19,519.80 L321.97,519.65 L322.76,519.49 L323.54,519.33 L324.31,519.18 L325.06,519.02 L325.80,518.85 L326.51,518.69 L327.19,518.53 L327.84,518.36 L328.45,518.19 L329.02,518.02 L329.55,517.85 L330.04,517.67 L330.47,517.50 L330.85,517.32 L331.17,517.14 L331.44,516.96 L331.65,516.78 L331.80,516.60 L331.89,516.41 Z" fill="#7ddf4b" stroke="#7ddf4b" stroke-width="0.5" stroke-linejoin="round"/>
<path d="M331.59,531.62 L331.51,532.27 L331.36,532.92 L331.16,533.56 L330.90,534.18 L330.58,534.79 L330.21,535.39 L329.78,535.96 L329.30,536.51 L328.78,537.04 L328.21,537.54 L327.60,538.01 L326.96,538.45 L326.28,538.86 L325.57,539.24 L324.84,539.58 L324.09,539.88 L323.32,540.15 L322.55,540.37 L321.76,540.57 L320.97,540.72 L320.19,540.83 L319.42,540.91 L318.66,540.95 L317.91,540.96 L317.19,540.93 L316.50,540.86 L315.83,540.77 L315.20,540.64 L314.61,540.48 L314.06,540.30 L313.56,540.09 L313.11,539.86 L312.70,539.61 L312.35,539.34 L312.06,539.06 L311.82,538.76 L311.65,538.46 L311.53,538.15 L311.47,537.84 L311.47,537.75 L311.50,536.32 L311.50,536.39 L311.57,536.24 L311.70,536.08 L311.88,535.93 L312.13,535.78 L312.43,535.63 L312.79,535.48 L313.20,535.33 L313.66,535.18 L314.17,535.03 L314.73,534.88 L315.33,534.73 L315.96,534.58 L316.63,534.44 L317.33,534.29 L318.06,534.14 L318.80,533.98 L319.57,533.83 L320.34,533.68 L321.13,533.53 L321.91,533.37 L322.70,533.21 L323.47,533.06 L324.24,532.90 L324.99,532.74 L325.71,532.58 L326.42,532.41 L327.09,532.25 L327.73,532.08 L328.33,531.91 L328.89,531.74 L329.41,531.57 L329.88,531.39 L330.29,531.22 L330.66,531.04 L330.97,530.86 L331.22,530.68 L331.41,530.50 L331.55,530.31 L331.62,530.13 Z" fill="#7ddf4b" stroke="#7ddf4b" stroke-width="0.5" stroke-linejoin="round"/>
<path d="M331.31,545.20 L331.25,545.85 L331.12,546.50 L330.93,547.14 L330.69,547.77 L330.39,548.39 L330.03,548.99 L329.62,549.57 L329.16,550.12 L328.65,550.66 L328.09,551.17 L327.50,551.65 L326.86,552.10 L326.19,552.52 L325.49,552.90 L324.77,553.25 L324.02,553.56 L323.26,553.84 L322.48,554.08 L321.70,554.28 L320.91,554.45 L320.13,554.57 L319.35,554.66 L318.59,554.71 L317.84,554.73 L317.11,554.71 L316.41,554.65 L315.73,554.57 L315.09,554.45 L314.49,554.30 L313.93,554.12 L313.41,553.92 L312.94,553.70 L312.52,553.45 L312.16,553.19 L311.85,552.91 L311.59,552.62 L311.40,552.32 L311.27,552.01 L311.19,551.69 L311.18,551.47 L311.21,550.18 L311.23,550.11 L311.31,549.96 L311.45,549.81 L311.66,549.65 L311.92,549.50 L312.24,549.35 L312.61,549.20 L313.04,549.05 L313.52,548.90 L314.04,548.76 L314.61,548.61 L315.22,548.46 L315.86,548.31 L316.54,548.16 L317.25,548.01 L317.98,547.86 L318.73,547.71 L319.50,547.56 L320.28,547.40 L321.06,547.25 L321.85,547.09 L322.63,546.94 L323.41,546.78 L324.17,546.62 L324.91,546.46 L325.63,546.30 L326.33,546.13 L326.99,545.97 L327.62,545.80 L328.21,545.63 L328.76,545.46 L329.26,545.28 L329.71,545.11 L330.12,544.93 L330.46,544.75 L330.76,544.57 L330.99,544.39 L331.17,544.21 L331.28,544.03 L331.34,543.84 Z" fill="#7ddf4b" stroke="#7ddf4b" stroke-width="0.5" stroke-linejoin="round"/>
<path d="M331.03,558.77 L330.98,559.43 L330.87,560.08 L330.70,560.72 L330.48,561.36 L330.19,561.98 L329.85,562.58 L329.45,563.17 L329.01,563.73 L328.51,564.28 L327.97,564.79 L327.38,565.28 L326.76,565.74 L326.89,559.69 L327.50,559.52 L328.08,559.35 L328.62,559.18 L329.11,559.00 L329.55,558.83 L329.93,558.65 L330.27,558.47 L330.54,558.29 L330.76,558.11 L330.92,557.92 L331.02,557.74 L331.05,557.55 Z" fill="#7ddf4b" stroke="#7ddf4b" stroke-width="0.5" stroke-linejoin="round"/>
<path d="M333.70,471.40 C335.00,471.83 339.62,472.40 341.50,474.00 C343.38,475.60 344.75,477.83 345.00,481.00 C345.25,484.17 343.17,488.50 343.00,493.00 C342.83,497.50 343.00,503.50 344.00,508.00 C345.00,512.50 348.50,515.33 349.00,520.00 C349.50,524.67 346.83,531.33 347.00,536.00 C347.17,540.67 350.00,544.00 350.00,548.00 C350.00,552.00 346.83,555.00 347.00,560.00 C347.17,565.00 351.00,571.67 351.00,578.00 C351.00,584.33 348.58,593.17 347.00,598.00 C345.42,602.83 341.83,604.33 341.50,607.00 C341.17,609.67 344.42,612.83 345.00,614.00" fill="none" stroke="#b0279f" stroke-width="1.4" stroke-linecap="round" stroke-linejoin="round" opacity="1"/>
<path d="M352.45,481.86 L352.49,481.84 L352.56,481.77 L352.65,481.66 L352.77,481.51 L352.92,481.32 L353.09,481.09 L353.30,480.82 L353.52,480.52 L353.78,480.18 L354.06,479.82 L354.36,479.42 L354.69,479.00 L355.04,478.56 L355.41,478.10 L355.80,477.63 L356.21,477.14 L356.63,476.65 L357.07,476.15 L357.53,475.65 L357.99,475.15 L358.47,474.66 L358.95,474.18 L359.44,473.71 L359.93,473.25 L360.43,472.82 L360.92,472.41 L361.41,472.02 L361.90,471.66 L362.38,471.33 L362.85,471.04 L363.31,470.78 L363.75,470.56 L364.18,470.38 L364.60,470.24 L365.00,470.14 L365.38,470.08 L365.74,470.08 L366.07,470.11 L366.39,470.19 L366.68,470.32 L367.24,470.66 L365.89,469.91 L365.60,469.72 L364.98,469.41 L364.35,469.15 L363.69,468.94 L363.02,468.77 L362.33,468.66 L361.64,468.59 L360.94,468.57 L360.23,468.60 L359.53,468.68 L358.83,468.81 L358.14,468.98 L357.46,469.19 L356.79,469.45 L356.14,469.75 L355.51,470.09 L354.90,470.46 L354.32,470.86 L353.76,471.29 L353.24,471.76 L352.75,472.24 L352.29,472.74 L351.87,473.26 L351.49,473.80 L351.15,474.34 L350.86,474.88 L350.60,475.43 L350.38,475.98 L350.21,476.52 L350.09,477.05 L350.00,477.56 L349.96,478.06 L349.96,478.54 L350.00,478.99 L350.08,479.42 L350.20,479.81 L350.36,480.17 L350.55,480.50 L350.78,480.78 L351.03,481.03 L351.32,481.23 Z" fill="#4fb3bb" stroke="#4fb3bb" stroke-width="0.5" stroke-linejoin="round"/>
<path d="M364.46,488.52 L364.51,488.49 L364.59,488.41 L364.69,488.29 L364.82,488.12 L364.98,487.92 L365.16,487.67 L365.37,487.39 L365.61,487.08 L365.87,486.73 L366.15,486.35 L366.47,485.95 L366.80,485.52 L367.16,485.08 L367.53,484.61 L367.93,484.14 L368.35,483.65 L368.78,483.15 L369.22,482.65 L369.68,482.15 L370.15,481.65 L370.63,481.17 L371.11,480.69 L371.60,480.22 L372.10,479.77 L372.59,479.35 L373.08,478.94 L373.57,478.56 L374.06,478.21 L374.53,477.90 L375.00,477.61 L375.46,477.37 L375.90,477.16 L376.33,476.99 L376.74,476.87 L377.13,476.78 L377.50,476.74 L377.85,476.75 L378.18,476.80 L378.49,476.90 L378.85,477.08 L377.72,476.45 L377.19,476.18 L376.56,475.90 L375.91,475.67 L375.24,475.49 L374.56,475.36 L373.87,475.27 L373.17,475.24 L372.47,475.25 L371.76,475.32 L371.06,475.43 L370.37,475.58 L369.68,475.78 L369.01,476.03 L368.35,476.31 L367.72,476.64 L367.10,477.00 L366.51,477.39 L365.94,477.81 L365.41,478.27 L364.91,478.74 L364.44,479.24 L364.01,479.75 L363.62,480.28 L363.26,480.82 L362.95,481.37 L362.68,481.92 L362.45,482.46 L362.27,483.01 L362.12,483.54 L362.02,484.06 L361.97,484.56 L361.95,485.05 L361.98,485.51 L362.05,485.94 L362.16,486.35 L362.30,486.72 L362.48,487.06 L362.70,487.36 L362.94,487.62 L363.22,487.84 Z" fill="#4fb3bb" stroke="#4fb3bb" stroke-width="0.5" stroke-linejoin="round"/>
<path d="M376.47,495.18 L376.53,495.13 L376.62,495.04 L376.73,494.90 L376.87,494.72 L377.03,494.50 L377.23,494.25 L377.44,493.96 L377.69,493.63 L377.96,493.27 L378.26,492.89 L378.57,492.48 L378.92,492.04 L379.28,491.59 L379.66,491.12 L380.07,490.64 L380.49,490.15 L380.92,489.65 L381.37,489.15 L381.84,488.65 L382.31,488.16 L382.79,487.67 L383.28,487.20 L383.77,486.74 L384.26,486.29 L384.76,485.87 L385.25,485.48 L385.74,485.11 L386.22,484.77 L386.69,484.47 L387.15,484.19 L387.60,483.96 L388.04,483.77 L388.46,483.61 L388.87,483.50 L389.25,483.43 L389.62,483.41 L389.96,483.43 L390.28,483.49 L390.58,483.60 L391.05,483.87 L389.81,483.18 L389.40,482.95 L388.77,482.65 L388.13,482.41 L387.47,482.21 L386.79,482.06 L386.10,481.96 L385.40,481.91 L384.70,481.91 L384.00,481.96 L383.30,482.05 L382.60,482.19 L381.91,482.38 L381.23,482.61 L380.57,482.88 L379.93,483.19 L379.30,483.54 L378.70,483.92 L378.13,484.34 L377.58,484.78 L377.07,485.25 L376.59,485.74 L376.15,486.25 L375.74,486.77 L375.38,487.31 L375.05,487.85 L374.77,488.40 L374.52,488.95 L374.32,489.49 L374.17,490.03 L374.05,490.55 L373.98,491.06 L373.95,491.56 L373.97,492.03 L374.02,492.47 L374.12,492.88 L374.25,493.27 L374.42,493.62 L374.62,493.93 L374.86,494.20 L375.12,494.43 Z" fill="#4fb3bb" stroke="#4fb3bb" stroke-width="0.5" stroke-linejoin="round"/>
<path d="M357.65,479.69 L357.29,480.14 L356.91,480.55 L356.52,480.91 L356.13,481.23 L355.72,481.51 L355.32,481.74 L354.91,481.92 L354.51,482.05 L354.12,482.13 L353.73,482.16 L353.36,482.15 L353.01,482.08 L352.68,481.97 L352.45,481.86 L351.32,481.23 L351.38,481.25 L351.39,481.18 L351.42,481.07 L351.48,480.91 L351.55,480.71 L351.64,480.46 L351.76,480.17 L351.89,479.83 L352.03,479.46 L352.19,479.05 L352.36,478.60 L352.54,478.12 L352.72,477.60 L352.92,477.06 Z" fill="#76dde2" stroke="#76dde2" stroke-width="0.5" stroke-linejoin="round"/>
<path d="M367.24,470.66 L367.80,471.05 L368.34,471.49 L368.84,471.97 L369.30,472.48 L369.73,473.03 L370.13,473.61 L370.48,474.22 L370.79,474.86 L371.06,475.51 L371.29,476.19 L371.47,476.88 L371.61,477.58 L371.71,478.29 L371.76,479.00 L371.78,479.72 L371.75,480.43 L371.68,481.13 L371.57,481.82 L371.42,482.49 L371.24,483.15 L371.03,483.78 L370.78,484.39 L370.50,484.97 L370.20,485.52 L369.88,486.03 L369.53,486.51 L369.16,486.95 L368.78,487.34 L368.39,487.69 L367.99,488.00 L367.59,488.26 L367.18,488.47 L366.78,488.63 L366.38,488.75 L365.99,488.81 L365.61,488.83 L365.24,488.80 L364.90,488.72 L364.57,488.59 L364.46,488.52 L363.22,487.84 L363.39,487.93 L363.39,487.88 L363.41,487.78 L363.45,487.63 L363.52,487.44 L363.61,487.21 L363.72,486.93 L363.84,486.61 L363.98,486.25 L364.14,485.86 L364.30,485.42 L364.48,484.95 L364.66,484.44 L364.85,483.91 L365.05,483.35 L365.24,482.76 L365.44,482.16 L365.63,481.53 L365.82,480.89 L366.01,480.24 L366.18,479.58 L366.35,478.92 L366.50,478.25 L366.64,477.59 L366.76,476.93 L366.86,476.28 L366.95,475.65 L367.02,475.03 L367.06,474.43 L367.08,473.85 L367.08,473.30 L367.05,472.78 L367.00,472.29 L366.92,471.83 L366.82,471.41 L366.69,471.03 L366.53,470.69 L366.34,470.38 L366.13,470.12 L365.89,469.91 Z" fill="#76dde2" stroke="#76dde2" stroke-width="0.5" stroke-linejoin="round"/>
<path d="M378.85,477.08 L379.43,477.45 L379.98,477.86 L380.51,478.31 L381.00,478.80 L381.45,479.33 L381.87,479.89 L382.25,480.48 L382.59,481.10 L382.88,481.74 L383.14,482.40 L383.35,483.08 L383.52,483.78 L383.65,484.48 L383.73,485.20 L383.77,485.91 L383.77,486.62 L383.73,487.33 L383.65,488.03 L383.53,488.71 L383.37,489.38 L383.17,490.03 L382.95,490.66 L382.69,491.25 L382.41,491.82 L382.10,492.36 L381.76,492.86 L381.41,493.33 L381.04,493.75 L380.65,494.13 L380.26,494.47 L379.86,494.76 L379.45,495.00 L379.05,495.20 L378.64,495.34 L378.25,495.44 L377.86,495.49 L377.48,495.49 L377.12,495.44 L376.78,495.35 L376.47,495.20 L376.47,495.18 L375.12,494.43 L375.39,494.61 L375.38,494.57 L375.40,494.48 L375.44,494.35 L375.50,494.18 L375.58,493.96 L375.68,493.70 L375.80,493.39 L375.93,493.05 L376.08,492.66 L376.24,492.24 L376.42,491.78 L376.60,491.28 L376.79,490.76 L376.98,490.21 L377.18,489.63 L377.37,489.03 L377.57,488.41 L377.76,487.77 L377.94,487.12 L378.12,486.47 L378.29,485.80 L378.45,485.14 L378.59,484.47 L378.72,483.81 L378.83,483.16 L378.92,482.52 L379.00,481.90 L379.05,481.29 L379.08,480.71 L379.08,480.15 L379.07,479.62 L379.02,479.12 L378.95,478.65 L378.86,478.22 L378.73,477.82 L378.58,477.46 L378.41,477.15 L378.20,476.87 L377.97,476.64 L377.72,476.45 Z" fill="#76dde2" stroke="#76dde2" stroke-width="0.5" stroke-linejoin="round"/>
<path d="M391.05,483.87 L391.62,484.25 L392.16,484.67 L392.67,485.14 L393.15,485.64 L393.59,486.18 L394.00,486.75 L394.36,487.35 L394.69,487.98 L394.97,488.63 L395.22,489.30 L395.41,489.98 L395.57,490.68 L395.68,491.39 L395.75,492.10 L395.78,492.81 L395.76,493.52 L395.71,494.23 L395.61,494.92 L395.48,495.60 L395.31,496.27 L395.10,496.91 L394.87,497.53 L394.60,498.11 L394.31,498.67 L393.99,499.20 L393.65,499.69 L388.92,497.06 L389.11,496.49 L389.31,495.90 L389.50,495.28 L389.70,494.65 L389.88,494.01 L390.06,493.35 L390.24,492.69 L390.40,492.03 L390.55,491.36 L390.68,490.70 L390.80,490.05 L390.90,489.40 L390.98,488.77 L391.03,488.16 L391.07,487.57 L391.09,487.00 L391.07,486.46 L391.04,485.95 L390.98,485.47 L390.89,485.02 L390.78,484.61 L390.64,484.24 L390.47,483.91 L390.27,483.62 L390.05,483.38 L389.81,483.18 Z" fill="#76dde2" stroke="#76dde2" stroke-width="0.5" stroke-linejoin="round"/>
<path d="M374.57,501.00 L374.61,501.18 L374.70,501.35 L374.83,501.53 L375.00,501.71 L375.22,501.89 L375.47,502.08 L375.76,502.27 L376.08,502.46 L376.44,502.65 L376.83,502.85 L377.25,503.05 L377.69,503.25 L378.16,503.45 L378.65,503.66 L379.16,503.87 L379.68,504.08 L380.21,504.29 L380.76,504.50 L381.30,504.72 L381.85,504.93 L382.40,505.15 L382.94,505.37 L383.47,505.58 L383.99,505.80 L384.49,506.02 L384.98,506.24 L385.44,506.46 L385.88,506.68 L386.30,506.89 L386.68,507.11 L387.04,507.32 L387.36,507.54 L387.64,507.75 L387.88,507.96 L388.09,508.17 L388.25,508.37 L388.38,508.58 L388.46,508.78 L388.50,508.98 L388.48,509.32 L388.56,507.98 L388.59,507.51 L388.57,506.89 L388.51,506.28 L388.41,505.67 L388.27,505.06 L388.09,504.47 L387.87,503.89 L387.60,503.32 L387.30,502.77 L386.97,502.24 L386.60,501.73 L386.20,501.24 L385.78,500.77 L385.33,500.34 L384.85,499.93 L384.35,499.55 L383.84,499.20 L383.32,498.88 L382.78,498.60 L382.24,498.35 L381.69,498.13 L381.14,497.95 L380.60,497.80 L380.06,497.68 L379.53,497.60 L379.01,497.54 L378.51,497.52 L378.03,497.54 L377.57,497.58 L377.14,497.65 L376.73,497.74 L376.35,497.86 L376.01,498.00 L375.70,498.17 L375.42,498.35 L375.19,498.55 L374.99,498.77 L374.84,499.00 L374.73,499.23 L374.66,499.48 Z" fill="#4fb3bb" stroke="#4fb3bb" stroke-width="0.5" stroke-linejoin="round"/>
<path d="M373.70,515.81 L373.75,515.98 L373.84,516.16 L373.98,516.34 L374.16,516.52 L374.38,516.70 L374.63,516.89 L374.93,517.07 L375.26,517.27 L375.62,517.46 L376.01,517.66 L376.44,517.86 L376.88,518.06 L377.36,518.26 L377.85,518.47 L378.36,518.68 L378.88,518.89 L379.42,519.10 L379.96,519.31 L380.50,519.53 L381.05,519.74 L381.60,519.96 L382.14,520.18 L382.67,520.40 L383.18,520.61 L383.69,520.83 L384.17,521.05 L384.63,521.27 L385.07,521.49 L385.48,521.70 L385.86,521.92 L386.21,522.13 L386.52,522.35 L386.80,522.56 L387.04,522.77 L387.24,522.98 L387.40,523.18 L387.52,523.39 L387.60,523.59 L387.63,523.79 L387.61,524.19 L387.69,522.79 L387.71,522.37 L387.71,521.76 L387.65,521.14 L387.56,520.53 L387.42,519.92 L387.25,519.33 L387.03,518.74 L386.77,518.18 L386.48,517.62 L386.15,517.09 L385.78,516.57 L385.39,516.08 L384.96,515.62 L384.52,515.18 L384.04,514.76 L383.55,514.38 L383.04,514.03 L382.52,513.71 L381.98,513.42 L381.44,513.16 L380.89,512.94 L380.34,512.75 L379.80,512.60 L379.26,512.48 L378.73,512.39 L378.21,512.33 L377.71,512.31 L377.22,512.32 L376.76,512.35 L376.32,512.42 L375.91,512.51 L375.53,512.63 L375.18,512.77 L374.87,512.93 L374.59,513.11 L374.35,513.31 L374.15,513.52 L373.99,513.75 L373.87,513.99 L373.79,514.23 Z" fill="#4fb3bb" stroke="#4fb3bb" stroke-width="0.5" stroke-linejoin="round"/>
<path d="M372.82,530.44 L372.83,530.61 L372.89,530.79 L372.99,530.96 L373.13,531.14 L373.30,528.28 L373.14,528.50 L373.01,528.74 L372.93,528.98 L372.89,529.23 Z" fill="#4fb3bb" stroke="#4fb3bb" stroke-width="0.5" stroke-linejoin="round"/>
<path d="M381.64,503.17 L381.07,503.30 L380.51,503.40 L379.95,503.47 L379.41,503.50 L378.89,503.51 L378.38,503.48 L377.89,503.43 L377.43,503.34 L376.99,503.24 L376.58,503.10 L376.21,502.95 L375.87,502.77 L375.56,502.58 L375.30,502.37 L375.07,502.15 L374.88,501.92 L374.74,501.67 L374.63,501.43 L374.57,501.18 L374.56,500.93 L374.57,501.00 L374.66,499.48 L374.63,499.64 L374.67,499.47 L374.76,499.31 L374.89,499.14 L375.05,498.98 L375.26,498.83 L375.51,498.67 L375.80,498.51 L376.13,498.36 L376.49,498.21 L376.88,498.06 L377.30,497.91 L377.76,497.76 L378.23,497.62 L378.73,497.47 L379.25,497.32 L379.78,497.17 L380.33,497.03 L380.89,496.88 L381.46,496.73 L382.02,496.58 Z" fill="#76dde2" stroke="#76dde2" stroke-width="0.5" stroke-linejoin="round"/>
<path d="M388.48,509.32 L388.41,509.94 L388.30,510.54 L388.14,511.14 L387.94,511.73 L387.70,512.30 L387.42,512.86 L387.10,513.39 L386.75,513.91 L386.37,514.41 L385.95,514.88 L385.51,515.33 L385.04,515.75 L384.54,516.14 L384.03,516.50 L383.50,516.82 L382.95,517.12 L382.40,517.38 L381.83,517.61 L381.26,517.81 L380.69,517.97 L380.13,518.10 L379.56,518.20 L379.01,518.26 L378.47,518.29 L377.95,518.29 L377.44,518.26 L376.96,518.20 L376.50,518.11 L376.07,518.00 L375.66,517.87 L375.29,517.71 L374.96,517.53 L374.66,517.34 L374.40,517.13 L374.17,516.90 L373.99,516.67 L373.85,516.43 L373.75,516.18 L373.70,515.93 L373.69,515.68 L373.70,515.81 L373.79,514.23 L373.76,514.44 L373.80,514.27 L373.88,514.11 L374.00,513.95 L374.16,513.79 L374.37,513.63 L374.61,513.47 L374.89,513.32 L375.21,513.16 L375.57,513.01 L375.96,512.86 L376.38,512.71 L376.83,512.57 L377.30,512.42 L377.79,512.27 L378.31,512.12 L378.84,511.98 L379.39,511.83 L379.95,511.68 L380.51,511.53 L381.08,511.38 L381.65,511.23 L382.22,511.08 L382.78,510.93 L383.33,510.77 L383.86,510.62 L384.38,510.46 L384.89,510.30 L385.37,510.13 L385.82,509.97 L386.25,509.80 L386.65,509.63 L387.01,509.46 L387.35,509.28 L387.64,509.11 L387.90,508.92 L388.11,508.74 L388.29,508.55 L388.42,508.37 L388.52,508.17 L388.56,507.98 Z" fill="#76dde2" stroke="#76dde2" stroke-width="0.5" stroke-linejoin="round"/>
<path d="M387.61,524.19 L387.53,524.80 L387.41,525.40 L387.24,526.00 L387.04,526.58 L386.80,527.16 L386.51,527.71 L386.19,528.25 L385.84,528.76 L385.45,529.26 L385.03,529.72 L384.58,530.17 L384.10,530.58 L383.61,530.97 L383.09,531.32 L382.56,531.65 L382.01,531.94 L381.45,532.20 L380.89,532.42 L380.32,532.61 L379.75,532.77 L379.18,532.90 L378.62,532.99 L378.07,533.05 L377.53,533.07 L377.01,533.07 L376.51,533.04 L376.03,532.97 L375.57,532.88 L375.14,532.77 L374.74,532.63 L374.38,532.47 L374.05,532.29 L373.75,532.09 L373.49,531.88 L373.28,531.65 L373.10,531.42 L372.97,531.18 L372.87,530.93 L372.83,530.68 L372.82,530.44 L372.89,529.23 L372.92,529.08 L372.99,528.91 L373.11,528.75 L373.27,528.59 L373.47,528.43 L373.71,528.27 L373.99,528.12 L374.30,527.97 L374.65,527.82 L375.04,527.66 L375.45,527.52 L375.90,527.37 L376.37,527.22 L376.86,527.07 L377.37,526.92 L377.90,526.78 L378.45,526.63 L379.01,526.48 L379.57,526.33 L380.14,526.19 L380.71,526.03 L381.27,525.88 L381.83,525.73 L382.39,525.58 L382.92,525.42 L383.45,525.26 L383.95,525.10 L384.44,524.94 L384.90,524.77 L385.33,524.61 L385.73,524.44 L386.10,524.26 L386.44,524.09 L386.73,523.91 L387.00,523.73 L387.22,523.55 L387.40,523.36 L387.54,523.17 L387.64,522.98 L387.69,522.79 Z" fill="#76dde2" stroke="#76dde2" stroke-width="0.5" stroke-linejoin="round"/>
<path d="M346.00,494.00 C347.00,493.33 349.33,490.33 352.00,490.00 C354.67,489.67 359.00,491.00 362.00,492.00 C365.00,493.00 368.67,495.33 370.00,496.00" fill="none" stroke="#76dde2" stroke-width="2.2" stroke-linecap="round" stroke-linejoin="round" opacity="1"/>
<path d="M384.00,508.00 C385.00,509.00 388.33,512.00 390.00,514.00 C391.67,516.00 393.33,519.00 394.00,520.00" fill="none" stroke="#76dde2" stroke-width="1.8" stroke-linecap="round" stroke-linejoin="round" opacity="1"/>
<circle cx="371.20" cy="534.00" r="3.8" fill="url(#gR)"/>
<circle cx="377.00" cy="535.00" r="3.8" fill="url(#gR)"/>
<circle cx="382.70" cy="536.00" r="3.8" fill="url(#gR)"/>
<circle cx="386.00" cy="537.00" r="3.8" fill="url(#gR)"/>
<circle cx="357.70" cy="533.00" r="4.1" fill="url(#gP)"/>
<circle cx="359.60" cy="538.80" r="4.1" fill="url(#gP)"/>
<circle cx="363.50" cy="537.00" r="4.1" fill="url(#gP)"/>
<circle cx="369.20" cy="539.80" r="4.1" fill="url(#gP)"/>
<circle cx="375.00" cy="541.70" r="4.1" fill="url(#gP)"/>
<circle cx="380.80" cy="544.60" r="4.1" fill="url(#gP)"/>
<circle cx="366.00" cy="543.00" r="4.1" fill="url(#gP)"/>
<path d="M360.88,576.71 L360.94,576.79 L361.04,576.86 L361.19,576.94 L361.39,577.01 L361.62,577.08 L361.89,577.15 L362.21,577.23 L362.56,577.30 L362.95,577.37 L363.37,577.45 L363.82,577.53 L364.30,577.61 L364.80,577.69 L365.33,577.78 L365.87,577.88 L366.43,577.98 L367.01,578.08 L367.59,578.20 L368.18,578.31 L368.78,578.44 L369.37,578.57 L369.96,578.71 L370.54,578.86 L371.10,579.01 L371.66,579.18 L372.20,579.35 L372.71,579.52 L373.20,579.71 L373.67,579.91 L374.11,580.11 L374.51,580.32 L374.88,580.53 L375.21,580.76 L375.51,580.99 L375.76,581.23 L375.98,581.47 L376.15,581.72 L376.28,581.97 L376.36,582.23 L376.40,582.53 L376.32,581.50 L376.25,580.94 L376.14,580.34 L375.99,579.75 L375.79,579.18 L375.55,578.61 L375.26,578.06 L374.94,577.53 L374.59,577.03 L374.19,576.54 L373.77,576.07 L373.31,575.64 L372.83,575.23 L372.32,574.85 L371.79,574.49 L371.24,574.17 L370.68,573.88 L370.10,573.63 L369.51,573.41 L368.92,573.22 L368.33,573.06 L367.74,572.94 L367.15,572.85 L366.57,572.79 L366.00,572.76 L365.45,572.77 L364.91,572.81 L364.40,572.87 L363.91,572.96 L363.45,573.08 L363.02,573.22 L362.61,573.38 L362.25,573.57 L361.92,573.77 L361.63,573.98 L361.38,574.21 L361.17,574.45 L361.01,574.70 L360.88,574.96 L360.81,575.21 L360.77,575.47 Z" fill="#4fb3bb" stroke="#4fb3bb" stroke-width="0.5" stroke-linejoin="round"/>
<path d="M362.05,590.81 L362.10,590.89 L362.20,590.97 L362.34,591.04 L362.52,591.12 L362.75,591.19 L363.02,591.26 L363.33,591.33 L363.67,591.40 L364.05,591.48 L364.47,591.55 L364.91,591.63 L365.39,591.71 L365.89,591.80 L366.41,591.88 L366.95,591.98 L367.51,592.08 L368.08,592.18 L368.67,592.29 L369.26,592.41 L369.85,592.53 L370.44,592.66 L371.03,592.80 L371.61,592.95 L372.18,593.10 L372.74,593.26 L373.28,593.43 L373.80,593.61 L374.30,593.80 L374.77,593.99 L375.21,594.19 L375.62,594.40 L375.99,594.61 L376.33,594.84 L376.64,595.07 L376.90,595.30 L377.12,595.54 L376.92,593.19 L376.68,592.63 L376.39,592.09 L376.06,591.56 L375.70,591.06 L375.30,590.57 L374.87,590.11 L374.41,589.68 L373.92,589.27 L373.41,588.90 L372.87,588.55 L372.32,588.24 L371.75,587.95 L371.17,587.70 L370.59,587.49 L369.99,587.30 L369.40,587.15 L368.81,587.04 L368.22,586.95 L367.64,586.90 L367.08,586.88 L366.53,586.89 L366.00,586.93 L365.49,587.00 L365.00,587.10 L364.55,587.22 L364.12,587.36 L363.72,587.53 L363.37,587.72 L363.04,587.92 L362.76,588.14 L362.52,588.37 L362.32,588.61 L362.16,588.86 L362.04,589.12 L361.97,589.38 L361.95,589.64 Z" fill="#4fb3bb" stroke="#4fb3bb" stroke-width="0.5" stroke-linejoin="round"/>
<path d="M368.50,578.05 L367.94,578.26 L367.38,578.43 L366.82,578.57 L366.26,578.68 L365.72,578.75 L365.19,578.79 L364.69,578.80 L364.20,578.78 L363.73,578.72 L363.29,578.65 L362.88,578.54 L362.51,578.41 L362.16,578.26 L361.86,578.08 L361.59,577.89 L361.36,577.68 L361.17,577.46 L361.03,577.22 L360.93,576.98 L360.87,576.73 L360.88,576.71 L360.77,575.47 L360.78,575.63 L360.81,575.54 L360.88,575.45 L361.00,575.36 L361.16,575.26 L361.36,575.15 L361.60,575.04 L361.88,574.92 L362.20,574.79 L362.56,574.65 L362.95,574.51 L363.37,574.36 L363.82,574.21 L364.29,574.04 L364.79,573.87 L365.30,573.69 L365.83,573.50 L366.38,573.31 L366.93,573.10 L367.49,572.89 L368.06,572.67 Z" fill="#76dde2" stroke="#76dde2" stroke-width="0.5" stroke-linejoin="round"/>
<path d="M376.40,582.53 L376.43,583.14 L376.40,583.75 L376.34,584.35 L376.23,584.95 L376.07,585.55 L375.88,586.13 L375.64,586.70 L375.36,587.26 L375.05,587.80 L374.69,588.32 L374.31,588.83 L373.89,589.31 L373.45,589.76 L372.98,590.19 L372.48,590.59 L371.97,590.96 L371.44,591.30 L370.90,591.61 L370.34,591.89 L369.78,592.13 L369.22,592.34 L368.65,592.52 L368.09,592.67 L367.54,592.78 L366.99,592.85 L366.46,592.90 L365.95,592.92 L365.46,592.90 L364.99,592.85 L364.54,592.78 L364.13,592.68 L363.75,592.55 L363.40,592.40 L363.08,592.23 L362.81,592.04 L362.57,591.84 L362.38,591.62 L362.23,591.38 L362.12,591.14 L362.05,590.89 L362.05,590.81 L361.95,589.64 L361.96,589.73 L361.99,589.64 L362.07,589.55 L362.20,589.46 L362.37,589.35 L362.58,589.25 L362.83,589.13 L363.12,589.01 L363.44,588.88 L363.80,588.75 L364.20,588.61 L364.62,588.46 L365.07,588.30 L365.55,588.13 L366.05,587.96 L366.57,587.78 L367.10,587.59 L367.65,587.39 L368.21,587.18 L368.77,586.97 L369.33,586.75 L369.89,586.52 L370.45,586.29 L371.00,586.05 L371.54,585.81 L372.06,585.55 L372.57,585.30 L373.06,585.04 L373.52,584.77 L373.95,584.51 L374.35,584.23 L374.73,583.96 L375.06,583.69 L375.36,583.41 L375.63,583.13 L375.85,582.86 L376.03,582.58 L376.17,582.31 L376.26,582.03 L376.31,581.76 L376.32,581.50 Z" fill="#76dde2" stroke="#76dde2" stroke-width="0.5" stroke-linejoin="round"/>
<path d="M381.56,560.43 L382.34,560.67 L383.35,560.98 L384.54,561.34 L385.88,561.75 L387.31,562.18 L388.81,562.64 L390.32,563.11 L391.81,563.57 L393.23,564.01 L394.54,564.43 L395.83,564.84 L397.19,565.29 L398.58,565.75 L399.97,566.21 L401.33,566.67 L402.63,567.11 L403.83,567.52 L404.90,567.88 L405.81,568.18 L406.52,568.42 L407.48,565.58 L406.77,565.34 L405.86,565.03 L404.79,564.67 L403.59,564.27 L402.29,563.83 L400.92,563.37 L399.52,562.90 L398.13,562.44 L396.76,561.99 L395.46,561.57 L394.13,561.15 L392.70,560.70 L391.21,560.24 L389.69,559.77 L388.19,559.32 L386.75,558.88 L385.41,558.47 L384.22,558.11 L383.22,557.80 L382.44,557.57 Z" fill="#76dde2" stroke="#4fb3bb" stroke-width="0.6" stroke-linejoin="round"/>
<circle cx="378.00" cy="549.60" r="3.9" fill="url(#gO)"/>
<circle cx="370.00" cy="556.00" r="3.9" fill="url(#gO)"/>
<circle cx="374.20" cy="555.40" r="3.9" fill="url(#gO)"/>
<circle cx="380.00" cy="558.30" r="3.9" fill="url(#gO)"/>
<circle cx="368.50" cy="563.00" r="3.9" fill="url(#gO)"/>
<circle cx="376.20" cy="561.50" r="3.9" fill="url(#gO)"/>
<text x="28.20" y="463.10" font-size="6.6" fill="#222" textLength="24.9" lengthAdjust="spacingAndGlyphs" stroke="#222" stroke-width="0.06">alpha-1</text>
<text x="28.50" y="472.80" font-size="6.6" fill="#222" textLength="25.6" lengthAdjust="spacingAndGlyphs" stroke="#222" stroke-width="0.06">domain</text>
<text x="6.30" y="524.20" font-size="8.0" fill="#5fb33c" textLength="41.2" lengthAdjust="spacingAndGlyphs" stroke="#5fb33c" stroke-width="0.06">DRA*01:01</text>
<text x="156.30" y="470.80" font-size="19" fill="#e0831a" textLength="13.2" lengthAdjust="spacingAndGlyphs" font-weight="bold">N</text>
<text x="169.30" y="470.80" font-size="13" fill="#e0831a" textLength="16.2" lengthAdjust="spacingAndGlyphs" font-weight="bold">77</text>
<text x="157.50" y="492.70" font-size="19" fill="#d49ad0" textLength="12.0" lengthAdjust="spacingAndGlyphs" font-weight="bold">R</text>
<text x="170.40" y="492.70" font-size="13" fill="#d49ad0" textLength="16.8" lengthAdjust="spacingAndGlyphs" font-weight="bold">74</text>
<text x="137.80" y="526.20" font-size="19" fill="#a8141c" textLength="14.6" lengthAdjust="spacingAndGlyphs" font-weight="bold">Y</text>
<text x="152.60" y="526.20" font-size="13" fill="#a8141c" textLength="14.8" lengthAdjust="spacingAndGlyphs" font-weight="bold">26</text>
<text x="181.90" y="507.20" font-size="6.8" fill="#222" textLength="19.2" lengthAdjust="spacingAndGlyphs" stroke="#222" stroke-width="0.06">beta-1</text>
<text x="181.20" y="516.50" font-size="6.8" fill="#222" textLength="25.6" lengthAdjust="spacingAndGlyphs" stroke="#222" stroke-width="0.06">domain</text>
<text x="138.90" y="612.10" font-size="8.2" fill="#55b3bb" textLength="46.8" lengthAdjust="spacingAndGlyphs" stroke="#55b3bb" stroke-width="0.06">DRB1*03:01</text>
<text x="86.10" y="673.50" font-size="8.6" fill="#222" textLength="42.6" lengthAdjust="spacingAndGlyphs" stroke="#222" stroke-width="0.06">SIDE VIEW</text>
<text x="271.90" y="474.20" font-size="6.6" fill="#222" textLength="25.0" lengthAdjust="spacingAndGlyphs" stroke="#222" stroke-width="0.06">alpha-1</text>
<text x="272.30" y="483.80" font-size="6.6" fill="#222" textLength="25.4" lengthAdjust="spacingAndGlyphs" stroke="#222" stroke-width="0.06">domain</text>
<text x="401.30" y="490.30" font-size="6.6" fill="#222" textLength="22.4" lengthAdjust="spacingAndGlyphs" stroke="#222" stroke-width="0.06">beta-1</text>
<text x="400.00" y="500.40" font-size="6.6" fill="#222" textLength="26.0" lengthAdjust="spacingAndGlyphs" stroke="#222" stroke-width="0.06">domain</text>
<text x="389.70" y="534.50" font-size="19" fill="#a8141c" textLength="12.8" lengthAdjust="spacingAndGlyphs" font-weight="bold">Y</text>
<text x="403.20" y="534.50" font-size="13" fill="#a8141c" textLength="15.8" lengthAdjust="spacingAndGlyphs" font-weight="bold">26</text>
<text x="392.60" y="558.20" font-size="19" fill="#d49ad0" textLength="12.4" lengthAdjust="spacingAndGlyphs" font-weight="bold">R</text>
<text x="406.00" y="558.20" font-size="13" fill="#d49ad0" textLength="15.2" lengthAdjust="spacingAndGlyphs" font-weight="bold">74</text>
<text x="377.00" y="585.70" font-size="19" fill="#e0831a" textLength="12.9" lengthAdjust="spacingAndGlyphs" font-weight="bold">N</text>
<text x="390.90" y="585.70" font-size="13" fill="#e0831a" textLength="14.8" lengthAdjust="spacingAndGlyphs" font-weight="bold">77</text>
<text x="257.70" y="641.70" font-size="8.2" fill="#5fb33c" textLength="40.4" lengthAdjust="spacingAndGlyphs" stroke="#5fb33c" stroke-width="0.06">DRA*01:01</text>
<text x="341.70" y="649.80" font-size="8.2" fill="#55b3bb" textLength="46.0" lengthAdjust="spacingAndGlyphs" stroke="#55b3bb" stroke-width="0.06">DRB1*03:01</text>
<text x="288.70" y="673.20" font-size="8.6" fill="#222" textLength="65.9" lengthAdjust="spacingAndGlyphs" stroke="#222" stroke-width="0.06">Top-DOWN VIEW</text>
</svg></body></html>
